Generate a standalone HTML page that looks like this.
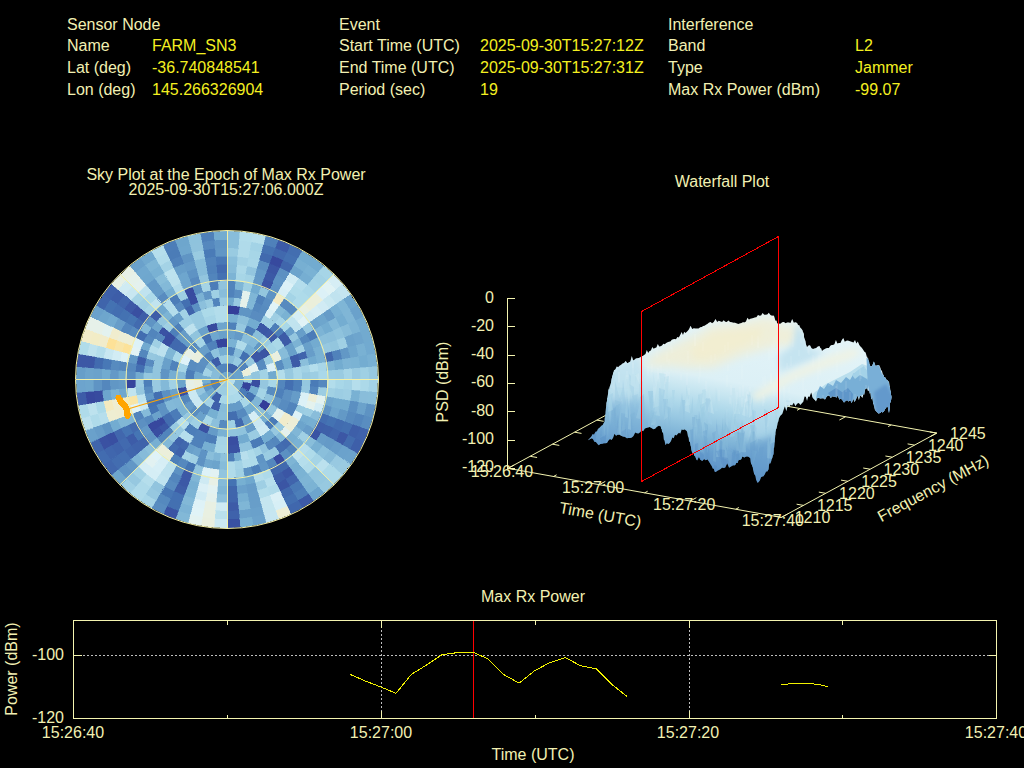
<!DOCTYPE html>
<html lang="en">
<head>
<meta charset="utf-8">
<title>Interference Event Report</title>
<style>
html,body{margin:0;padding:0;background:#000;width:1024px;height:768px;overflow:hidden}
svg{position:absolute;left:0;top:0;display:block}
text{font-family:"Liberation Sans",sans-serif;font-size:16px;fill:#f2f0b2}
.v{fill:#f4f020}
.m{text-anchor:middle}
.e{text-anchor:end}
.ax{stroke:#f4f4b0;stroke-width:1;fill:none;shape-rendering:crispEdges}
.axs{stroke:#f4f4b0;stroke-width:1;fill:none}
.dot{stroke:#bebebe;stroke-width:1;fill:none;stroke-dasharray:2 2;shape-rendering:crispEdges}
</style>
</head>
<body>
<svg width="1024" height="768" viewBox="0 0 1024 768">
<rect width="1024" height="768" fill="#000"/>

<!-- HEADER -->
<g id="header">
<text x="67" y="29.5">Sensor Node</text>
<text x="67" y="51">Name</text><text class="v" x="152" y="51">FARM_SN3</text>
<text x="67" y="73">Lat (deg)</text><text class="v" x="152" y="73">-36.740848541</text>
<text x="67" y="95">Lon (deg)</text><text class="v" x="152" y="95">145.266326904</text>

<text x="339" y="29.5">Event</text>
<text x="339" y="51">Start Time (UTC)</text><text class="v" x="480" y="51">2025-09-30T15:27:12Z</text>
<text x="339" y="73">End Time (UTC)</text><text class="v" x="480" y="73">2025-09-30T15:27:31Z</text>
<text x="339" y="95">Period (sec)</text><text class="v" x="480" y="95">19</text>

<text x="668" y="29.5">Interference</text>
<text x="668" y="51">Band</text><text class="v" x="855" y="51">L2</text>
<text x="668" y="73">Type</text><text class="v" x="855" y="73">Jammer</text>
<text x="668" y="95">Max Rx Power (dBm)</text><text class="v" x="855" y="95">-99.07</text>
</g>

<!-- SKYPLOT -->
<g id="sky">
<text class="m" x="226" y="180">Sky Plot at the Epoch of Max Rx Power</text>
<text class="m" x="226" y="195">2025-09-30T15:27:06.000Z</text>
<g shape-rendering="crispEdges">
<path fill="#679dc9" stroke="#679dc9" stroke-width=".6" d="M227.0 371.3A8.4 8.2 0 0 1 235.4 379.5L227.0 379.5Z"/>
<path fill="#b6deec" stroke="#b6deec" stroke-width=".6" d="M235.4 379.5A8.4 8.2 0 0 1 227.0 387.7L227.0 379.5Z"/>
<path fill="#99cae1" stroke="#99cae1" stroke-width=".6" d="M227.0 387.7A8.4 8.2 0 0 1 218.6 379.5L227.0 379.5Z"/>
<path fill="#70a8ce" stroke="#70a8ce" stroke-width=".6" d="M218.6 379.5A8.4 8.2 0 0 1 227.0 371.3L227.0 379.5Z"/>
<path fill="#3f62aa" stroke="#3f62aa" stroke-width=".6" d="M227.0 363.0A16.7 16.5 0 0 1 238.8 367.9L232.9 373.7A8.4 8.2 0 0 0 227.0 371.3Z"/>
<path fill="#6aa2cb" stroke="#6aa2cb" stroke-width=".6" d="M238.8 367.9A16.7 16.5 0 0 1 243.7 379.5L235.4 379.5A8.4 8.2 0 0 0 232.9 373.7Z"/>
<path fill="#78b0d3" stroke="#78b0d3" stroke-width=".6" d="M243.7 379.5A16.7 16.5 0 0 1 238.8 391.1L232.9 385.3A8.4 8.2 0 0 0 235.4 379.5Z"/>
<path fill="#b3ddeb" stroke="#b3ddeb" stroke-width=".6" d="M238.8 391.1A16.7 16.5 0 0 1 227.0 396.0L227.0 387.7A8.4 8.2 0 0 0 232.9 385.3Z"/>
<path fill="#9ccde2" stroke="#9ccde2" stroke-width=".6" d="M227.0 396.0A16.7 16.5 0 0 1 215.2 391.1L221.1 385.3A8.4 8.2 0 0 0 227.0 387.7Z"/>
<path fill="#4f81ba" stroke="#4f81ba" stroke-width=".6" d="M215.2 391.1A16.7 16.5 0 0 1 210.3 379.5L218.6 379.5A8.4 8.2 0 0 0 221.1 385.3Z"/>
<path fill="#87bcd9" stroke="#87bcd9" stroke-width=".6" d="M210.3 379.5A16.7 16.5 0 0 1 215.2 367.9L221.1 373.7A8.4 8.2 0 0 0 218.6 379.5Z"/>
<path fill="#5386bd" stroke="#5386bd" stroke-width=".6" d="M215.2 367.9A16.7 16.5 0 0 1 227.0 363.0L227.0 371.3A8.4 8.2 0 0 0 221.1 373.7Z"/>
<path fill="#87bcd9" stroke="#87bcd9" stroke-width=".6" d="M227.0 354.8A25.1 24.7 0 0 1 235.6 356.3L232.7 364.0A16.7 16.5 0 0 0 227.0 363.0Z"/>
<path fill="#98cae1" stroke="#98cae1" stroke-width=".6" d="M235.6 356.3A25.1 24.7 0 0 1 243.1 360.6L237.8 366.9A16.7 16.5 0 0 0 232.7 364.0Z"/>
<path fill="#5184bc" stroke="#5184bc" stroke-width=".6" d="M243.1 360.6A25.1 24.7 0 0 1 248.7 367.1L241.5 371.3A16.7 16.5 0 0 0 237.8 366.9Z"/>
<path fill="#ebefda" stroke="#ebefda" stroke-width=".6" d="M248.7 367.1A25.1 24.7 0 0 1 251.7 375.2L243.5 376.6A16.7 16.5 0 0 0 241.5 371.3Z"/>
<path fill="#9acce2" stroke="#9acce2" stroke-width=".6" d="M251.7 375.2A25.1 24.7 0 0 1 251.7 383.8L243.5 382.4A16.7 16.5 0 0 0 243.5 376.6Z"/>
<path fill="#35429b" stroke="#35429b" stroke-width=".6" d="M251.7 383.8A25.1 24.7 0 0 1 248.7 391.8L241.5 387.7A16.7 16.5 0 0 0 243.5 382.4Z"/>
<path fill="#4b7cb8" stroke="#4b7cb8" stroke-width=".6" d="M248.7 391.8A25.1 24.7 0 0 1 243.1 398.4L237.8 392.1A16.7 16.5 0 0 0 241.5 387.7Z"/>
<path fill="#addaea" stroke="#addaea" stroke-width=".6" d="M243.1 398.4A25.1 24.7 0 0 1 235.6 402.7L232.7 395.0A16.7 16.5 0 0 0 237.8 392.1Z"/>
<path fill="#abd9e9" stroke="#abd9e9" stroke-width=".6" d="M235.6 402.7A25.1 24.7 0 0 1 227.0 404.2L227.0 396.0A16.7 16.5 0 0 0 232.7 395.0Z"/>
<path fill="#a8d7e8" stroke="#a8d7e8" stroke-width=".6" d="M227.0 404.2A25.1 24.7 0 0 1 218.4 402.7L221.3 395.0A16.7 16.5 0 0 0 227.0 396.0Z"/>
<path fill="#3e5ea9" stroke="#3e5ea9" stroke-width=".6" d="M218.4 402.7A25.1 24.7 0 0 1 210.9 398.4L216.2 392.1A16.7 16.5 0 0 0 221.3 395.0Z"/>
<path fill="#70a8cf" stroke="#70a8cf" stroke-width=".6" d="M210.9 398.4A25.1 24.7 0 0 1 205.3 391.9L212.5 387.7A16.7 16.5 0 0 0 216.2 392.1Z"/>
<path fill="#6196c5" stroke="#6196c5" stroke-width=".6" d="M205.3 391.9A25.1 24.7 0 0 1 202.3 383.8L210.5 382.4A16.7 16.5 0 0 0 212.5 387.7Z"/>
<path fill="#75aed1" stroke="#75aed1" stroke-width=".6" d="M202.3 383.8A25.1 24.7 0 0 1 202.3 375.2L210.5 376.6A16.7 16.5 0 0 0 210.5 382.4Z"/>
<path fill="#a2d2e5" stroke="#a2d2e5" stroke-width=".6" d="M202.3 375.2A25.1 24.7 0 0 1 205.3 367.1L212.5 371.3A16.7 16.5 0 0 0 210.5 376.6Z"/>
<path fill="#80b7d6" stroke="#80b7d6" stroke-width=".6" d="M205.3 367.1A25.1 24.7 0 0 1 210.9 360.6L216.2 366.9A16.7 16.5 0 0 0 212.5 371.3Z"/>
<path fill="#3d5da8" stroke="#3d5da8" stroke-width=".6" d="M210.9 360.6A25.1 24.7 0 0 1 218.4 356.3L221.3 364.0A16.7 16.5 0 0 0 216.2 366.9Z"/>
<path fill="#9bcde2" stroke="#9bcde2" stroke-width=".6" d="M218.4 356.3A25.1 24.7 0 0 1 227.0 354.8L227.0 363.0A16.7 16.5 0 0 0 221.3 364.0Z"/>
<path fill="#5082bb" stroke="#5082bb" stroke-width=".6" d="M227.0 346.6A33.5 32.9 0 0 1 235.7 347.7L233.5 355.6A25.1 24.7 0 0 0 227.0 354.8Z"/>
<path fill="#88bdda" stroke="#88bdda" stroke-width=".6" d="M235.7 347.7A33.5 32.9 0 0 1 243.7 351.0L239.6 358.1A25.1 24.7 0 0 0 233.5 355.6Z"/>
<path fill="#436fb1" stroke="#436fb1" stroke-width=".6" d="M243.7 351.0A33.5 32.9 0 0 1 250.7 356.2L244.7 362.0A25.1 24.7 0 0 0 239.6 358.1Z"/>
<path fill="#93c6df" stroke="#93c6df" stroke-width=".6" d="M250.7 356.2A33.5 32.9 0 0 1 256.0 363.0L248.7 367.1A25.1 24.7 0 0 0 244.7 362.0Z"/>
<path fill="#e3f2f1" stroke="#e3f2f1" stroke-width=".6" d="M256.0 363.0A33.5 32.9 0 0 1 259.3 371.0L251.2 373.1A25.1 24.7 0 0 0 248.7 367.1Z"/>
<path fill="#92c5de" stroke="#92c5de" stroke-width=".6" d="M259.3 371.0A33.5 32.9 0 0 1 260.5 379.5L252.1 379.5A25.1 24.7 0 0 0 251.2 373.1Z"/>
<path fill="#394ea1" stroke="#394ea1" stroke-width=".6" d="M260.5 379.5A33.5 32.9 0 0 1 259.3 388.0L251.2 385.9A25.1 24.7 0 0 0 252.1 379.5Z"/>
<path fill="#74add1" stroke="#74add1" stroke-width=".6" d="M259.3 388.0A33.5 32.9 0 0 1 256.0 396.0L248.7 391.8A25.1 24.7 0 0 0 251.2 385.9Z"/>
<path fill="#4370b1" stroke="#4370b1" stroke-width=".6" d="M256.0 396.0A33.5 32.9 0 0 1 250.7 402.8L244.7 397.0A25.1 24.7 0 0 0 248.7 391.8Z"/>
<path fill="#a8d7e8" stroke="#a8d7e8" stroke-width=".6" d="M250.7 402.8A33.5 32.9 0 0 1 243.7 408.0L239.6 400.9A25.1 24.7 0 0 0 244.7 397.0Z"/>
<path fill="#659bc8" stroke="#659bc8" stroke-width=".6" d="M243.7 408.0A33.5 32.9 0 0 1 235.7 411.3L233.5 403.4A25.1 24.7 0 0 0 239.6 400.9Z"/>
<path fill="#659bc7" stroke="#659bc7" stroke-width=".6" d="M235.7 411.3A33.5 32.9 0 0 1 227.0 412.4L227.0 404.2A25.1 24.7 0 0 0 233.5 403.4Z"/>
<path fill="#87bcd9" stroke="#87bcd9" stroke-width=".6" d="M227.0 412.4A33.5 32.9 0 0 1 218.3 411.3L220.5 403.4A25.1 24.7 0 0 0 227.0 404.2Z"/>
<path fill="#3e60aa" stroke="#3e60aa" stroke-width=".6" d="M218.3 411.3A33.5 32.9 0 0 1 210.3 408.0L214.4 400.9A25.1 24.7 0 0 0 220.5 403.4Z"/>
<path fill="#a3d2e5" stroke="#a3d2e5" stroke-width=".6" d="M210.3 408.0A33.5 32.9 0 0 1 203.3 402.8L209.3 397.0A25.1 24.7 0 0 0 214.4 400.9Z"/>
<path fill="#7cb4d5" stroke="#7cb4d5" stroke-width=".6" d="M203.3 402.8A33.5 32.9 0 0 1 198.0 396.0L205.3 391.9A25.1 24.7 0 0 0 209.3 397.0Z"/>
<path fill="#94c6df" stroke="#94c6df" stroke-width=".6" d="M198.0 396.0A33.5 32.9 0 0 1 194.7 388.0L202.8 385.9A25.1 24.7 0 0 0 205.3 391.9Z"/>
<path fill="#e9efdf" stroke="#e9efdf" stroke-width=".6" d="M194.7 388.0A33.5 32.9 0 0 1 193.5 379.5L201.9 379.5A25.1 24.7 0 0 0 202.8 385.9Z"/>
<path fill="#71a9cf" stroke="#71a9cf" stroke-width=".6" d="M193.5 379.5A33.5 32.9 0 0 1 194.7 371.0L202.8 373.1A25.1 24.7 0 0 0 201.9 379.5Z"/>
<path fill="#5a8ec1" stroke="#5a8ec1" stroke-width=".6" d="M194.7 371.0A33.5 32.9 0 0 1 198.0 363.0L205.3 367.1A25.1 24.7 0 0 0 202.8 373.1Z"/>
<path fill="#5c90c2" stroke="#5c90c2" stroke-width=".6" d="M198.0 363.0A33.5 32.9 0 0 1 203.3 356.2L209.3 362.0A25.1 24.7 0 0 0 205.3 367.1Z"/>
<path fill="#4d7fb9" stroke="#4d7fb9" stroke-width=".6" d="M203.3 356.2A33.5 32.9 0 0 1 210.3 351.0L214.4 358.1A25.1 24.7 0 0 0 209.3 362.0Z"/>
<path fill="#8fc3dd" stroke="#8fc3dd" stroke-width=".6" d="M210.3 351.0A33.5 32.9 0 0 1 218.3 347.7L220.5 355.6A25.1 24.7 0 0 0 214.4 358.1Z"/>
<path fill="#76aed2" stroke="#76aed2" stroke-width=".6" d="M218.3 347.7A33.5 32.9 0 0 1 227.0 346.6L227.0 354.8A25.1 24.7 0 0 0 220.5 355.6Z"/>
<path fill="#7ab2d4" stroke="#7ab2d4" stroke-width=".6" d="M227.0 338.3A41.8 41.2 0 0 1 237.8 339.7L235.7 347.7A33.5 32.9 0 0 0 227.0 346.6Z"/>
<path fill="#b0dbea" stroke="#b0dbea" stroke-width=".6" d="M237.8 339.7A41.8 41.2 0 0 1 247.9 343.8L243.7 351.0A33.5 32.9 0 0 0 235.7 347.7Z"/>
<path fill="#78b0d3" stroke="#78b0d3" stroke-width=".6" d="M247.9 343.8A41.8 41.2 0 0 1 256.6 350.4L250.7 356.2A33.5 32.9 0 0 0 243.7 351.0Z"/>
<path fill="#3c57a5" stroke="#3c57a5" stroke-width=".6" d="M256.6 350.4A41.8 41.2 0 0 1 263.2 358.9L256.0 363.0A33.5 32.9 0 0 0 250.7 356.2Z"/>
<path fill="#578abf" stroke="#578abf" stroke-width=".6" d="M263.2 358.9A41.8 41.2 0 0 1 267.4 368.8L259.3 371.0A33.5 32.9 0 0 0 256.0 363.0Z"/>
<path fill="#a2d2e5" stroke="#a2d2e5" stroke-width=".6" d="M267.4 368.8A41.8 41.2 0 0 1 268.8 379.5L260.5 379.5A33.5 32.9 0 0 0 259.3 371.0Z"/>
<path fill="#95c7df" stroke="#95c7df" stroke-width=".6" d="M268.8 379.5A41.8 41.2 0 0 1 267.4 390.2L259.3 388.0A33.5 32.9 0 0 0 260.5 379.5Z"/>
<path fill="#a4d4e6" stroke="#a4d4e6" stroke-width=".6" d="M267.4 390.2A41.8 41.2 0 0 1 263.2 400.1L256.0 396.0A33.5 32.9 0 0 0 259.3 388.0Z"/>
<path fill="#80b6d6" stroke="#80b6d6" stroke-width=".6" d="M263.2 400.1A41.8 41.2 0 0 1 256.6 408.6L250.7 402.8A33.5 32.9 0 0 0 256.0 396.0Z"/>
<path fill="#76afd2" stroke="#76afd2" stroke-width=".6" d="M256.6 408.6A41.8 41.2 0 0 1 247.9 415.2L243.7 408.0A33.5 32.9 0 0 0 250.7 402.8Z"/>
<path fill="#568abf" stroke="#568abf" stroke-width=".6" d="M247.9 415.2A41.8 41.2 0 0 1 237.8 419.3L235.7 411.3A33.5 32.9 0 0 0 243.7 408.0Z"/>
<path fill="#436eb0" stroke="#436eb0" stroke-width=".6" d="M237.8 419.3A41.8 41.2 0 0 1 227.0 420.7L227.0 412.4A33.5 32.9 0 0 0 235.7 411.3Z"/>
<path fill="#89beda" stroke="#89beda" stroke-width=".6" d="M227.0 420.7A41.8 41.2 0 0 1 216.2 419.3L218.3 411.3A33.5 32.9 0 0 0 227.0 412.4Z"/>
<path fill="#77b0d2" stroke="#77b0d2" stroke-width=".6" d="M216.2 419.3A41.8 41.2 0 0 1 206.1 415.2L210.3 408.0A33.5 32.9 0 0 0 218.3 411.3Z"/>
<path fill="#5b8fc2" stroke="#5b8fc2" stroke-width=".6" d="M206.1 415.2A41.8 41.2 0 0 1 197.4 408.6L203.3 402.8A33.5 32.9 0 0 0 210.3 408.0Z"/>
<path fill="#cae8f2" stroke="#cae8f2" stroke-width=".6" d="M197.4 408.6A41.8 41.2 0 0 1 190.8 400.1L198.0 396.0A33.5 32.9 0 0 0 203.3 402.8Z"/>
<path fill="#cbe9f2" stroke="#cbe9f2" stroke-width=".6" d="M190.8 400.1A41.8 41.2 0 0 1 186.6 390.2L194.7 388.0A33.5 32.9 0 0 0 198.0 396.0Z"/>
<path fill="#e6f0e7" stroke="#e6f0e7" stroke-width=".6" d="M186.6 390.2A41.8 41.2 0 0 1 185.2 379.5L193.5 379.5A33.5 32.9 0 0 0 194.7 388.0Z"/>
<path fill="#4c7db8" stroke="#4c7db8" stroke-width=".6" d="M185.2 379.5A41.8 41.2 0 0 1 186.6 368.8L194.7 371.0A33.5 32.9 0 0 0 193.5 379.5Z"/>
<path fill="#588cc0" stroke="#588cc0" stroke-width=".6" d="M186.6 368.8A41.8 41.2 0 0 1 190.8 358.9L198.0 363.0A33.5 32.9 0 0 0 194.7 371.0Z"/>
<path fill="#e9efdf" stroke="#e9efdf" stroke-width=".6" d="M190.8 358.9A41.8 41.2 0 0 1 197.4 350.4L203.3 356.2A33.5 32.9 0 0 0 198.0 363.0Z"/>
<path fill="#689ec9" stroke="#689ec9" stroke-width=".6" d="M197.4 350.4A41.8 41.2 0 0 1 206.1 343.8L210.3 351.0A33.5 32.9 0 0 0 203.3 356.2Z"/>
<path fill="#5082bb" stroke="#5082bb" stroke-width=".6" d="M206.1 343.8A41.8 41.2 0 0 1 216.2 339.7L218.3 347.7A33.5 32.9 0 0 0 210.3 351.0Z"/>
<path fill="#35449c" stroke="#35449c" stroke-width=".6" d="M216.2 339.7A41.8 41.2 0 0 1 227.0 338.3L227.0 346.6A33.5 32.9 0 0 0 218.3 347.7Z"/>
<path fill="#6aa2cb" stroke="#6aa2cb" stroke-width=".6" d="M227.0 330.1A50.2 49.4 0 0 1 235.7 330.9L234.3 339.0A41.8 41.2 0 0 0 227.0 338.3Z"/>
<path fill="#649ac7" stroke="#649ac7" stroke-width=".6" d="M235.7 330.9A50.2 49.4 0 0 1 244.2 333.1L241.3 340.8A41.8 41.2 0 0 0 234.3 339.0Z"/>
<path fill="#88bdda" stroke="#88bdda" stroke-width=".6" d="M244.2 333.1A50.2 49.4 0 0 1 252.1 336.7L247.9 343.8A41.8 41.2 0 0 0 241.3 340.8Z"/>
<path fill="#83b9d8" stroke="#83b9d8" stroke-width=".6" d="M252.1 336.7A50.2 49.4 0 0 1 259.3 341.7L253.9 348.0A41.8 41.2 0 0 0 247.9 343.8Z"/>
<path fill="#6197c5" stroke="#6197c5" stroke-width=".6" d="M259.3 341.7A50.2 49.4 0 0 1 265.5 347.7L259.0 353.0A41.8 41.2 0 0 0 253.9 348.0Z"/>
<path fill="#3a53a3" stroke="#3a53a3" stroke-width=".6" d="M265.5 347.7A50.2 49.4 0 0 1 270.5 354.8L263.2 358.9A41.8 41.2 0 0 0 259.0 353.0Z"/>
<path fill="#99cae1" stroke="#99cae1" stroke-width=".6" d="M270.5 354.8A50.2 49.4 0 0 1 274.2 362.6L266.3 365.4A41.8 41.2 0 0 0 263.2 358.9Z"/>
<path fill="#dbf0f7" stroke="#dbf0f7" stroke-width=".6" d="M274.2 362.6A50.2 49.4 0 0 1 276.4 370.9L268.2 372.4A41.8 41.2 0 0 0 266.3 365.4Z"/>
<path fill="#71aacf" stroke="#71aacf" stroke-width=".6" d="M276.4 370.9A50.2 49.4 0 0 1 277.2 379.5L268.8 379.5A41.8 41.2 0 0 0 268.2 372.4Z"/>
<path fill="#a8d7e8" stroke="#a8d7e8" stroke-width=".6" d="M277.2 379.5A50.2 49.4 0 0 1 276.4 388.1L268.2 386.6A41.8 41.2 0 0 0 268.8 379.5Z"/>
<path fill="#588cc0" stroke="#588cc0" stroke-width=".6" d="M276.4 388.1A50.2 49.4 0 0 1 274.2 396.4L266.3 393.6A41.8 41.2 0 0 0 268.2 386.6Z"/>
<path fill="#90c3dd" stroke="#90c3dd" stroke-width=".6" d="M274.2 396.4A50.2 49.4 0 0 1 270.5 404.2L263.2 400.1A41.8 41.2 0 0 0 266.3 393.6Z"/>
<path fill="#333d99" stroke="#333d99" stroke-width=".6" d="M270.5 404.2A50.2 49.4 0 0 1 265.5 411.3L259.0 406.0A41.8 41.2 0 0 0 263.2 400.1Z"/>
<path fill="#8abeda" stroke="#8abeda" stroke-width=".6" d="M265.5 411.3A50.2 49.4 0 0 1 259.3 417.3L253.9 411.0A41.8 41.2 0 0 0 259.0 406.0Z"/>
<path fill="#d6eef5" stroke="#d6eef5" stroke-width=".6" d="M259.3 417.3A50.2 49.4 0 0 1 252.1 422.3L247.9 415.2A41.8 41.2 0 0 0 253.9 411.0Z"/>
<path fill="#689fca" stroke="#689fca" stroke-width=".6" d="M252.1 422.3A50.2 49.4 0 0 1 244.2 425.9L241.3 418.2A41.8 41.2 0 0 0 247.9 415.2Z"/>
<path fill="#4169ae" stroke="#4169ae" stroke-width=".6" d="M244.2 425.9A50.2 49.4 0 0 1 235.7 428.1L234.3 420.0A41.8 41.2 0 0 0 241.3 418.2Z"/>
<path fill="#9fd0e4" stroke="#9fd0e4" stroke-width=".6" d="M235.7 428.1A50.2 49.4 0 0 1 227.0 428.9L227.0 420.7A41.8 41.2 0 0 0 234.3 420.0Z"/>
<path fill="#578bbf" stroke="#578bbf" stroke-width=".6" d="M227.0 428.9A50.2 49.4 0 0 1 218.3 428.1L219.7 420.0A41.8 41.2 0 0 0 227.0 420.7Z"/>
<path fill="#8cc0dc" stroke="#8cc0dc" stroke-width=".6" d="M218.3 428.1A50.2 49.4 0 0 1 209.8 425.9L212.7 418.2A41.8 41.2 0 0 0 219.7 420.0Z"/>
<path fill="#a8d7e8" stroke="#a8d7e8" stroke-width=".6" d="M209.8 425.9A50.2 49.4 0 0 1 201.9 422.3L206.1 415.2A41.8 41.2 0 0 0 212.7 418.2Z"/>
<path fill="#6aa1cb" stroke="#6aa1cb" stroke-width=".6" d="M201.9 422.3A50.2 49.4 0 0 1 194.7 417.3L200.1 411.0A41.8 41.2 0 0 0 206.1 415.2Z"/>
<path fill="#5a8ec1" stroke="#5a8ec1" stroke-width=".6" d="M194.7 417.3A50.2 49.4 0 0 1 188.5 411.3L195.0 406.0A41.8 41.2 0 0 0 200.1 411.0Z"/>
<path fill="#649ac7" stroke="#649ac7" stroke-width=".6" d="M188.5 411.3A50.2 49.4 0 0 1 183.5 404.2L190.8 400.1A41.8 41.2 0 0 0 195.0 406.0Z"/>
<path fill="#5386bd" stroke="#5386bd" stroke-width=".6" d="M183.5 404.2A50.2 49.4 0 0 1 179.8 396.4L187.7 393.6A41.8 41.2 0 0 0 190.8 400.1Z"/>
<path fill="#384da0" stroke="#384da0" stroke-width=".6" d="M179.8 396.4A50.2 49.4 0 0 1 177.6 388.1L185.8 386.6A41.8 41.2 0 0 0 187.7 393.6Z"/>
<path fill="#6ca4cc" stroke="#6ca4cc" stroke-width=".6" d="M177.6 388.1A50.2 49.4 0 0 1 176.8 379.5L185.2 379.5A41.8 41.2 0 0 0 185.8 386.6Z"/>
<path fill="#83b9d8" stroke="#83b9d8" stroke-width=".6" d="M176.8 379.5A50.2 49.4 0 0 1 177.6 370.9L185.8 372.4A41.8 41.2 0 0 0 185.2 379.5Z"/>
<path fill="#a4d3e6" stroke="#a4d3e6" stroke-width=".6" d="M177.6 370.9A50.2 49.4 0 0 1 179.8 362.6L187.7 365.4A41.8 41.2 0 0 0 185.8 372.4Z"/>
<path fill="#dff2f8" stroke="#dff2f8" stroke-width=".6" d="M179.8 362.6A50.2 49.4 0 0 1 183.5 354.8L190.8 358.9A41.8 41.2 0 0 0 187.7 365.4Z"/>
<path fill="#e7f0e6" stroke="#e7f0e6" stroke-width=".6" d="M183.5 354.8A50.2 49.4 0 0 1 188.5 347.7L195.0 353.0A41.8 41.2 0 0 0 190.8 358.9Z"/>
<path fill="#598dc1" stroke="#598dc1" stroke-width=".6" d="M188.5 347.7A50.2 49.4 0 0 1 194.7 341.7L200.1 348.0A41.8 41.2 0 0 0 195.0 353.0Z"/>
<path fill="#a5d4e6" stroke="#a5d4e6" stroke-width=".6" d="M194.7 341.7A50.2 49.4 0 0 1 201.9 336.7L206.1 343.8A41.8 41.2 0 0 0 200.1 348.0Z"/>
<path fill="#436fb1" stroke="#436fb1" stroke-width=".6" d="M201.9 336.7A50.2 49.4 0 0 1 209.8 333.1L212.7 340.8A41.8 41.2 0 0 0 206.1 343.8Z"/>
<path fill="#6fa7ce" stroke="#6fa7ce" stroke-width=".6" d="M209.8 333.1A50.2 49.4 0 0 1 218.3 330.9L219.7 339.0A41.8 41.2 0 0 0 212.7 340.8Z"/>
<path fill="#69a0ca" stroke="#69a0ca" stroke-width=".6" d="M218.3 330.9A50.2 49.4 0 0 1 227.0 330.1L227.0 338.3A41.8 41.2 0 0 0 219.7 339.0Z"/>
<path fill="#4f81ba" stroke="#4f81ba" stroke-width=".6" d="M227.0 321.9A58.6 57.6 0 0 1 237.2 322.7L235.7 330.9A50.2 49.4 0 0 0 227.0 330.1Z"/>
<path fill="#96c8e0" stroke="#96c8e0" stroke-width=".6" d="M237.2 322.7A58.6 57.6 0 0 1 247.0 325.3L244.2 333.1A50.2 49.4 0 0 0 235.7 330.9Z"/>
<path fill="#4c7db8" stroke="#4c7db8" stroke-width=".6" d="M247.0 325.3A58.6 57.6 0 0 1 256.3 329.6L252.1 336.7A50.2 49.4 0 0 0 244.2 333.1Z"/>
<path fill="#89beda" stroke="#89beda" stroke-width=".6" d="M256.3 329.6A58.6 57.6 0 0 1 264.6 335.4L259.3 341.7A50.2 49.4 0 0 0 252.1 336.7Z"/>
<path fill="#99cbe1" stroke="#99cbe1" stroke-width=".6" d="M264.6 335.4A58.6 57.6 0 0 1 271.9 342.5L265.5 347.7A50.2 49.4 0 0 0 259.3 341.7Z"/>
<path fill="#a4d4e6" stroke="#a4d4e6" stroke-width=".6" d="M271.9 342.5A58.6 57.6 0 0 1 277.7 350.7L270.5 354.8A50.2 49.4 0 0 0 265.5 347.7Z"/>
<path fill="#e9efdf" stroke="#e9efdf" stroke-width=".6" d="M277.7 350.7A58.6 57.6 0 0 1 282.0 359.8L274.2 362.6A50.2 49.4 0 0 0 270.5 354.8Z"/>
<path fill="#598dc0" stroke="#598dc0" stroke-width=".6" d="M282.0 359.8A58.6 57.6 0 0 1 284.7 369.5L276.4 370.9A50.2 49.4 0 0 0 274.2 362.6Z"/>
<path fill="#b3ddeb" stroke="#b3ddeb" stroke-width=".6" d="M284.7 369.5A58.6 57.6 0 0 1 285.6 379.5L277.2 379.5A50.2 49.4 0 0 0 276.4 370.9Z"/>
<path fill="#5386bd" stroke="#5386bd" stroke-width=".6" d="M285.6 379.5A58.6 57.6 0 0 1 284.7 389.5L276.4 388.1A50.2 49.4 0 0 0 277.2 379.5Z"/>
<path fill="#4e80ba" stroke="#4e80ba" stroke-width=".6" d="M284.7 389.5A58.6 57.6 0 0 1 282.0 399.2L274.2 396.4A50.2 49.4 0 0 0 276.4 388.1Z"/>
<path fill="#6196c5" stroke="#6196c5" stroke-width=".6" d="M282.0 399.2A58.6 57.6 0 0 1 277.7 408.3L270.5 404.2A50.2 49.4 0 0 0 274.2 396.4Z"/>
<path fill="#91c4de" stroke="#91c4de" stroke-width=".6" d="M277.7 408.3A58.6 57.6 0 0 1 271.9 416.5L265.5 411.3A50.2 49.4 0 0 0 270.5 404.2Z"/>
<path fill="#76aed2" stroke="#76aed2" stroke-width=".6" d="M271.9 416.5A58.6 57.6 0 0 1 264.6 423.6L259.3 417.3A50.2 49.4 0 0 0 265.5 411.3Z"/>
<path fill="#c8e7f1" stroke="#c8e7f1" stroke-width=".6" d="M264.6 423.6A58.6 57.6 0 0 1 256.3 429.4L252.1 422.3A50.2 49.4 0 0 0 259.3 417.3Z"/>
<path fill="#669cc8" stroke="#669cc8" stroke-width=".6" d="M256.3 429.4A58.6 57.6 0 0 1 247.0 433.7L244.2 425.9A50.2 49.4 0 0 0 252.1 422.3Z"/>
<path fill="#8fc3dd" stroke="#8fc3dd" stroke-width=".6" d="M247.0 433.7A58.6 57.6 0 0 1 237.2 436.3L235.7 428.1A50.2 49.4 0 0 0 244.2 425.9Z"/>
<path fill="#91c4de" stroke="#91c4de" stroke-width=".6" d="M237.2 436.3A58.6 57.6 0 0 1 227.0 437.1L227.0 428.9A50.2 49.4 0 0 0 235.7 428.1Z"/>
<path fill="#79b1d3" stroke="#79b1d3" stroke-width=".6" d="M227.0 437.1A58.6 57.6 0 0 1 216.8 436.3L218.3 428.1A50.2 49.4 0 0 0 227.0 428.9Z"/>
<path fill="#659bc8" stroke="#659bc8" stroke-width=".6" d="M216.8 436.3A58.6 57.6 0 0 1 207.0 433.7L209.8 425.9A50.2 49.4 0 0 0 218.3 428.1Z"/>
<path fill="#3a51a2" stroke="#3a51a2" stroke-width=".6" d="M207.0 433.7A58.6 57.6 0 0 1 197.7 429.4L201.9 422.3A50.2 49.4 0 0 0 209.8 425.9Z"/>
<path fill="#a0d0e4" stroke="#a0d0e4" stroke-width=".6" d="M197.7 429.4A58.6 57.6 0 0 1 189.4 423.6L194.7 417.3A50.2 49.4 0 0 0 201.9 422.3Z"/>
<path fill="#96c8e0" stroke="#96c8e0" stroke-width=".6" d="M189.4 423.6A58.6 57.6 0 0 1 182.1 416.5L188.5 411.3A50.2 49.4 0 0 0 194.7 417.3Z"/>
<path fill="#7eb5d5" stroke="#7eb5d5" stroke-width=".6" d="M182.1 416.5A58.6 57.6 0 0 1 176.3 408.3L183.5 404.2A50.2 49.4 0 0 0 188.5 411.3Z"/>
<path fill="#81b7d7" stroke="#81b7d7" stroke-width=".6" d="M176.3 408.3A58.6 57.6 0 0 1 172.0 399.2L179.8 396.4A50.2 49.4 0 0 0 183.5 404.2Z"/>
<path fill="#6aa1cb" stroke="#6aa1cb" stroke-width=".6" d="M172.0 399.2A58.6 57.6 0 0 1 169.3 389.5L177.6 388.1A50.2 49.4 0 0 0 179.8 396.4Z"/>
<path fill="#a1d1e5" stroke="#a1d1e5" stroke-width=".6" d="M169.3 389.5A58.6 57.6 0 0 1 168.4 379.5L176.8 379.5A50.2 49.4 0 0 0 177.6 388.1Z"/>
<path fill="#76aed2" stroke="#76aed2" stroke-width=".6" d="M168.4 379.5A58.6 57.6 0 0 1 169.3 369.5L177.6 370.9A50.2 49.4 0 0 0 176.8 379.5Z"/>
<path fill="#5082bb" stroke="#5082bb" stroke-width=".6" d="M169.3 369.5A58.6 57.6 0 0 1 172.0 359.8L179.8 362.6A50.2 49.4 0 0 0 177.6 370.9Z"/>
<path fill="#aad8e9" stroke="#aad8e9" stroke-width=".6" d="M172.0 359.8A58.6 57.6 0 0 1 176.3 350.7L183.5 354.8A50.2 49.4 0 0 0 179.8 362.6Z"/>
<path fill="#426aaf" stroke="#426aaf" stroke-width=".6" d="M176.3 350.7A58.6 57.6 0 0 1 182.1 342.5L188.5 347.7A50.2 49.4 0 0 0 183.5 354.8Z"/>
<path fill="#659cc8" stroke="#659cc8" stroke-width=".6" d="M182.1 342.5A58.6 57.6 0 0 1 189.4 335.4L194.7 341.7A50.2 49.4 0 0 0 188.5 347.7Z"/>
<path fill="#90c4dd" stroke="#90c4dd" stroke-width=".6" d="M189.4 335.4A58.6 57.6 0 0 1 197.7 329.6L201.9 336.7A50.2 49.4 0 0 0 194.7 341.7Z"/>
<path fill="#6aa1cb" stroke="#6aa1cb" stroke-width=".6" d="M197.7 329.6A58.6 57.6 0 0 1 207.0 325.3L209.8 333.1A50.2 49.4 0 0 0 201.9 336.7Z"/>
<path fill="#37499e" stroke="#37499e" stroke-width=".6" d="M207.0 325.3A58.6 57.6 0 0 1 216.8 322.7L218.3 330.9A50.2 49.4 0 0 0 209.8 333.1Z"/>
<path fill="#6ea5cd" stroke="#6ea5cd" stroke-width=".6" d="M216.8 322.7A58.6 57.6 0 0 1 227.0 321.9L227.0 330.1A50.2 49.4 0 0 0 218.3 330.9Z"/>
<path fill="#78b0d3" stroke="#78b0d3" stroke-width=".6" d="M227.0 313.6A66.9 65.9 0 0 1 238.6 314.6L237.2 322.7A58.6 57.6 0 0 0 227.0 321.9Z"/>
<path fill="#8cc0db" stroke="#8cc0db" stroke-width=".6" d="M238.6 314.6A66.9 65.9 0 0 1 249.9 317.6L247.0 325.3A58.6 57.6 0 0 0 237.2 322.7Z"/>
<path fill="#73acd0" stroke="#73acd0" stroke-width=".6" d="M249.9 317.6A66.9 65.9 0 0 1 260.5 322.5L256.3 329.6A58.6 57.6 0 0 0 247.0 325.3Z"/>
<path fill="#3b57a5" stroke="#3b57a5" stroke-width=".6" d="M260.5 322.5A66.9 65.9 0 0 1 270.0 329.0L264.6 335.4A58.6 57.6 0 0 0 256.3 329.6Z"/>
<path fill="#3d5aa7" stroke="#3d5aa7" stroke-width=".6" d="M270.0 329.0A66.9 65.9 0 0 1 278.3 337.2L271.9 342.5A58.6 57.6 0 0 0 264.6 335.4Z"/>
<path fill="#aad8e8" stroke="#aad8e8" stroke-width=".6" d="M278.3 337.2A66.9 65.9 0 0 1 285.0 346.6L277.7 350.7A58.6 57.6 0 0 0 271.9 342.5Z"/>
<path fill="#87bcd9" stroke="#87bcd9" stroke-width=".6" d="M285.0 346.6A66.9 65.9 0 0 1 289.9 357.0L282.0 359.8A58.6 57.6 0 0 0 277.7 350.7Z"/>
<path fill="#74add1" stroke="#74add1" stroke-width=".6" d="M289.9 357.0A66.9 65.9 0 0 1 292.9 368.1L284.7 369.5A58.6 57.6 0 0 0 282.0 359.8Z"/>
<path fill="#97c9e0" stroke="#97c9e0" stroke-width=".6" d="M292.9 368.1A66.9 65.9 0 0 1 293.9 379.5L285.6 379.5A58.6 57.6 0 0 0 284.7 369.5Z"/>
<path fill="#436fb1" stroke="#436fb1" stroke-width=".6" d="M293.9 379.5A66.9 65.9 0 0 1 292.9 390.9L284.7 389.5A58.6 57.6 0 0 0 285.6 379.5Z"/>
<path fill="#5c90c2" stroke="#5c90c2" stroke-width=".6" d="M292.9 390.9A66.9 65.9 0 0 1 289.9 402.0L282.0 399.2A58.6 57.6 0 0 0 284.7 389.5Z"/>
<path fill="#588cc0" stroke="#588cc0" stroke-width=".6" d="M289.9 402.0A66.9 65.9 0 0 1 285.0 412.4L277.7 408.3A58.6 57.6 0 0 0 282.0 399.2Z"/>
<path fill="#e4f1ed" stroke="#e4f1ed" stroke-width=".6" d="M285.0 412.4A66.9 65.9 0 0 1 278.3 421.8L271.9 416.5A58.6 57.6 0 0 0 277.7 408.3Z"/>
<path fill="#4a7bb7" stroke="#4a7bb7" stroke-width=".6" d="M278.3 421.8A66.9 65.9 0 0 1 270.0 430.0L264.6 423.6A58.6 57.6 0 0 0 271.9 416.5Z"/>
<path fill="#cdeaf3" stroke="#cdeaf3" stroke-width=".6" d="M270.0 430.0A66.9 65.9 0 0 1 260.5 436.5L256.3 429.4A58.6 57.6 0 0 0 264.6 423.6Z"/>
<path fill="#9acce2" stroke="#9acce2" stroke-width=".6" d="M260.5 436.5A66.9 65.9 0 0 1 249.9 441.4L247.0 433.7A58.6 57.6 0 0 0 256.3 429.4Z"/>
<path fill="#72abd0" stroke="#72abd0" stroke-width=".6" d="M249.9 441.4A66.9 65.9 0 0 1 238.6 444.4L237.2 436.3A58.6 57.6 0 0 0 247.0 433.7Z"/>
<path fill="#394ea1" stroke="#394ea1" stroke-width=".6" d="M238.6 444.4A66.9 65.9 0 0 1 227.0 445.4L227.0 437.1A58.6 57.6 0 0 0 237.2 436.3Z"/>
<path fill="#a5d4e7" stroke="#a5d4e7" stroke-width=".6" d="M227.0 445.4A66.9 65.9 0 0 1 215.4 444.4L216.8 436.3A58.6 57.6 0 0 0 227.0 437.1Z"/>
<path fill="#4c7db8" stroke="#4c7db8" stroke-width=".6" d="M215.4 444.4A66.9 65.9 0 0 1 204.1 441.4L207.0 433.7A58.6 57.6 0 0 0 216.8 436.3Z"/>
<path fill="#4e80ba" stroke="#4e80ba" stroke-width=".6" d="M204.1 441.4A66.9 65.9 0 0 1 193.5 436.5L197.7 429.4A58.6 57.6 0 0 0 207.0 433.7Z"/>
<path fill="#4c7eb9" stroke="#4c7eb9" stroke-width=".6" d="M193.5 436.5A66.9 65.9 0 0 1 184.0 430.0L189.4 423.6A58.6 57.6 0 0 0 197.7 429.4Z"/>
<path fill="#b7dfec" stroke="#b7dfec" stroke-width=".6" d="M184.0 430.0A66.9 65.9 0 0 1 175.7 421.8L182.1 416.5A58.6 57.6 0 0 0 189.4 423.6Z"/>
<path fill="#4b7cb8" stroke="#4b7cb8" stroke-width=".6" d="M175.7 421.8A66.9 65.9 0 0 1 169.0 412.4L176.3 408.3A58.6 57.6 0 0 0 182.1 416.5Z"/>
<path fill="#83b9d8" stroke="#83b9d8" stroke-width=".6" d="M169.0 412.4A66.9 65.9 0 0 1 164.1 402.0L172.0 399.2A58.6 57.6 0 0 0 176.3 408.3Z"/>
<path fill="#5b90c2" stroke="#5b90c2" stroke-width=".6" d="M164.1 402.0A66.9 65.9 0 0 1 161.1 390.9L169.3 389.5A58.6 57.6 0 0 0 172.0 399.2Z"/>
<path fill="#83b9d8" stroke="#83b9d8" stroke-width=".6" d="M161.1 390.9A66.9 65.9 0 0 1 160.1 379.5L168.4 379.5A58.6 57.6 0 0 0 169.3 389.5Z"/>
<path fill="#5f94c4" stroke="#5f94c4" stroke-width=".6" d="M160.1 379.5A66.9 65.9 0 0 1 161.1 368.1L169.3 369.5A58.6 57.6 0 0 0 168.4 379.5Z"/>
<path fill="#69a0ca" stroke="#69a0ca" stroke-width=".6" d="M161.1 368.1A66.9 65.9 0 0 1 164.1 357.0L172.0 359.8A58.6 57.6 0 0 0 169.3 369.5Z"/>
<path fill="#7fb6d6" stroke="#7fb6d6" stroke-width=".6" d="M164.1 357.0A66.9 65.9 0 0 1 169.0 346.6L176.3 350.7A58.6 57.6 0 0 0 172.0 359.8Z"/>
<path fill="#4169ae" stroke="#4169ae" stroke-width=".6" d="M169.0 346.6A66.9 65.9 0 0 1 175.7 337.2L182.1 342.5A58.6 57.6 0 0 0 176.3 350.7Z"/>
<path fill="#659bc7" stroke="#659bc7" stroke-width=".6" d="M175.7 337.2A66.9 65.9 0 0 1 184.0 329.0L189.4 335.4A58.6 57.6 0 0 0 182.1 342.5Z"/>
<path fill="#bee2ee" stroke="#bee2ee" stroke-width=".6" d="M184.0 329.0A66.9 65.9 0 0 1 193.5 322.5L197.7 329.6A58.6 57.6 0 0 0 189.4 335.4Z"/>
<path fill="#98cae1" stroke="#98cae1" stroke-width=".6" d="M193.5 322.5A66.9 65.9 0 0 1 204.1 317.6L207.0 325.3A58.6 57.6 0 0 0 197.7 329.6Z"/>
<path fill="#a6d5e7" stroke="#a6d5e7" stroke-width=".6" d="M204.1 317.6A66.9 65.9 0 0 1 215.4 314.6L216.8 322.7A58.6 57.6 0 0 0 207.0 325.3Z"/>
<path fill="#b2ddeb" stroke="#b2ddeb" stroke-width=".6" d="M215.4 314.6A66.9 65.9 0 0 1 227.0 313.6L227.0 321.9A58.6 57.6 0 0 0 216.8 322.7Z"/>
<path fill="#343f9a" stroke="#343f9a" stroke-width=".6" d="M227.0 305.4A75.3 74.1 0 0 1 240.1 306.5L238.6 314.6A66.9 65.9 0 0 0 227.0 313.6Z"/>
<path fill="#5f95c4" stroke="#5f95c4" stroke-width=".6" d="M240.1 306.5A75.3 74.1 0 0 1 252.8 309.9L249.9 317.6A66.9 65.9 0 0 0 238.6 314.6Z"/>
<path fill="#598cc0" stroke="#598cc0" stroke-width=".6" d="M252.8 309.9A75.3 74.1 0 0 1 264.6 315.3L260.5 322.5A66.9 65.9 0 0 0 249.9 317.6Z"/>
<path fill="#a1d1e4" stroke="#a1d1e4" stroke-width=".6" d="M264.6 315.3A75.3 74.1 0 0 1 275.4 322.7L270.0 329.0A66.9 65.9 0 0 0 260.5 322.5Z"/>
<path fill="#4c7db8" stroke="#4c7db8" stroke-width=".6" d="M275.4 322.7A75.3 74.1 0 0 1 284.7 331.9L278.3 337.2A66.9 65.9 0 0 0 270.0 329.0Z"/>
<path fill="#3d5ba7" stroke="#3d5ba7" stroke-width=".6" d="M284.7 331.9A75.3 74.1 0 0 1 292.2 342.4L285.0 346.6A66.9 65.9 0 0 0 278.3 337.2Z"/>
<path fill="#69a0ca" stroke="#69a0ca" stroke-width=".6" d="M292.2 342.4A75.3 74.1 0 0 1 297.8 354.2L289.9 357.0A66.9 65.9 0 0 0 285.0 346.6Z"/>
<path fill="#3d5ba7" stroke="#3d5ba7" stroke-width=".6" d="M297.8 354.2A75.3 74.1 0 0 1 301.2 366.6L292.9 368.1A66.9 65.9 0 0 0 289.9 357.0Z"/>
<path fill="#a9d7e8" stroke="#a9d7e8" stroke-width=".6" d="M301.2 366.6A75.3 74.1 0 0 1 302.3 379.5L293.9 379.5A66.9 65.9 0 0 0 292.9 368.1Z"/>
<path fill="#4d7fb9" stroke="#4d7fb9" stroke-width=".6" d="M302.3 379.5A75.3 74.1 0 0 1 301.2 392.4L292.9 390.9A66.9 65.9 0 0 0 293.9 379.5Z"/>
<path fill="#669cc8" stroke="#669cc8" stroke-width=".6" d="M301.2 392.4A75.3 74.1 0 0 1 297.8 404.8L289.9 402.0A66.9 65.9 0 0 0 292.9 390.9Z"/>
<path fill="#5184bc" stroke="#5184bc" stroke-width=".6" d="M297.8 404.8A75.3 74.1 0 0 1 292.2 416.5L285.0 412.4A66.9 65.9 0 0 0 289.9 402.0Z"/>
<path fill="#f1eccb" stroke="#f1eccb" stroke-width=".6" d="M292.2 416.5A75.3 74.1 0 0 1 284.7 427.1L278.3 421.8A66.9 65.9 0 0 0 285.0 412.4Z"/>
<path fill="#96c8e0" stroke="#96c8e0" stroke-width=".6" d="M284.7 427.1A75.3 74.1 0 0 1 275.4 436.3L270.0 430.0A66.9 65.9 0 0 0 278.3 421.8Z"/>
<path fill="#73acd1" stroke="#73acd1" stroke-width=".6" d="M275.4 436.3A75.3 74.1 0 0 1 264.6 443.7L260.5 436.5A66.9 65.9 0 0 0 270.0 430.0Z"/>
<path fill="#4a7bb7" stroke="#4a7bb7" stroke-width=".6" d="M264.6 443.7A75.3 74.1 0 0 1 252.8 449.1L249.9 441.4A66.9 65.9 0 0 0 260.5 436.5Z"/>
<path fill="#91c4de" stroke="#91c4de" stroke-width=".6" d="M252.8 449.1A75.3 74.1 0 0 1 240.1 452.5L238.6 444.4A66.9 65.9 0 0 0 249.9 441.4Z"/>
<path fill="#3a52a3" stroke="#3a52a3" stroke-width=".6" d="M240.1 452.5A75.3 74.1 0 0 1 227.0 453.6L227.0 445.4A66.9 65.9 0 0 0 238.6 444.4Z"/>
<path fill="#a7d6e7" stroke="#a7d6e7" stroke-width=".6" d="M227.0 453.6A75.3 74.1 0 0 1 213.9 452.5L215.4 444.4A66.9 65.9 0 0 0 227.0 445.4Z"/>
<path fill="#77afd2" stroke="#77afd2" stroke-width=".6" d="M213.9 452.5A75.3 74.1 0 0 1 201.2 449.1L204.1 441.4A66.9 65.9 0 0 0 215.4 444.4Z"/>
<path fill="#4f81ba" stroke="#4f81ba" stroke-width=".6" d="M201.2 449.1A75.3 74.1 0 0 1 189.3 443.7L193.5 436.5A66.9 65.9 0 0 0 204.1 441.4Z"/>
<path fill="#b5deec" stroke="#b5deec" stroke-width=".6" d="M189.3 443.7A75.3 74.1 0 0 1 178.6 436.3L184.0 430.0A66.9 65.9 0 0 0 193.5 436.5Z"/>
<path fill="#98cae1" stroke="#98cae1" stroke-width=".6" d="M178.6 436.3A75.3 74.1 0 0 1 169.3 427.1L175.7 421.8A66.9 65.9 0 0 0 184.0 430.0Z"/>
<path fill="#436eb0" stroke="#436eb0" stroke-width=".6" d="M169.3 427.1A75.3 74.1 0 0 1 161.8 416.6L169.0 412.4A66.9 65.9 0 0 0 175.7 421.8Z"/>
<path fill="#5d92c3" stroke="#5d92c3" stroke-width=".6" d="M161.8 416.6A75.3 74.1 0 0 1 156.2 404.8L164.1 402.0A66.9 65.9 0 0 0 169.0 412.4Z"/>
<path fill="#436fb1" stroke="#436fb1" stroke-width=".6" d="M156.2 404.8A75.3 74.1 0 0 1 152.8 392.4L161.1 390.9A66.9 65.9 0 0 0 164.1 402.0Z"/>
<path fill="#99cae1" stroke="#99cae1" stroke-width=".6" d="M152.8 392.4A75.3 74.1 0 0 1 151.7 379.5L160.1 379.5A66.9 65.9 0 0 0 161.1 390.9Z"/>
<path fill="#92c5de" stroke="#92c5de" stroke-width=".6" d="M151.7 379.5A75.3 74.1 0 0 1 156.2 354.2L164.1 357.0A66.9 65.9 0 0 0 160.1 379.5Z"/>
<path fill="#bce1ee" stroke="#bce1ee" stroke-width=".6" d="M156.2 354.2A75.3 74.1 0 0 1 161.8 342.4L169.0 346.6A66.9 65.9 0 0 0 164.1 357.0Z"/>
<path fill="#394ea1" stroke="#394ea1" stroke-width=".6" d="M161.8 342.4A75.3 74.1 0 0 1 169.3 331.9L175.7 337.2A66.9 65.9 0 0 0 169.0 346.6Z"/>
<path fill="#4e80ba" stroke="#4e80ba" stroke-width=".6" d="M169.3 331.9A75.3 74.1 0 0 1 178.6 322.7L184.0 329.0A66.9 65.9 0 0 0 175.7 337.2Z"/>
<path fill="#9ecfe4" stroke="#9ecfe4" stroke-width=".6" d="M178.6 322.7A75.3 74.1 0 0 1 189.3 315.3L193.5 322.5A66.9 65.9 0 0 0 184.0 329.0Z"/>
<path fill="#98cae1" stroke="#98cae1" stroke-width=".6" d="M189.3 315.3A75.3 74.1 0 0 1 201.2 309.9L204.1 317.6A66.9 65.9 0 0 0 193.5 322.5Z"/>
<path fill="#acdae9" stroke="#acdae9" stroke-width=".6" d="M201.2 309.9A75.3 74.1 0 0 1 213.9 306.5L215.4 314.6A66.9 65.9 0 0 0 204.1 317.6Z"/>
<path fill="#b3ddeb" stroke="#b3ddeb" stroke-width=".6" d="M213.9 306.5A75.3 74.1 0 0 1 227.0 305.4L227.0 313.6A66.9 65.9 0 0 0 215.4 314.6Z"/>
<path fill="#70a9cf" stroke="#70a9cf" stroke-width=".6" d="M227.0 297.2A83.7 82.3 0 0 1 234.3 297.5L233.6 305.7A75.3 74.1 0 0 0 227.0 305.4Z"/>
<path fill="#98cae1" stroke="#98cae1" stroke-width=".6" d="M234.3 297.5A83.7 82.3 0 0 1 241.5 298.4L240.1 306.5A75.3 74.1 0 0 0 233.6 305.7Z"/>
<path fill="#e5f1ea" stroke="#e5f1ea" stroke-width=".6" d="M241.5 298.4A83.7 82.3 0 0 1 248.7 300.0L246.5 307.9A75.3 74.1 0 0 0 240.1 306.5Z"/>
<path fill="#81b7d7" stroke="#81b7d7" stroke-width=".6" d="M248.7 300.0A83.7 82.3 0 0 1 255.6 302.1L252.8 309.9A75.3 74.1 0 0 0 246.5 307.9Z"/>
<path fill="#5487bd" stroke="#5487bd" stroke-width=".6" d="M255.6 302.1A83.7 82.3 0 0 1 262.4 304.9L258.8 312.3A75.3 74.1 0 0 0 252.8 309.9Z"/>
<path fill="#578bbf" stroke="#578bbf" stroke-width=".6" d="M262.4 304.9A83.7 82.3 0 0 1 268.8 308.2L264.6 315.3A75.3 74.1 0 0 0 258.8 312.3Z"/>
<path fill="#d9f0f6" stroke="#d9f0f6" stroke-width=".6" d="M268.8 308.2A83.7 82.3 0 0 1 275.0 312.1L270.2 318.8A75.3 74.1 0 0 0 264.6 315.3Z"/>
<path fill="#9ecee3" stroke="#9ecee3" stroke-width=".6" d="M275.0 312.1A83.7 82.3 0 0 1 280.8 316.4L275.4 322.7A75.3 74.1 0 0 0 270.2 318.8Z"/>
<path fill="#a6d5e7" stroke="#a6d5e7" stroke-width=".6" d="M280.8 316.4A83.7 82.3 0 0 1 286.2 321.3L280.2 327.1A75.3 74.1 0 0 0 275.4 322.7Z"/>
<path fill="#a9d8e8" stroke="#a9d8e8" stroke-width=".6" d="M286.2 321.3A83.7 82.3 0 0 1 291.1 326.6L284.7 331.9A75.3 74.1 0 0 0 280.2 327.1Z"/>
<path fill="#6aa1cb" stroke="#6aa1cb" stroke-width=".6" d="M291.1 326.6A83.7 82.3 0 0 1 295.5 332.3L288.7 337.0A75.3 74.1 0 0 0 284.7 331.9Z"/>
<path fill="#95c7df" stroke="#95c7df" stroke-width=".6" d="M295.5 332.3A83.7 82.3 0 0 1 299.5 338.3L292.2 342.4A75.3 74.1 0 0 0 288.7 337.0Z"/>
<path fill="#7cb3d4" stroke="#7cb3d4" stroke-width=".6" d="M299.5 338.3A83.7 82.3 0 0 1 302.8 344.7L295.2 348.2A75.3 74.1 0 0 0 292.2 342.4Z"/>
<path fill="#a2d1e5" stroke="#a2d1e5" stroke-width=".6" d="M302.8 344.7A83.7 82.3 0 0 1 305.6 351.3L297.8 354.2A75.3 74.1 0 0 0 295.2 348.2Z"/>
<path fill="#4064ac" stroke="#4064ac" stroke-width=".6" d="M305.6 351.3A83.7 82.3 0 0 1 307.8 358.2L299.7 360.3A75.3 74.1 0 0 0 297.8 354.2Z"/>
<path fill="#8bbfdb" stroke="#8bbfdb" stroke-width=".6" d="M307.8 358.2A83.7 82.3 0 0 1 309.4 365.2L301.2 366.6A75.3 74.1 0 0 0 299.7 360.3Z"/>
<path fill="#a2d2e5" stroke="#a2d2e5" stroke-width=".6" d="M309.4 365.2A83.7 82.3 0 0 1 310.3 372.3L302.0 373.0A75.3 74.1 0 0 0 301.2 366.6Z"/>
<path fill="#99cbe1" stroke="#99cbe1" stroke-width=".6" d="M310.3 372.3A83.7 82.3 0 0 1 310.7 379.5L302.3 379.5A75.3 74.1 0 0 0 302.0 373.0Z"/>
<path fill="#94c7df" stroke="#94c7df" stroke-width=".6" d="M310.7 379.5A83.7 82.3 0 0 1 310.3 386.7L302.0 386.0A75.3 74.1 0 0 0 302.3 379.5Z"/>
<path fill="#96c8e0" stroke="#96c8e0" stroke-width=".6" d="M310.3 386.7A83.7 82.3 0 0 1 309.4 393.8L301.2 392.4A75.3 74.1 0 0 0 302.0 386.0Z"/>
<path fill="#daf0f6" stroke="#daf0f6" stroke-width=".6" d="M309.4 393.8A83.7 82.3 0 0 1 307.8 400.8L299.7 398.7A75.3 74.1 0 0 0 301.2 392.4Z"/>
<path fill="#dcf1f7" stroke="#dcf1f7" stroke-width=".6" d="M307.8 400.8A83.7 82.3 0 0 1 305.6 407.7L297.8 404.8A75.3 74.1 0 0 0 299.7 398.7Z"/>
<path fill="#9acce2" stroke="#9acce2" stroke-width=".6" d="M305.6 407.7A83.7 82.3 0 0 1 302.8 414.3L295.2 410.8A75.3 74.1 0 0 0 297.8 404.8Z"/>
<path fill="#ddf2f7" stroke="#ddf2f7" stroke-width=".6" d="M302.8 414.3A83.7 82.3 0 0 1 299.5 420.7L292.2 416.5A75.3 74.1 0 0 0 295.2 410.8Z"/>
<path fill="#edeed6" stroke="#edeed6" stroke-width=".6" d="M299.5 420.7A83.7 82.3 0 0 1 295.5 426.7L288.7 422.0A75.3 74.1 0 0 0 292.2 416.5Z"/>
<path fill="#eceed8" stroke="#eceed8" stroke-width=".6" d="M295.5 426.7A83.7 82.3 0 0 1 291.1 432.4L284.7 427.1A75.3 74.1 0 0 0 288.7 422.0Z"/>
<path fill="#e4f1ed" stroke="#e4f1ed" stroke-width=".6" d="M291.1 432.4A83.7 82.3 0 0 1 286.2 437.7L280.2 431.9A75.3 74.1 0 0 0 284.7 427.1Z"/>
<path fill="#83b9d8" stroke="#83b9d8" stroke-width=".6" d="M286.2 437.7A83.7 82.3 0 0 1 280.8 442.6L275.4 436.3A75.3 74.1 0 0 0 280.2 431.9Z"/>
<path fill="#5487bd" stroke="#5487bd" stroke-width=".6" d="M280.8 442.6A83.7 82.3 0 0 1 275.0 446.9L270.2 440.2A75.3 74.1 0 0 0 275.4 436.3Z"/>
<path fill="#5689be" stroke="#5689be" stroke-width=".6" d="M275.0 446.9A83.7 82.3 0 0 1 268.8 450.8L264.6 443.7A75.3 74.1 0 0 0 270.2 440.2Z"/>
<path fill="#91c4de" stroke="#91c4de" stroke-width=".6" d="M268.8 450.8A83.7 82.3 0 0 1 262.4 454.1L258.8 446.7A75.3 74.1 0 0 0 264.6 443.7Z"/>
<path fill="#a4d4e6" stroke="#a4d4e6" stroke-width=".6" d="M262.4 454.1A83.7 82.3 0 0 1 255.6 456.9L252.8 449.1A75.3 74.1 0 0 0 258.8 446.7Z"/>
<path fill="#aedbea" stroke="#aedbea" stroke-width=".6" d="M255.6 456.9A83.7 82.3 0 0 1 248.7 459.0L246.5 451.1A75.3 74.1 0 0 0 252.8 449.1Z"/>
<path fill="#b8dfed" stroke="#b8dfed" stroke-width=".6" d="M248.7 459.0A83.7 82.3 0 0 1 241.5 460.6L240.1 452.5A75.3 74.1 0 0 0 246.5 451.1Z"/>
<path fill="#79b1d3" stroke="#79b1d3" stroke-width=".6" d="M241.5 460.6A83.7 82.3 0 0 1 234.3 461.5L233.6 453.3A75.3 74.1 0 0 0 240.1 452.5Z"/>
<path fill="#4c7db8" stroke="#4c7db8" stroke-width=".6" d="M234.3 461.5A83.7 82.3 0 0 1 227.0 461.8L227.0 453.6A75.3 74.1 0 0 0 233.6 453.3Z"/>
<path fill="#8ec2dc" stroke="#8ec2dc" stroke-width=".6" d="M227.0 461.8A83.7 82.3 0 0 1 219.7 461.5L220.4 453.3A75.3 74.1 0 0 0 227.0 453.6Z"/>
<path fill="#7fb6d6" stroke="#7fb6d6" stroke-width=".6" d="M219.7 461.5A83.7 82.3 0 0 1 212.5 460.6L213.9 452.5A75.3 74.1 0 0 0 220.4 453.3Z"/>
<path fill="#89beda" stroke="#89beda" stroke-width=".6" d="M212.5 460.6A83.7 82.3 0 0 1 205.3 459.0L207.5 451.1A75.3 74.1 0 0 0 213.9 452.5Z"/>
<path fill="#5e93c4" stroke="#5e93c4" stroke-width=".6" d="M205.3 459.0A83.7 82.3 0 0 1 198.4 456.9L201.2 449.1A75.3 74.1 0 0 0 207.5 451.1Z"/>
<path fill="#6da4cd" stroke="#6da4cd" stroke-width=".6" d="M198.4 456.9A83.7 82.3 0 0 1 191.6 454.1L195.2 446.7A75.3 74.1 0 0 0 201.2 449.1Z"/>
<path fill="#69a0ca" stroke="#69a0ca" stroke-width=".6" d="M191.6 454.1A83.7 82.3 0 0 1 185.2 450.8L189.3 443.7A75.3 74.1 0 0 0 195.2 446.7Z"/>
<path fill="#4168ad" stroke="#4168ad" stroke-width=".6" d="M185.2 450.8A83.7 82.3 0 0 1 179.0 446.9L183.8 440.2A75.3 74.1 0 0 0 189.3 443.7Z"/>
<path fill="#4064ac" stroke="#4064ac" stroke-width=".6" d="M179.0 446.9A83.7 82.3 0 0 1 173.2 442.6L178.6 436.3A75.3 74.1 0 0 0 183.8 440.2Z"/>
<path fill="#93c6df" stroke="#93c6df" stroke-width=".6" d="M173.2 442.6A83.7 82.3 0 0 1 167.8 437.7L173.8 431.9A75.3 74.1 0 0 0 178.6 436.3Z"/>
<path fill="#5184bc" stroke="#5184bc" stroke-width=".6" d="M167.8 437.7A83.7 82.3 0 0 1 162.9 432.4L169.3 427.1A75.3 74.1 0 0 0 173.8 431.9Z"/>
<path fill="#3b57a5" stroke="#3b57a5" stroke-width=".6" d="M162.9 432.4A83.7 82.3 0 0 1 158.5 426.7L165.3 422.0A75.3 74.1 0 0 0 169.3 427.1Z"/>
<path fill="#37489e" stroke="#37489e" stroke-width=".6" d="M158.5 426.7A83.7 82.3 0 0 1 154.5 420.7L161.8 416.6A75.3 74.1 0 0 0 165.3 422.0Z"/>
<path fill="#6ba2cb" stroke="#6ba2cb" stroke-width=".6" d="M154.5 420.7A83.7 82.3 0 0 1 151.2 414.3L158.8 410.8A75.3 74.1 0 0 0 161.8 416.6Z"/>
<path fill="#4575b4" stroke="#4575b4" stroke-width=".6" d="M151.2 414.3A83.7 82.3 0 0 1 148.4 407.7L156.2 404.8A75.3 74.1 0 0 0 158.8 410.8Z"/>
<path fill="#4472b2" stroke="#4472b2" stroke-width=".6" d="M148.4 407.7A83.7 82.3 0 0 1 146.2 400.8L154.3 398.7A75.3 74.1 0 0 0 156.2 404.8Z"/>
<path fill="#6399c7" stroke="#6399c7" stroke-width=".6" d="M146.2 400.8A83.7 82.3 0 0 1 144.6 393.8L152.8 392.4A75.3 74.1 0 0 0 154.3 398.7Z"/>
<path fill="#588cc0" stroke="#588cc0" stroke-width=".6" d="M144.6 393.8A83.7 82.3 0 0 1 143.7 386.7L152.0 386.0A75.3 74.1 0 0 0 152.8 392.4Z"/>
<path fill="#4d7fb9" stroke="#4d7fb9" stroke-width=".6" d="M143.7 386.7A83.7 82.3 0 0 1 143.3 379.5L151.7 379.5A75.3 74.1 0 0 0 152.0 386.0Z"/>
<path fill="#94c7df" stroke="#94c7df" stroke-width=".6" d="M143.3 379.5A83.7 82.3 0 0 1 143.7 372.3L152.0 373.0A75.3 74.1 0 0 0 151.7 379.5Z"/>
<path fill="#6ba3cc" stroke="#6ba3cc" stroke-width=".6" d="M143.7 372.3A83.7 82.3 0 0 1 144.6 365.2L152.8 366.6A75.3 74.1 0 0 0 152.0 373.0Z"/>
<path fill="#588bc0" stroke="#588bc0" stroke-width=".6" d="M144.6 365.2A83.7 82.3 0 0 1 146.2 358.2L154.3 360.3A75.3 74.1 0 0 0 152.8 366.6Z"/>
<path fill="#95c7df" stroke="#95c7df" stroke-width=".6" d="M146.2 358.2A83.7 82.3 0 0 1 148.4 351.3L156.2 354.2A75.3 74.1 0 0 0 154.3 360.3Z"/>
<path fill="#b5deec" stroke="#b5deec" stroke-width=".6" d="M148.4 351.3A83.7 82.3 0 0 1 151.2 344.7L158.8 348.2A75.3 74.1 0 0 0 156.2 354.2Z"/>
<path fill="#a0d0e4" stroke="#a0d0e4" stroke-width=".6" d="M151.2 344.7A83.7 82.3 0 0 1 154.5 338.3L161.8 342.4A75.3 74.1 0 0 0 158.8 348.2Z"/>
<path fill="#578abf" stroke="#578abf" stroke-width=".6" d="M154.5 338.3A83.7 82.3 0 0 1 158.5 332.3L165.3 337.0A75.3 74.1 0 0 0 161.8 342.4Z"/>
<path fill="#3a52a3" stroke="#3a52a3" stroke-width=".6" d="M158.5 332.3A83.7 82.3 0 0 1 162.9 326.6L169.3 331.9A75.3 74.1 0 0 0 165.3 337.0Z"/>
<path fill="#9fd0e4" stroke="#9fd0e4" stroke-width=".6" d="M162.9 326.6A83.7 82.3 0 0 1 167.8 321.3L173.8 327.1A75.3 74.1 0 0 0 169.3 331.9Z"/>
<path fill="#6197c6" stroke="#6197c6" stroke-width=".6" d="M167.8 321.3A83.7 82.3 0 0 1 173.2 316.4L178.6 322.7A75.3 74.1 0 0 0 173.8 327.1Z"/>
<path fill="#679ec9" stroke="#679ec9" stroke-width=".6" d="M173.2 316.4A83.7 82.3 0 0 1 179.0 312.1L183.8 318.8A75.3 74.1 0 0 0 178.6 322.7Z"/>
<path fill="#a2d2e5" stroke="#a2d2e5" stroke-width=".6" d="M179.0 312.1A83.7 82.3 0 0 1 185.2 308.2L189.3 315.3A75.3 74.1 0 0 0 183.8 318.8Z"/>
<path fill="#3f63ab" stroke="#3f63ab" stroke-width=".6" d="M185.2 308.2A83.7 82.3 0 0 1 191.6 304.9L195.2 312.3A75.3 74.1 0 0 0 189.3 315.3Z"/>
<path fill="#5c90c2" stroke="#5c90c2" stroke-width=".6" d="M191.6 304.9A83.7 82.3 0 0 1 198.4 302.1L201.2 309.9A75.3 74.1 0 0 0 195.2 312.3Z"/>
<path fill="#8cc0dc" stroke="#8cc0dc" stroke-width=".6" d="M198.4 302.1A83.7 82.3 0 0 1 205.3 300.0L207.5 307.9A75.3 74.1 0 0 0 201.2 309.9Z"/>
<path fill="#99cbe1" stroke="#99cbe1" stroke-width=".6" d="M205.3 300.0A83.7 82.3 0 0 1 212.5 298.4L213.9 306.5A75.3 74.1 0 0 0 207.5 307.9Z"/>
<path fill="#5184bc" stroke="#5184bc" stroke-width=".6" d="M212.5 298.4A83.7 82.3 0 0 1 219.7 297.5L220.4 305.7A75.3 74.1 0 0 0 213.9 306.5Z"/>
<path fill="#9bcce2" stroke="#9bcce2" stroke-width=".6" d="M219.7 297.5A83.7 82.3 0 0 1 227.0 297.2L227.0 305.4A75.3 74.1 0 0 0 220.4 305.7Z"/>
<path fill="#5082bb" stroke="#5082bb" stroke-width=".6" d="M227.0 288.9A92.0 90.6 0 0 1 235.0 289.3L234.3 297.5A83.7 82.3 0 0 0 227.0 297.2Z"/>
<path fill="#5a8ec1" stroke="#5a8ec1" stroke-width=".6" d="M235.0 289.3A92.0 90.6 0 0 1 243.0 290.3L241.5 298.4A83.7 82.3 0 0 0 234.3 297.5Z"/>
<path fill="#e4f1ed" stroke="#e4f1ed" stroke-width=".6" d="M243.0 290.3A92.0 90.6 0 0 1 250.8 292.0L248.7 300.0A83.7 82.3 0 0 0 241.5 298.4Z"/>
<path fill="#7fb6d6" stroke="#7fb6d6" stroke-width=".6" d="M250.8 292.0A92.0 90.6 0 0 1 258.5 294.4L255.6 302.1A83.7 82.3 0 0 0 248.7 300.0Z"/>
<path fill="#4f81ba" stroke="#4f81ba" stroke-width=".6" d="M258.5 294.4A92.0 90.6 0 0 1 265.9 297.4L262.4 304.9A83.7 82.3 0 0 0 255.6 302.1Z"/>
<path fill="#598dc1" stroke="#598dc1" stroke-width=".6" d="M265.9 297.4A92.0 90.6 0 0 1 273.0 301.1L268.8 308.2A83.7 82.3 0 0 0 262.4 304.9Z"/>
<path fill="#e0f3f7" stroke="#e0f3f7" stroke-width=".6" d="M273.0 301.1A92.0 90.6 0 0 1 279.8 305.3L275.0 312.1A83.7 82.3 0 0 0 268.8 308.2Z"/>
<path fill="#83b9d7" stroke="#83b9d7" stroke-width=".6" d="M279.8 305.3A92.0 90.6 0 0 1 286.2 310.1L280.8 316.4A83.7 82.3 0 0 0 275.0 312.1Z"/>
<path fill="#7ab2d3" stroke="#7ab2d3" stroke-width=".6" d="M286.2 310.1A92.0 90.6 0 0 1 292.1 315.5L286.2 321.3A83.7 82.3 0 0 0 280.8 316.4Z"/>
<path fill="#c1e4ef" stroke="#c1e4ef" stroke-width=".6" d="M292.1 315.5A92.0 90.6 0 0 1 297.5 321.3L291.1 326.6A83.7 82.3 0 0 0 286.2 321.3Z"/>
<path fill="#c0e3ef" stroke="#c0e3ef" stroke-width=".6" d="M297.5 321.3A92.0 90.6 0 0 1 302.4 327.6L295.5 332.3A83.7 82.3 0 0 0 291.1 326.6Z"/>
<path fill="#679ec9" stroke="#679ec9" stroke-width=".6" d="M302.4 327.6A92.0 90.6 0 0 1 306.7 334.2L299.5 338.3A83.7 82.3 0 0 0 295.5 332.3Z"/>
<path fill="#5589be" stroke="#5589be" stroke-width=".6" d="M306.7 334.2A92.0 90.6 0 0 1 310.4 341.2L302.8 344.7A83.7 82.3 0 0 0 299.5 338.3Z"/>
<path fill="#69a0ca" stroke="#69a0ca" stroke-width=".6" d="M310.4 341.2A92.0 90.6 0 0 1 313.5 348.5L305.6 351.3A83.7 82.3 0 0 0 302.8 344.7Z"/>
<path fill="#679dc9" stroke="#679dc9" stroke-width=".6" d="M313.5 348.5A92.0 90.6 0 0 1 315.9 356.1L307.8 358.2A83.7 82.3 0 0 0 305.6 351.3Z"/>
<path fill="#72abd0" stroke="#72abd0" stroke-width=".6" d="M315.9 356.1A92.0 90.6 0 0 1 317.6 363.8L309.4 365.2A83.7 82.3 0 0 0 307.8 358.2Z"/>
<path fill="#b4deec" stroke="#b4deec" stroke-width=".6" d="M317.6 363.8A92.0 90.6 0 0 1 318.7 371.6L310.3 372.3A83.7 82.3 0 0 0 309.4 365.2Z"/>
<path fill="#9dcee3" stroke="#9dcee3" stroke-width=".6" d="M318.7 371.6A92.0 90.6 0 0 1 319.0 379.5L310.7 379.5A83.7 82.3 0 0 0 310.3 372.3Z"/>
<path fill="#4a7bb7" stroke="#4a7bb7" stroke-width=".6" d="M319.0 379.5A92.0 90.6 0 0 1 318.7 387.4L310.3 386.7A83.7 82.3 0 0 0 310.7 379.5Z"/>
<path fill="#5184bc" stroke="#5184bc" stroke-width=".6" d="M318.7 387.4A92.0 90.6 0 0 1 317.6 395.2L309.4 393.8A83.7 82.3 0 0 0 310.3 386.7Z"/>
<path fill="#eceed8" stroke="#eceed8" stroke-width=".6" d="M317.6 395.2A92.0 90.6 0 0 1 315.9 402.9L307.8 400.8A83.7 82.3 0 0 0 309.4 393.8Z"/>
<path fill="#e4f2ee" stroke="#e4f2ee" stroke-width=".6" d="M315.9 402.9A92.0 90.6 0 0 1 313.5 410.5L305.6 407.7A83.7 82.3 0 0 0 307.8 400.8Z"/>
<path fill="#9dcee3" stroke="#9dcee3" stroke-width=".6" d="M313.5 410.5A92.0 90.6 0 0 1 310.4 417.8L302.8 414.3A83.7 82.3 0 0 0 305.6 407.7Z"/>
<path fill="#74add1" stroke="#74add1" stroke-width=".6" d="M310.4 417.8A92.0 90.6 0 0 1 306.7 424.8L299.5 420.7A83.7 82.3 0 0 0 302.8 414.3Z"/>
<path fill="#6ca4cc" stroke="#6ca4cc" stroke-width=".6" d="M306.7 424.8A92.0 90.6 0 0 1 302.4 431.4L295.5 426.7A83.7 82.3 0 0 0 299.5 420.7Z"/>
<path fill="#80b6d6" stroke="#80b6d6" stroke-width=".6" d="M302.4 431.4A92.0 90.6 0 0 1 297.5 437.7L291.1 432.4A83.7 82.3 0 0 0 295.5 426.7Z"/>
<path fill="#77afd2" stroke="#77afd2" stroke-width=".6" d="M297.5 437.7A92.0 90.6 0 0 1 292.1 443.5L286.2 437.7A83.7 82.3 0 0 0 291.1 432.4Z"/>
<path fill="#426aaf" stroke="#426aaf" stroke-width=".6" d="M292.1 443.5A92.0 90.6 0 0 1 286.2 448.9L280.8 442.6A83.7 82.3 0 0 0 286.2 437.7Z"/>
<path fill="#436db0" stroke="#436db0" stroke-width=".6" d="M286.2 448.9A92.0 90.6 0 0 1 279.8 453.7L275.0 446.9A83.7 82.3 0 0 0 280.8 442.6Z"/>
<path fill="#98cae1" stroke="#98cae1" stroke-width=".6" d="M279.8 453.7A92.0 90.6 0 0 1 273.0 457.9L268.8 450.8A83.7 82.3 0 0 0 275.0 446.9Z"/>
<path fill="#9acce2" stroke="#9acce2" stroke-width=".6" d="M273.0 457.9A92.0 90.6 0 0 1 265.9 461.6L262.4 454.1A83.7 82.3 0 0 0 268.8 450.8Z"/>
<path fill="#6095c5" stroke="#6095c5" stroke-width=".6" d="M265.9 461.6A92.0 90.6 0 0 1 258.5 464.6L255.6 456.9A83.7 82.3 0 0 0 262.4 454.1Z"/>
<path fill="#afdbea" stroke="#afdbea" stroke-width=".6" d="M258.5 464.6A92.0 90.6 0 0 1 250.8 467.0L248.7 459.0A83.7 82.3 0 0 0 255.6 456.9Z"/>
<path fill="#b1dceb" stroke="#b1dceb" stroke-width=".6" d="M250.8 467.0A92.0 90.6 0 0 1 243.0 468.7L241.5 460.6A83.7 82.3 0 0 0 248.7 459.0Z"/>
<path fill="#a3d3e6" stroke="#a3d3e6" stroke-width=".6" d="M243.0 468.7A92.0 90.6 0 0 1 235.0 469.7L234.3 461.5A83.7 82.3 0 0 0 241.5 460.6Z"/>
<path fill="#afdbea" stroke="#afdbea" stroke-width=".6" d="M235.0 469.7A92.0 90.6 0 0 1 227.0 470.1L227.0 461.8A83.7 82.3 0 0 0 234.3 461.5Z"/>
<path fill="#86bcd9" stroke="#86bcd9" stroke-width=".6" d="M227.0 470.1A92.0 90.6 0 0 1 219.0 469.7L219.7 461.5A83.7 82.3 0 0 0 227.0 461.8Z"/>
<path fill="#6ca4cc" stroke="#6ca4cc" stroke-width=".6" d="M219.0 469.7A92.0 90.6 0 0 1 211.0 468.7L212.5 460.6A83.7 82.3 0 0 0 219.7 461.5Z"/>
<path fill="#6fa7ce" stroke="#6fa7ce" stroke-width=".6" d="M211.0 468.7A92.0 90.6 0 0 1 203.2 467.0L205.3 459.0A83.7 82.3 0 0 0 212.5 460.6Z"/>
<path fill="#5d92c3" stroke="#5d92c3" stroke-width=".6" d="M203.2 467.0A92.0 90.6 0 0 1 195.5 464.6L198.4 456.9A83.7 82.3 0 0 0 205.3 459.0Z"/>
<path fill="#a0d0e4" stroke="#a0d0e4" stroke-width=".6" d="M195.5 464.6A92.0 90.6 0 0 1 188.1 461.6L191.6 454.1A83.7 82.3 0 0 0 198.4 456.9Z"/>
<path fill="#a6d5e7" stroke="#a6d5e7" stroke-width=".6" d="M188.1 461.6A92.0 90.6 0 0 1 181.0 457.9L185.2 450.8A83.7 82.3 0 0 0 191.6 454.1Z"/>
<path fill="#3f62ab" stroke="#3f62ab" stroke-width=".6" d="M181.0 457.9A92.0 90.6 0 0 1 174.2 453.7L179.0 446.9A83.7 82.3 0 0 0 185.2 450.8Z"/>
<path fill="#426baf" stroke="#426baf" stroke-width=".6" d="M174.2 453.7A92.0 90.6 0 0 1 167.8 448.9L173.2 442.6A83.7 82.3 0 0 0 179.0 446.9Z"/>
<path fill="#82b8d7" stroke="#82b8d7" stroke-width=".6" d="M167.8 448.9A92.0 90.6 0 0 1 161.9 443.5L167.8 437.7A83.7 82.3 0 0 0 173.2 442.6Z"/>
<path fill="#5285bc" stroke="#5285bc" stroke-width=".6" d="M161.9 443.5A92.0 90.6 0 0 1 156.5 437.7L162.9 432.4A83.7 82.3 0 0 0 167.8 437.7Z"/>
<path fill="#394ea1" stroke="#394ea1" stroke-width=".6" d="M156.5 437.7A92.0 90.6 0 0 1 151.6 431.4L158.5 426.7A83.7 82.3 0 0 0 162.9 432.4Z"/>
<path fill="#37489e" stroke="#37489e" stroke-width=".6" d="M151.6 431.4A92.0 90.6 0 0 1 147.3 424.8L154.5 420.7A83.7 82.3 0 0 0 158.5 426.7Z"/>
<path fill="#568abf" stroke="#568abf" stroke-width=".6" d="M147.3 424.8A92.0 90.6 0 0 1 143.6 417.8L151.2 414.3A83.7 82.3 0 0 0 154.5 420.7Z"/>
<path fill="#85bbd9" stroke="#85bbd9" stroke-width=".6" d="M143.6 417.8A92.0 90.6 0 0 1 140.5 410.5L148.4 407.7A83.7 82.3 0 0 0 151.2 414.3Z"/>
<path fill="#cdeaf3" stroke="#cdeaf3" stroke-width=".6" d="M140.5 410.5A92.0 90.6 0 0 1 138.1 402.9L146.2 400.8A83.7 82.3 0 0 0 148.4 407.7Z"/>
<path fill="#bee3ef" stroke="#bee3ef" stroke-width=".6" d="M138.1 402.9A92.0 90.6 0 0 1 136.4 395.2L144.6 393.8A83.7 82.3 0 0 0 146.2 400.8Z"/>
<path fill="#95c7df" stroke="#95c7df" stroke-width=".6" d="M136.4 395.2A92.0 90.6 0 0 1 135.3 387.4L143.7 386.7A83.7 82.3 0 0 0 144.6 393.8Z"/>
<path fill="#9acbe2" stroke="#9acbe2" stroke-width=".6" d="M135.3 387.4A92.0 90.6 0 0 1 135.0 379.5L143.3 379.5A83.7 82.3 0 0 0 143.7 386.7Z"/>
<path fill="#73abd0" stroke="#73abd0" stroke-width=".6" d="M135.0 379.5A92.0 90.6 0 0 1 135.3 371.6L143.7 372.3A83.7 82.3 0 0 0 143.3 379.5Z"/>
<path fill="#436eb1" stroke="#436eb1" stroke-width=".6" d="M135.3 371.6A92.0 90.6 0 0 1 136.4 363.8L144.6 365.2A83.7 82.3 0 0 0 143.7 372.3Z"/>
<path fill="#3d5ca8" stroke="#3d5ca8" stroke-width=".6" d="M136.4 363.8A92.0 90.6 0 0 1 138.1 356.1L146.2 358.2A83.7 82.3 0 0 0 144.6 365.2Z"/>
<path fill="#5487bd" stroke="#5487bd" stroke-width=".6" d="M138.1 356.1A92.0 90.6 0 0 1 140.5 348.5L148.4 351.3A83.7 82.3 0 0 0 146.2 358.2Z"/>
<path fill="#71aacf" stroke="#71aacf" stroke-width=".6" d="M140.5 348.5A92.0 90.6 0 0 1 143.6 341.2L151.2 344.7A83.7 82.3 0 0 0 148.4 351.3Z"/>
<path fill="#5589be" stroke="#5589be" stroke-width=".6" d="M143.6 341.2A92.0 90.6 0 0 1 147.3 334.2L154.5 338.3A83.7 82.3 0 0 0 151.2 344.7Z"/>
<path fill="#5285bc" stroke="#5285bc" stroke-width=".6" d="M147.3 334.2A92.0 90.6 0 0 1 151.6 327.6L158.5 332.3A83.7 82.3 0 0 0 154.5 338.3Z"/>
<path fill="#6ea6cd" stroke="#6ea6cd" stroke-width=".6" d="M151.6 327.6A92.0 90.6 0 0 1 156.5 321.3L162.9 326.6A83.7 82.3 0 0 0 158.5 332.3Z"/>
<path fill="#94c7df" stroke="#94c7df" stroke-width=".6" d="M156.5 321.3A92.0 90.6 0 0 1 161.9 315.5L167.8 321.3A83.7 82.3 0 0 0 162.9 326.6Z"/>
<path fill="#7cb4d5" stroke="#7cb4d5" stroke-width=".6" d="M161.9 315.5A92.0 90.6 0 0 1 167.8 310.1L173.2 316.4A83.7 82.3 0 0 0 167.8 321.3Z"/>
<path fill="#b3ddeb" stroke="#b3ddeb" stroke-width=".6" d="M167.8 310.1A92.0 90.6 0 0 1 174.2 305.3L179.0 312.1A83.7 82.3 0 0 0 173.2 316.4Z"/>
<path fill="#578abf" stroke="#578abf" stroke-width=".6" d="M174.2 305.3A92.0 90.6 0 0 1 181.0 301.1L185.2 308.2A83.7 82.3 0 0 0 179.0 312.1Z"/>
<path fill="#436fb1" stroke="#436fb1" stroke-width=".6" d="M181.0 301.1A92.0 90.6 0 0 1 188.1 297.4L191.6 304.9A83.7 82.3 0 0 0 185.2 308.2Z"/>
<path fill="#384ca0" stroke="#384ca0" stroke-width=".6" d="M188.1 297.4A92.0 90.6 0 0 1 195.5 294.4L198.4 302.1A83.7 82.3 0 0 0 191.6 304.9Z"/>
<path fill="#7bb2d4" stroke="#7bb2d4" stroke-width=".6" d="M195.5 294.4A92.0 90.6 0 0 1 203.2 292.0L205.3 300.0A83.7 82.3 0 0 0 198.4 302.1Z"/>
<path fill="#6196c5" stroke="#6196c5" stroke-width=".6" d="M203.2 292.0A92.0 90.6 0 0 1 211.0 290.3L212.5 298.4A83.7 82.3 0 0 0 205.3 300.0Z"/>
<path fill="#9fd0e4" stroke="#9fd0e4" stroke-width=".6" d="M211.0 290.3A92.0 90.6 0 0 1 219.0 289.3L219.7 297.5A83.7 82.3 0 0 0 212.5 298.4Z"/>
<path fill="#88bdda" stroke="#88bdda" stroke-width=".6" d="M219.0 289.3A92.0 90.6 0 0 1 227.0 288.9L227.0 297.2A83.7 82.3 0 0 0 219.7 297.5Z"/>
<path fill="#5284bc" stroke="#5284bc" stroke-width=".6" d="M227.0 280.7A100.4 98.8 0 0 1 235.8 281.1L235.0 289.3A92.0 90.6 0 0 0 227.0 288.9Z"/>
<path fill="#7fb6d6" stroke="#7fb6d6" stroke-width=".6" d="M235.8 281.1A100.4 98.8 0 0 1 244.4 282.2L243.0 290.3A92.0 90.6 0 0 0 235.0 289.3Z"/>
<path fill="#9ecfe3" stroke="#9ecfe3" stroke-width=".6" d="M244.4 282.2A100.4 98.8 0 0 1 253.0 284.1L250.8 292.0A92.0 90.6 0 0 0 243.0 290.3Z"/>
<path fill="#72abd0" stroke="#72abd0" stroke-width=".6" d="M253.0 284.1A100.4 98.8 0 0 1 261.3 286.7L258.5 294.4A92.0 90.6 0 0 0 250.8 292.0Z"/>
<path fill="#93c6de" stroke="#93c6de" stroke-width=".6" d="M261.3 286.7A100.4 98.8 0 0 1 269.4 290.0L265.9 297.4A92.0 90.6 0 0 0 258.5 294.4Z"/>
<path fill="#5e93c4" stroke="#5e93c4" stroke-width=".6" d="M269.4 290.0A100.4 98.8 0 0 1 277.2 293.9L273.0 301.1A92.0 90.6 0 0 0 265.9 297.4Z"/>
<path fill="#f3ebc5" stroke="#f3ebc5" stroke-width=".6" d="M277.2 293.9A100.4 98.8 0 0 1 284.6 298.6L279.8 305.3A92.0 90.6 0 0 0 273.0 301.1Z"/>
<path fill="#578abf" stroke="#578abf" stroke-width=".6" d="M284.6 298.6A100.4 98.8 0 0 1 298.0 309.6L292.1 315.5A92.0 90.6 0 0 0 279.8 305.3Z"/>
<path fill="#d5eef5" stroke="#d5eef5" stroke-width=".6" d="M298.0 309.6A100.4 98.8 0 0 1 303.9 316.0L297.5 321.3A92.0 90.6 0 0 0 292.1 315.5Z"/>
<path fill="#e1f3f6" stroke="#e1f3f6" stroke-width=".6" d="M303.9 316.0A100.4 98.8 0 0 1 309.2 322.8L302.4 327.6A92.0 90.6 0 0 0 297.5 321.3Z"/>
<path fill="#96c8e0" stroke="#96c8e0" stroke-width=".6" d="M309.2 322.8A100.4 98.8 0 0 1 313.9 330.1L306.7 334.2A92.0 90.6 0 0 0 302.4 327.6Z"/>
<path fill="#4b7cb8" stroke="#4b7cb8" stroke-width=".6" d="M313.9 330.1A100.4 98.8 0 0 1 318.0 337.7L310.4 341.2A92.0 90.6 0 0 0 306.7 334.2Z"/>
<path fill="#73abd0" stroke="#73abd0" stroke-width=".6" d="M318.0 337.7A100.4 98.8 0 0 1 321.3 345.7L313.5 348.5A92.0 90.6 0 0 0 310.4 341.2Z"/>
<path fill="#79b1d3" stroke="#79b1d3" stroke-width=".6" d="M321.3 345.7A100.4 98.8 0 0 1 324.0 353.9L315.9 356.1A92.0 90.6 0 0 0 313.5 348.5Z"/>
<path fill="#7ab2d4" stroke="#7ab2d4" stroke-width=".6" d="M324.0 353.9A100.4 98.8 0 0 1 325.9 362.3L317.6 363.8A92.0 90.6 0 0 0 315.9 356.1Z"/>
<path fill="#a8d6e8" stroke="#a8d6e8" stroke-width=".6" d="M325.9 362.3A100.4 98.8 0 0 1 327.0 370.9L318.7 371.6A92.0 90.6 0 0 0 317.6 363.8Z"/>
<path fill="#aad8e9" stroke="#aad8e9" stroke-width=".6" d="M327.0 370.9A100.4 98.8 0 0 1 327.4 379.5L319.0 379.5A92.0 90.6 0 0 0 318.7 371.6Z"/>
<path fill="#5588be" stroke="#5588be" stroke-width=".6" d="M327.4 379.5A100.4 98.8 0 0 1 327.0 388.1L318.7 387.4A92.0 90.6 0 0 0 319.0 379.5Z"/>
<path fill="#9ccde2" stroke="#9ccde2" stroke-width=".6" d="M327.0 388.1A100.4 98.8 0 0 1 325.9 396.7L317.6 395.2A92.0 90.6 0 0 0 318.7 387.4Z"/>
<path fill="#e3f2f0" stroke="#e3f2f0" stroke-width=".6" d="M325.9 396.7A100.4 98.8 0 0 1 324.0 405.1L315.9 402.9A92.0 90.6 0 0 0 317.6 395.2Z"/>
<path fill="#d4edf5" stroke="#d4edf5" stroke-width=".6" d="M324.0 405.1A100.4 98.8 0 0 1 321.3 413.3L313.5 410.5A92.0 90.6 0 0 0 315.9 402.9Z"/>
<path fill="#89bdda" stroke="#89bdda" stroke-width=".6" d="M321.3 413.3A100.4 98.8 0 0 1 318.0 421.3L310.4 417.8A92.0 90.6 0 0 0 313.5 410.5Z"/>
<path fill="#77afd2" stroke="#77afd2" stroke-width=".6" d="M318.0 421.3A100.4 98.8 0 0 1 313.9 428.9L306.7 424.8A92.0 90.6 0 0 0 310.4 417.8Z"/>
<path fill="#679dc9" stroke="#679dc9" stroke-width=".6" d="M313.9 428.9A100.4 98.8 0 0 1 309.2 436.2L302.4 431.4A92.0 90.6 0 0 0 306.7 424.8Z"/>
<path fill="#a0d0e4" stroke="#a0d0e4" stroke-width=".6" d="M309.2 436.2A100.4 98.8 0 0 1 303.9 443.0L297.5 437.7A92.0 90.6 0 0 0 302.4 431.4Z"/>
<path fill="#7ab2d4" stroke="#7ab2d4" stroke-width=".6" d="M303.9 443.0A100.4 98.8 0 0 1 298.0 449.4L292.1 443.5A92.0 90.6 0 0 0 297.5 437.7Z"/>
<path fill="#5183bb" stroke="#5183bb" stroke-width=".6" d="M298.0 449.4A100.4 98.8 0 0 1 291.5 455.2L286.2 448.9A92.0 90.6 0 0 0 292.1 443.5Z"/>
<path fill="#5b90c2" stroke="#5b90c2" stroke-width=".6" d="M291.5 455.2A100.4 98.8 0 0 1 284.6 460.4L279.8 453.7A92.0 90.6 0 0 0 286.2 448.9Z"/>
<path fill="#384ba0" stroke="#384ba0" stroke-width=".6" d="M284.6 460.4A100.4 98.8 0 0 1 277.2 465.1L273.0 457.9A92.0 90.6 0 0 0 279.8 453.7Z"/>
<path fill="#5487be" stroke="#5487be" stroke-width=".6" d="M277.2 465.1A100.4 98.8 0 0 1 269.4 469.0L265.9 461.6A92.0 90.6 0 0 0 273.0 457.9Z"/>
<path fill="#6197c6" stroke="#6197c6" stroke-width=".6" d="M269.4 469.0A100.4 98.8 0 0 1 261.3 472.3L258.5 464.6A92.0 90.6 0 0 0 265.9 461.6Z"/>
<path fill="#4e80ba" stroke="#4e80ba" stroke-width=".6" d="M261.3 472.3A100.4 98.8 0 0 1 253.0 474.9L250.8 467.0A92.0 90.6 0 0 0 258.5 464.6Z"/>
<path fill="#5d92c3" stroke="#5d92c3" stroke-width=".6" d="M253.0 474.9A100.4 98.8 0 0 1 244.4 476.8L243.0 468.7A92.0 90.6 0 0 0 250.8 467.0Z"/>
<path fill="#a0d0e4" stroke="#a0d0e4" stroke-width=".6" d="M244.4 476.8A100.4 98.8 0 0 1 235.8 477.9L235.0 469.7A92.0 90.6 0 0 0 243.0 468.7Z"/>
<path fill="#b0dbea" stroke="#b0dbea" stroke-width=".6" d="M235.8 477.9A100.4 98.8 0 0 1 227.0 478.3L227.0 470.1A92.0 90.6 0 0 0 235.0 469.7Z"/>
<path fill="#92c5de" stroke="#92c5de" stroke-width=".6" d="M227.0 478.3A100.4 98.8 0 0 1 218.2 477.9L219.0 469.7A92.0 90.6 0 0 0 227.0 470.1Z"/>
<path fill="#e2f2f3" stroke="#e2f2f3" stroke-width=".6" d="M218.2 477.9A100.4 98.8 0 0 1 209.6 476.8L211.0 468.7A92.0 90.6 0 0 0 219.0 469.7Z"/>
<path fill="#ddf2f7" stroke="#ddf2f7" stroke-width=".6" d="M209.6 476.8A100.4 98.8 0 0 1 201.0 474.9L203.2 467.0A92.0 90.6 0 0 0 211.0 468.7Z"/>
<path fill="#92c5de" stroke="#92c5de" stroke-width=".6" d="M201.0 474.9A100.4 98.8 0 0 1 192.7 472.3L195.5 464.6A92.0 90.6 0 0 0 203.2 467.0Z"/>
<path fill="#4575b4" stroke="#4575b4" stroke-width=".6" d="M192.7 472.3A100.4 98.8 0 0 1 184.6 469.0L188.1 461.6A92.0 90.6 0 0 0 195.5 464.6Z"/>
<path fill="#5588be" stroke="#5588be" stroke-width=".6" d="M184.6 469.0A100.4 98.8 0 0 1 176.8 465.1L181.0 457.9A92.0 90.6 0 0 0 188.1 461.6Z"/>
<path fill="#4d7fb9" stroke="#4d7fb9" stroke-width=".6" d="M176.8 465.1A100.4 98.8 0 0 1 169.4 460.4L174.2 453.7A92.0 90.6 0 0 0 181.0 457.9Z"/>
<path fill="#ebefda" stroke="#ebefda" stroke-width=".6" d="M169.4 460.4A100.4 98.8 0 0 1 162.5 455.2L167.8 448.9A92.0 90.6 0 0 0 174.2 453.7Z"/>
<path fill="#ebefdb" stroke="#ebefdb" stroke-width=".6" d="M162.5 455.2A100.4 98.8 0 0 1 156.0 449.4L161.9 443.5A92.0 90.6 0 0 0 167.8 448.9Z"/>
<path fill="#77afd2" stroke="#77afd2" stroke-width=".6" d="M156.0 449.4A100.4 98.8 0 0 1 150.1 443.0L156.5 437.7A92.0 90.6 0 0 0 161.9 443.5Z"/>
<path fill="#6095c4" stroke="#6095c4" stroke-width=".6" d="M150.1 443.0A100.4 98.8 0 0 1 144.8 436.2L151.6 431.4A92.0 90.6 0 0 0 156.5 437.7Z"/>
<path fill="#649ac7" stroke="#649ac7" stroke-width=".6" d="M144.8 436.2A100.4 98.8 0 0 1 140.1 428.9L147.3 424.8A92.0 90.6 0 0 0 151.6 431.4Z"/>
<path fill="#5c90c2" stroke="#5c90c2" stroke-width=".6" d="M140.1 428.9A100.4 98.8 0 0 1 136.0 421.3L143.6 417.8A92.0 90.6 0 0 0 147.3 424.8Z"/>
<path fill="#5284bc" stroke="#5284bc" stroke-width=".6" d="M136.0 421.3A100.4 98.8 0 0 1 132.7 413.3L140.5 410.5A92.0 90.6 0 0 0 143.6 417.8Z"/>
<path fill="#e1f3f6" stroke="#e1f3f6" stroke-width=".6" d="M132.7 413.3A100.4 98.8 0 0 1 130.0 405.1L138.1 402.9A92.0 90.6 0 0 0 140.5 410.5Z"/>
<path fill="#f9e5a5" stroke="#f9e5a5" stroke-width=".6" d="M130.0 405.1A100.4 98.8 0 0 1 128.1 396.7L136.4 395.2A92.0 90.6 0 0 0 138.1 402.9Z"/>
<path fill="#c1e4ef" stroke="#c1e4ef" stroke-width=".6" d="M128.1 396.7A100.4 98.8 0 0 1 127.0 388.1L135.3 387.4A92.0 90.6 0 0 0 136.4 395.2Z"/>
<path fill="#36459d" stroke="#36459d" stroke-width=".6" d="M127.0 388.1A100.4 98.8 0 0 1 126.6 379.5L135.0 379.5A92.0 90.6 0 0 0 135.3 387.4Z"/>
<path fill="#5a8ec1" stroke="#5a8ec1" stroke-width=".6" d="M126.6 379.5A100.4 98.8 0 0 1 127.0 370.9L135.3 371.6A92.0 90.6 0 0 0 135.0 379.5Z"/>
<path fill="#5689be" stroke="#5689be" stroke-width=".6" d="M127.0 370.9A100.4 98.8 0 0 1 128.1 362.3L136.4 363.8A92.0 90.6 0 0 0 135.3 371.6Z"/>
<path fill="#6298c6" stroke="#6298c6" stroke-width=".6" d="M128.1 362.3A100.4 98.8 0 0 1 130.0 353.9L138.1 356.1A92.0 90.6 0 0 0 136.4 363.8Z"/>
<path fill="#e2f2f4" stroke="#e2f2f4" stroke-width=".6" d="M130.0 353.9A100.4 98.8 0 0 1 132.7 345.7L140.5 348.5A92.0 90.6 0 0 0 138.1 356.1Z"/>
<path fill="#ddf2f7" stroke="#ddf2f7" stroke-width=".6" d="M132.7 345.7A100.4 98.8 0 0 1 136.0 337.7L143.6 341.2A92.0 90.6 0 0 0 140.5 348.5Z"/>
<path fill="#426db0" stroke="#426db0" stroke-width=".6" d="M136.0 337.7A100.4 98.8 0 0 1 140.1 330.1L147.3 334.2A92.0 90.6 0 0 0 143.6 341.2Z"/>
<path fill="#85bbd9" stroke="#85bbd9" stroke-width=".6" d="M140.1 330.1A100.4 98.8 0 0 1 144.8 322.8L151.6 327.6A92.0 90.6 0 0 0 147.3 334.2Z"/>
<path fill="#5f94c4" stroke="#5f94c4" stroke-width=".6" d="M144.8 322.8A100.4 98.8 0 0 1 150.1 316.0L156.5 321.3A92.0 90.6 0 0 0 151.6 327.6Z"/>
<path fill="#3d5da8" stroke="#3d5da8" stroke-width=".6" d="M150.1 316.0A100.4 98.8 0 0 1 156.0 309.6L161.9 315.5A92.0 90.6 0 0 0 156.5 321.3Z"/>
<path fill="#71a9cf" stroke="#71a9cf" stroke-width=".6" d="M156.0 309.6A100.4 98.8 0 0 1 162.5 303.8L167.8 310.1A92.0 90.6 0 0 0 161.9 315.5Z"/>
<path fill="#b2dceb" stroke="#b2dceb" stroke-width=".6" d="M162.5 303.8A100.4 98.8 0 0 1 169.4 298.6L174.2 305.3A92.0 90.6 0 0 0 167.8 310.1Z"/>
<path fill="#4c7db8" stroke="#4c7db8" stroke-width=".6" d="M169.4 298.6A100.4 98.8 0 0 1 176.8 293.9L181.0 301.1A92.0 90.6 0 0 0 174.2 305.3Z"/>
<path fill="#9dcee3" stroke="#9dcee3" stroke-width=".6" d="M176.8 293.9A100.4 98.8 0 0 1 184.6 290.0L188.1 297.4A92.0 90.6 0 0 0 181.0 301.1Z"/>
<path fill="#384ba0" stroke="#384ba0" stroke-width=".6" d="M184.6 290.0A100.4 98.8 0 0 1 192.7 286.7L195.5 294.4A92.0 90.6 0 0 0 188.1 297.4Z"/>
<path fill="#5d92c3" stroke="#5d92c3" stroke-width=".6" d="M192.7 286.7A100.4 98.8 0 0 1 201.0 284.1L203.2 292.0A92.0 90.6 0 0 0 195.5 294.4Z"/>
<path fill="#a5d4e6" stroke="#a5d4e6" stroke-width=".6" d="M201.0 284.1A100.4 98.8 0 0 1 209.6 282.2L211.0 290.3A92.0 90.6 0 0 0 203.2 292.0Z"/>
<path fill="#4c7db8" stroke="#4c7db8" stroke-width=".6" d="M209.6 282.2A100.4 98.8 0 0 1 218.2 281.1L219.0 289.3A92.0 90.6 0 0 0 211.0 290.3Z"/>
<path fill="#90c3dd" stroke="#90c3dd" stroke-width=".6" d="M218.2 281.1A100.4 98.8 0 0 1 227.0 280.7L227.0 288.9A92.0 90.6 0 0 0 219.0 289.3Z"/>
<path fill="#7db4d5" stroke="#7db4d5" stroke-width=".6" d="M227.0 272.5A108.8 107.0 0 0 1 236.5 272.9L235.8 281.1A100.4 98.8 0 0 0 227.0 280.7Z"/>
<path fill="#a7d6e7" stroke="#a7d6e7" stroke-width=".6" d="M236.5 272.9A108.8 107.0 0 0 1 245.9 274.1L244.4 282.2A100.4 98.8 0 0 0 235.8 281.1Z"/>
<path fill="#a3d3e5" stroke="#a3d3e5" stroke-width=".6" d="M245.9 274.1A108.8 107.0 0 0 1 255.2 276.1L253.0 284.1A100.4 98.8 0 0 0 244.4 282.2Z"/>
<path fill="#6398c6" stroke="#6398c6" stroke-width=".6" d="M255.2 276.1A108.8 107.0 0 0 1 264.2 278.9L261.3 286.7A100.4 98.8 0 0 0 253.0 284.1Z"/>
<path fill="#3a53a4" stroke="#3a53a4" stroke-width=".6" d="M264.2 278.9A108.8 107.0 0 0 1 273.0 282.5L269.4 290.0A100.4 98.8 0 0 0 261.3 286.7Z"/>
<path fill="#5d91c3" stroke="#5d91c3" stroke-width=".6" d="M273.0 282.5A108.8 107.0 0 0 1 281.4 286.8L277.2 293.9A100.4 98.8 0 0 0 269.4 290.0Z"/>
<path fill="#d8eff6" stroke="#d8eff6" stroke-width=".6" d="M281.4 286.8A108.8 107.0 0 0 1 289.4 291.8L284.6 298.6A100.4 98.8 0 0 0 277.2 293.9Z"/>
<path fill="#a4d4e6" stroke="#a4d4e6" stroke-width=".6" d="M289.4 291.8A108.8 107.0 0 0 1 296.9 297.5L291.5 303.8A100.4 98.8 0 0 0 284.6 298.6Z"/>
<path fill="#afdbea" stroke="#afdbea" stroke-width=".6" d="M296.9 297.5A108.8 107.0 0 0 1 303.9 303.8L298.0 309.6A100.4 98.8 0 0 0 291.5 303.8Z"/>
<path fill="#e8f0e2" stroke="#e8f0e2" stroke-width=".6" d="M303.9 303.8A108.8 107.0 0 0 1 310.3 310.7L303.9 316.0A100.4 98.8 0 0 0 298.0 309.6Z"/>
<path fill="#d2ecf4" stroke="#d2ecf4" stroke-width=".6" d="M310.3 310.7A108.8 107.0 0 0 1 316.1 318.1L309.2 322.8A100.4 98.8 0 0 0 303.9 316.0Z"/>
<path fill="#6ca3cc" stroke="#6ca3cc" stroke-width=".6" d="M316.1 318.1A108.8 107.0 0 0 1 321.2 326.0L313.9 330.1A100.4 98.8 0 0 0 309.2 322.8Z"/>
<path fill="#7db4d5" stroke="#7db4d5" stroke-width=".6" d="M321.2 326.0A108.8 107.0 0 0 1 325.6 334.3L318.0 337.7A100.4 98.8 0 0 0 313.9 330.1Z"/>
<path fill="#8cc0db" stroke="#8cc0db" stroke-width=".6" d="M325.6 334.3A108.8 107.0 0 0 1 329.2 342.9L321.3 345.7A100.4 98.8 0 0 0 318.0 337.7Z"/>
<path fill="#96c8e0" stroke="#96c8e0" stroke-width=".6" d="M329.2 342.9A108.8 107.0 0 0 1 332.1 351.8L324.0 353.9A100.4 98.8 0 0 0 321.3 345.7Z"/>
<path fill="#4167ad" stroke="#4167ad" stroke-width=".6" d="M332.1 351.8A108.8 107.0 0 0 1 334.1 360.9L325.9 362.3A100.4 98.8 0 0 0 324.0 353.9Z"/>
<path fill="#7db4d5" stroke="#7db4d5" stroke-width=".6" d="M334.1 360.9A108.8 107.0 0 0 1 335.4 370.2L327.0 370.9A100.4 98.8 0 0 0 325.9 362.3Z"/>
<path fill="#9acce2" stroke="#9acce2" stroke-width=".6" d="M335.4 370.2A108.8 107.0 0 0 1 335.8 379.5L327.4 379.5A100.4 98.8 0 0 0 327.0 370.9Z"/>
<path fill="#b2ddeb" stroke="#b2ddeb" stroke-width=".6" d="M335.8 379.5A108.8 107.0 0 0 1 335.4 388.8L327.0 388.1A100.4 98.8 0 0 0 327.4 379.5Z"/>
<path fill="#a1d1e4" stroke="#a1d1e4" stroke-width=".6" d="M335.4 388.8A108.8 107.0 0 0 1 334.1 398.1L325.9 396.7A100.4 98.8 0 0 0 327.0 388.1Z"/>
<path fill="#6ea5cd" stroke="#6ea5cd" stroke-width=".6" d="M334.1 398.1A108.8 107.0 0 0 1 332.1 407.2L324.0 405.1A100.4 98.8 0 0 0 325.9 396.7Z"/>
<path fill="#5e93c3" stroke="#5e93c3" stroke-width=".6" d="M332.1 407.2A108.8 107.0 0 0 1 329.2 416.1L321.3 413.3A100.4 98.8 0 0 0 324.0 405.1Z"/>
<path fill="#436eb1" stroke="#436eb1" stroke-width=".6" d="M329.2 416.1A108.8 107.0 0 0 1 325.6 424.7L318.0 421.3A100.4 98.8 0 0 0 321.3 413.3Z"/>
<path fill="#3e5ea9" stroke="#3e5ea9" stroke-width=".6" d="M325.6 424.7A108.8 107.0 0 0 1 321.2 433.0L313.9 428.9A100.4 98.8 0 0 0 318.0 421.3Z"/>
<path fill="#3a52a3" stroke="#3a52a3" stroke-width=".6" d="M321.2 433.0A108.8 107.0 0 0 1 316.1 440.9L309.2 436.2A100.4 98.8 0 0 0 313.9 428.9Z"/>
<path fill="#89beda" stroke="#89beda" stroke-width=".6" d="M316.1 440.9A108.8 107.0 0 0 1 310.3 448.3L303.9 443.0A100.4 98.8 0 0 0 309.2 436.2Z"/>
<path fill="#b6deec" stroke="#b6deec" stroke-width=".6" d="M310.3 448.3A108.8 107.0 0 0 1 303.9 455.2L298.0 449.4A100.4 98.8 0 0 0 303.9 443.0Z"/>
<path fill="#bfe3ef" stroke="#bfe3ef" stroke-width=".6" d="M303.9 455.2A108.8 107.0 0 0 1 296.9 461.5L291.5 455.2A100.4 98.8 0 0 0 298.0 449.4Z"/>
<path fill="#7eb5d5" stroke="#7eb5d5" stroke-width=".6" d="M296.9 461.5A108.8 107.0 0 0 1 289.4 467.2L284.6 460.4A100.4 98.8 0 0 0 291.5 455.2Z"/>
<path fill="#4169ae" stroke="#4169ae" stroke-width=".6" d="M289.4 467.2A108.8 107.0 0 0 1 281.4 472.2L277.2 465.1A100.4 98.8 0 0 0 284.6 460.4Z"/>
<path fill="#4067ad" stroke="#4067ad" stroke-width=".6" d="M281.4 472.2A108.8 107.0 0 0 1 273.0 476.5L269.4 469.0A100.4 98.8 0 0 0 277.2 465.1Z"/>
<path fill="#aedaea" stroke="#aedaea" stroke-width=".6" d="M273.0 476.5A108.8 107.0 0 0 1 264.2 480.1L261.3 472.3A100.4 98.8 0 0 0 269.4 469.0Z"/>
<path fill="#b4ddeb" stroke="#b4ddeb" stroke-width=".6" d="M264.2 480.1A108.8 107.0 0 0 1 255.2 482.9L253.0 474.9A100.4 98.8 0 0 0 261.3 472.3Z"/>
<path fill="#6fa8ce" stroke="#6fa8ce" stroke-width=".6" d="M255.2 482.9A108.8 107.0 0 0 1 245.9 484.9L244.4 476.8A100.4 98.8 0 0 0 253.0 474.9Z"/>
<path fill="#77b0d2" stroke="#77b0d2" stroke-width=".6" d="M245.9 484.9A108.8 107.0 0 0 1 236.5 486.1L235.8 477.9A100.4 98.8 0 0 0 244.4 476.8Z"/>
<path fill="#4473b3" stroke="#4473b3" stroke-width=".6" d="M236.5 486.1A108.8 107.0 0 0 1 227.0 486.5L227.0 478.3A100.4 98.8 0 0 0 235.8 477.9Z"/>
<path fill="#85bad8" stroke="#85bad8" stroke-width=".6" d="M227.0 486.5A108.8 107.0 0 0 1 217.5 486.1L218.2 477.9A100.4 98.8 0 0 0 227.0 478.3Z"/>
<path fill="#e7f0e6" stroke="#e7f0e6" stroke-width=".6" d="M217.5 486.1A108.8 107.0 0 0 1 208.1 484.9L209.6 476.8A100.4 98.8 0 0 0 218.2 477.9Z"/>
<path fill="#ceeaf3" stroke="#ceeaf3" stroke-width=".6" d="M208.1 484.9A108.8 107.0 0 0 1 198.8 482.9L201.0 474.9A100.4 98.8 0 0 0 209.6 476.8Z"/>
<path fill="#80b6d6" stroke="#80b6d6" stroke-width=".6" d="M198.8 482.9A108.8 107.0 0 0 1 189.8 480.1L192.7 472.3A100.4 98.8 0 0 0 201.0 474.9Z"/>
<path fill="#3c58a6" stroke="#3c58a6" stroke-width=".6" d="M189.8 480.1A108.8 107.0 0 0 1 181.0 476.5L184.6 469.0A100.4 98.8 0 0 0 192.7 472.3Z"/>
<path fill="#5d92c3" stroke="#5d92c3" stroke-width=".6" d="M181.0 476.5A108.8 107.0 0 0 1 172.6 472.2L176.8 465.1A100.4 98.8 0 0 0 184.6 469.0Z"/>
<path fill="#bbe1ed" stroke="#bbe1ed" stroke-width=".6" d="M172.6 472.2A108.8 107.0 0 0 1 164.6 467.2L169.4 460.4A100.4 98.8 0 0 0 176.8 465.1Z"/>
<path fill="#d6eef5" stroke="#d6eef5" stroke-width=".6" d="M164.6 467.2A108.8 107.0 0 0 1 157.1 461.5L162.5 455.2A100.4 98.8 0 0 0 169.4 460.4Z"/>
<path fill="#dff3f8" stroke="#dff3f8" stroke-width=".6" d="M157.1 461.5A108.8 107.0 0 0 1 150.1 455.2L156.0 449.4A100.4 98.8 0 0 0 162.5 455.2Z"/>
<path fill="#8cc0db" stroke="#8cc0db" stroke-width=".6" d="M150.1 455.2A108.8 107.0 0 0 1 143.7 448.3L150.1 443.0A100.4 98.8 0 0 0 156.0 449.4Z"/>
<path fill="#3f62aa" stroke="#3f62aa" stroke-width=".6" d="M143.7 448.3A108.8 107.0 0 0 1 137.9 440.9L144.8 436.2A100.4 98.8 0 0 0 150.1 443.0Z"/>
<path fill="#4575b4" stroke="#4575b4" stroke-width=".6" d="M137.9 440.9A108.8 107.0 0 0 1 132.8 433.0L140.1 428.9A100.4 98.8 0 0 0 144.8 436.2Z"/>
<path fill="#426baf" stroke="#426baf" stroke-width=".6" d="M132.8 433.0A108.8 107.0 0 0 1 128.4 424.7L136.0 421.3A100.4 98.8 0 0 0 140.1 428.9Z"/>
<path fill="#7fb6d6" stroke="#7fb6d6" stroke-width=".6" d="M128.4 424.7A108.8 107.0 0 0 1 124.8 416.1L132.7 413.3A100.4 98.8 0 0 0 136.0 421.3Z"/>
<path fill="#f0edce" stroke="#f0edce" stroke-width=".6" d="M124.8 416.1A108.8 107.0 0 0 1 121.9 407.2L130.0 405.1A100.4 98.8 0 0 0 132.7 413.3Z"/>
<path fill="#f5e9bc" stroke="#f5e9bc" stroke-width=".6" d="M121.9 407.2A108.8 107.0 0 0 1 119.9 398.1L128.1 396.7A100.4 98.8 0 0 0 130.0 405.1Z"/>
<path fill="#6fa7ce" stroke="#6fa7ce" stroke-width=".6" d="M119.9 398.1A108.8 107.0 0 0 1 118.6 388.8L127.0 388.1A100.4 98.8 0 0 0 128.1 396.7Z"/>
<path fill="#649ac7" stroke="#649ac7" stroke-width=".6" d="M118.6 388.8A108.8 107.0 0 0 1 118.2 379.5L126.6 379.5A100.4 98.8 0 0 0 127.0 388.1Z"/>
<path fill="#71aacf" stroke="#71aacf" stroke-width=".6" d="M118.2 379.5A108.8 107.0 0 0 1 118.6 370.2L127.0 370.9A100.4 98.8 0 0 0 126.6 379.5Z"/>
<path fill="#5487bd" stroke="#5487bd" stroke-width=".6" d="M118.6 370.2A108.8 107.0 0 0 1 119.9 360.9L128.1 362.3A100.4 98.8 0 0 0 127.0 370.9Z"/>
<path fill="#dbf1f7" stroke="#dbf1f7" stroke-width=".6" d="M119.9 360.9A108.8 107.0 0 0 1 121.9 351.8L130.0 353.9A100.4 98.8 0 0 0 128.1 362.3Z"/>
<path fill="#fce29a" stroke="#fce29a" stroke-width=".6" d="M121.9 351.8A108.8 107.0 0 0 1 124.8 342.9L132.7 345.7A100.4 98.8 0 0 0 130.0 353.9Z"/>
<path fill="#edeed6" stroke="#edeed6" stroke-width=".6" d="M124.8 342.9A108.8 107.0 0 0 1 128.4 334.3L136.0 337.7A100.4 98.8 0 0 0 132.7 345.7Z"/>
<path fill="#588cc0" stroke="#588cc0" stroke-width=".6" d="M128.4 334.3A108.8 107.0 0 0 1 132.8 326.0L140.1 330.1A100.4 98.8 0 0 0 136.0 337.7Z"/>
<path fill="#426baf" stroke="#426baf" stroke-width=".6" d="M132.8 326.0A108.8 107.0 0 0 1 137.9 318.1L144.8 322.8A100.4 98.8 0 0 0 140.1 330.1Z"/>
<path fill="#3d5da8" stroke="#3d5da8" stroke-width=".6" d="M137.9 318.1A108.8 107.0 0 0 1 143.7 310.7L150.1 316.0A100.4 98.8 0 0 0 144.8 322.8Z"/>
<path fill="#a6d5e7" stroke="#a6d5e7" stroke-width=".6" d="M143.7 310.7A108.8 107.0 0 0 1 150.1 303.8L156.0 309.6A100.4 98.8 0 0 0 150.1 316.0Z"/>
<path fill="#c1e4ef" stroke="#c1e4ef" stroke-width=".6" d="M150.1 303.8A108.8 107.0 0 0 1 157.1 297.5L162.5 303.8A100.4 98.8 0 0 0 156.0 309.6Z"/>
<path fill="#588bc0" stroke="#588bc0" stroke-width=".6" d="M157.1 297.5A108.8 107.0 0 0 1 164.6 291.8L169.4 298.6A100.4 98.8 0 0 0 162.5 303.8Z"/>
<path fill="#77b0d3" stroke="#77b0d3" stroke-width=".6" d="M164.6 291.8A108.8 107.0 0 0 1 172.6 286.8L176.8 293.9A100.4 98.8 0 0 0 169.4 298.6Z"/>
<path fill="#b2dceb" stroke="#b2dceb" stroke-width=".6" d="M172.6 286.8A108.8 107.0 0 0 1 181.0 282.5L184.6 290.0A100.4 98.8 0 0 0 176.8 293.9Z"/>
<path fill="#6ea5cd" stroke="#6ea5cd" stroke-width=".6" d="M181.0 282.5A108.8 107.0 0 0 1 189.8 278.9L192.7 286.7A100.4 98.8 0 0 0 184.6 290.0Z"/>
<path fill="#578abf" stroke="#578abf" stroke-width=".6" d="M189.8 278.9A108.8 107.0 0 0 1 198.8 276.1L201.0 284.1A100.4 98.8 0 0 0 192.7 286.7Z"/>
<path fill="#92c5de" stroke="#92c5de" stroke-width=".6" d="M198.8 276.1A108.8 107.0 0 0 1 208.1 274.1L209.6 282.2A100.4 98.8 0 0 0 201.0 284.1Z"/>
<path fill="#5285bc" stroke="#5285bc" stroke-width=".6" d="M208.1 274.1A108.8 107.0 0 0 1 217.5 272.9L218.2 281.1A100.4 98.8 0 0 0 209.6 282.2Z"/>
<path fill="#4471b2" stroke="#4471b2" stroke-width=".6" d="M217.5 272.9A108.8 107.0 0 0 1 227.0 272.5L227.0 280.7A100.4 98.8 0 0 0 218.2 281.1Z"/>
<path fill="#87bcd9" stroke="#87bcd9" stroke-width=".6" d="M227.0 264.2A117.1 115.3 0 0 1 237.2 264.7L236.5 272.9A108.8 107.0 0 0 0 227.0 272.5Z"/>
<path fill="#acd9e9" stroke="#acd9e9" stroke-width=".6" d="M237.2 264.7A117.1 115.3 0 0 1 247.3 266.0L245.9 274.1A108.8 107.0 0 0 0 236.5 272.9Z"/>
<path fill="#93c6df" stroke="#93c6df" stroke-width=".6" d="M247.3 266.0A117.1 115.3 0 0 1 257.3 268.2L255.2 276.1A108.8 107.0 0 0 0 245.9 274.1Z"/>
<path fill="#6197c6" stroke="#6197c6" stroke-width=".6" d="M257.3 268.2A117.1 115.3 0 0 1 267.1 271.2L264.2 278.9A108.8 107.0 0 0 0 255.2 276.1Z"/>
<path fill="#3c59a6" stroke="#3c59a6" stroke-width=".6" d="M267.1 271.2A117.1 115.3 0 0 1 276.5 275.0L273.0 282.5A108.8 107.0 0 0 0 264.2 278.9Z"/>
<path fill="#5f94c4" stroke="#5f94c4" stroke-width=".6" d="M276.5 275.0A117.1 115.3 0 0 1 285.6 279.7L281.4 286.8A108.8 107.0 0 0 0 273.0 282.5Z"/>
<path fill="#dcf1f7" stroke="#dcf1f7" stroke-width=".6" d="M285.6 279.7A117.1 115.3 0 0 1 294.2 285.1L289.4 291.8A108.8 107.0 0 0 0 281.4 286.8Z"/>
<path fill="#b0dcea" stroke="#b0dcea" stroke-width=".6" d="M294.2 285.1A117.1 115.3 0 0 1 302.3 291.2L296.9 297.5A108.8 107.0 0 0 0 289.4 291.8Z"/>
<path fill="#aedbea" stroke="#aedbea" stroke-width=".6" d="M302.3 291.2A117.1 115.3 0 0 1 309.8 298.0L303.9 303.8A108.8 107.0 0 0 0 296.9 297.5Z"/>
<path fill="#ebefda" stroke="#ebefda" stroke-width=".6" d="M309.8 298.0A117.1 115.3 0 0 1 316.7 305.4L310.3 310.7A108.8 107.0 0 0 0 303.9 303.8Z"/>
<path fill="#d6eef5" stroke="#d6eef5" stroke-width=".6" d="M316.7 305.4A117.1 115.3 0 0 1 323.0 313.4L316.1 318.1A108.8 107.0 0 0 0 310.3 310.7Z"/>
<path fill="#6ea6cd" stroke="#6ea6cd" stroke-width=".6" d="M323.0 313.4A117.1 115.3 0 0 1 328.4 321.9L321.2 326.0A108.8 107.0 0 0 0 316.1 318.1Z"/>
<path fill="#74add1" stroke="#74add1" stroke-width=".6" d="M328.4 321.9A117.1 115.3 0 0 1 333.2 330.8L325.6 334.3A108.8 107.0 0 0 0 321.2 326.0Z"/>
<path fill="#8bbfdb" stroke="#8bbfdb" stroke-width=".6" d="M333.2 330.8A117.1 115.3 0 0 1 337.1 340.1L329.2 342.9A108.8 107.0 0 0 0 325.6 334.3Z"/>
<path fill="#93c6de" stroke="#93c6de" stroke-width=".6" d="M337.1 340.1A117.1 115.3 0 0 1 340.1 349.7L332.1 351.8A108.8 107.0 0 0 0 329.2 342.9Z"/>
<path fill="#5082bb" stroke="#5082bb" stroke-width=".6" d="M340.1 349.7A117.1 115.3 0 0 1 342.4 359.5L334.1 360.9A108.8 107.0 0 0 0 332.1 351.8Z"/>
<path fill="#73acd0" stroke="#73acd0" stroke-width=".6" d="M342.4 359.5A117.1 115.3 0 0 1 343.7 369.5L335.4 370.2A108.8 107.0 0 0 0 334.1 360.9Z"/>
<path fill="#99cbe1" stroke="#99cbe1" stroke-width=".6" d="M343.7 369.5A117.1 115.3 0 0 1 344.1 379.5L335.8 379.5A108.8 107.0 0 0 0 335.4 370.2Z"/>
<path fill="#a8d7e8" stroke="#a8d7e8" stroke-width=".6" d="M344.1 379.5A117.1 115.3 0 0 1 343.7 389.5L335.4 388.8A108.8 107.0 0 0 0 335.8 379.5Z"/>
<path fill="#9ccde3" stroke="#9ccde3" stroke-width=".6" d="M343.7 389.5A117.1 115.3 0 0 1 342.4 399.5L334.1 398.1A108.8 107.0 0 0 0 335.4 388.8Z"/>
<path fill="#71aacf" stroke="#71aacf" stroke-width=".6" d="M342.4 399.5A117.1 115.3 0 0 1 340.1 409.3L332.1 407.2A108.8 107.0 0 0 0 334.1 398.1Z"/>
<path fill="#6da5cd" stroke="#6da5cd" stroke-width=".6" d="M340.1 409.3A117.1 115.3 0 0 1 337.1 418.9L329.2 416.1A108.8 107.0 0 0 0 332.1 407.2Z"/>
<path fill="#4473b3" stroke="#4473b3" stroke-width=".6" d="M337.1 418.9A117.1 115.3 0 0 1 333.2 428.2L325.6 424.7A108.8 107.0 0 0 0 329.2 416.1Z"/>
<path fill="#3e60a9" stroke="#3e60a9" stroke-width=".6" d="M333.2 428.2A117.1 115.3 0 0 1 328.4 437.1L321.2 433.0A108.8 107.0 0 0 0 325.6 424.7Z"/>
<path fill="#669cc8" stroke="#669cc8" stroke-width=".6" d="M328.4 437.1A117.1 115.3 0 0 1 323.0 445.6L316.1 440.9A108.8 107.0 0 0 0 321.2 433.0Z"/>
<path fill="#79b1d3" stroke="#79b1d3" stroke-width=".6" d="M323.0 445.6A117.1 115.3 0 0 1 316.7 453.6L310.3 448.3A108.8 107.0 0 0 0 316.1 440.9Z"/>
<path fill="#afdbea" stroke="#afdbea" stroke-width=".6" d="M316.7 453.6A117.1 115.3 0 0 1 309.8 461.0L303.9 455.2A108.8 107.0 0 0 0 310.3 448.3Z"/>
<path fill="#b5deec" stroke="#b5deec" stroke-width=".6" d="M309.8 461.0A117.1 115.3 0 0 1 302.3 467.8L296.9 461.5A108.8 107.0 0 0 0 303.9 455.2Z"/>
<path fill="#77afd2" stroke="#77afd2" stroke-width=".6" d="M302.3 467.8A117.1 115.3 0 0 1 294.2 473.9L289.4 467.2A108.8 107.0 0 0 0 296.9 461.5Z"/>
<path fill="#3b56a5" stroke="#3b56a5" stroke-width=".6" d="M294.2 473.9A117.1 115.3 0 0 1 285.6 479.3L281.4 472.2A108.8 107.0 0 0 0 289.4 467.2Z"/>
<path fill="#3d5da8" stroke="#3d5da8" stroke-width=".6" d="M285.6 479.3A117.1 115.3 0 0 1 276.5 484.0L273.0 476.5A108.8 107.0 0 0 0 281.4 472.2Z"/>
<path fill="#b7dfed" stroke="#b7dfed" stroke-width=".6" d="M276.5 484.0A117.1 115.3 0 0 1 267.1 487.8L264.2 480.1A108.8 107.0 0 0 0 273.0 476.5Z"/>
<path fill="#9fcfe4" stroke="#9fcfe4" stroke-width=".6" d="M267.1 487.8A117.1 115.3 0 0 1 257.3 490.8L255.2 482.9A108.8 107.0 0 0 0 264.2 480.1Z"/>
<path fill="#669cc8" stroke="#669cc8" stroke-width=".6" d="M257.3 490.8A117.1 115.3 0 0 1 247.3 493.0L245.9 484.9A108.8 107.0 0 0 0 255.2 482.9Z"/>
<path fill="#6aa1cb" stroke="#6aa1cb" stroke-width=".6" d="M247.3 493.0A117.1 115.3 0 0 1 237.2 494.3L236.5 486.1A108.8 107.0 0 0 0 245.9 484.9Z"/>
<path fill="#4066ac" stroke="#4066ac" stroke-width=".6" d="M237.2 494.3A117.1 115.3 0 0 1 227.0 494.8L227.0 486.5A108.8 107.0 0 0 0 236.5 486.1Z"/>
<path fill="#7eb5d5" stroke="#7eb5d5" stroke-width=".6" d="M227.0 494.8A117.1 115.3 0 0 1 216.8 494.3L217.5 486.1A108.8 107.0 0 0 0 227.0 486.5Z"/>
<path fill="#e2f2f2" stroke="#e2f2f2" stroke-width=".6" d="M216.8 494.3A117.1 115.3 0 0 1 206.7 493.0L208.1 484.9A108.8 107.0 0 0 0 217.5 486.1Z"/>
<path fill="#dbf0f6" stroke="#dbf0f6" stroke-width=".6" d="M206.7 493.0A117.1 115.3 0 0 1 196.7 490.8L198.8 482.9A108.8 107.0 0 0 0 208.1 484.9Z"/>
<path fill="#78b0d3" stroke="#78b0d3" stroke-width=".6" d="M196.7 490.8A117.1 115.3 0 0 1 186.9 487.8L189.8 480.1A108.8 107.0 0 0 0 198.8 482.9Z"/>
<path fill="#3c59a6" stroke="#3c59a6" stroke-width=".6" d="M186.9 487.8A117.1 115.3 0 0 1 177.5 484.0L181.0 476.5A108.8 107.0 0 0 0 189.8 480.1Z"/>
<path fill="#5386bd" stroke="#5386bd" stroke-width=".6" d="M177.5 484.0A117.1 115.3 0 0 1 168.4 479.3L172.6 472.2A108.8 107.0 0 0 0 181.0 476.5Z"/>
<path fill="#bce1ee" stroke="#bce1ee" stroke-width=".6" d="M168.4 479.3A117.1 115.3 0 0 1 159.8 473.9L164.6 467.2A108.8 107.0 0 0 0 172.6 472.2Z"/>
<path fill="#d7eff6" stroke="#d7eff6" stroke-width=".6" d="M159.8 473.9A117.1 115.3 0 0 1 151.7 467.8L157.1 461.5A108.8 107.0 0 0 0 164.6 467.2Z"/>
<path fill="#e2f2f2" stroke="#e2f2f2" stroke-width=".6" d="M151.7 467.8A117.1 115.3 0 0 1 144.2 461.0L150.1 455.2A108.8 107.0 0 0 0 157.1 461.5Z"/>
<path fill="#86bbd9" stroke="#86bbd9" stroke-width=".6" d="M144.2 461.0A117.1 115.3 0 0 1 137.3 453.6L143.7 448.3A108.8 107.0 0 0 0 150.1 455.2Z"/>
<path fill="#3f63ab" stroke="#3f63ab" stroke-width=".6" d="M137.3 453.6A117.1 115.3 0 0 1 131.0 445.6L137.9 440.9A108.8 107.0 0 0 0 143.7 448.3Z"/>
<path fill="#3d5ca8" stroke="#3d5ca8" stroke-width=".6" d="M131.0 445.6A117.1 115.3 0 0 1 125.6 437.1L132.8 433.0A108.8 107.0 0 0 0 137.9 440.9Z"/>
<path fill="#4574b4" stroke="#4574b4" stroke-width=".6" d="M125.6 437.1A117.1 115.3 0 0 1 120.8 428.2L128.4 424.7A108.8 107.0 0 0 0 132.8 433.0Z"/>
<path fill="#80b7d6" stroke="#80b7d6" stroke-width=".6" d="M120.8 428.2A117.1 115.3 0 0 1 116.9 418.9L124.8 416.1A108.8 107.0 0 0 0 128.4 424.7Z"/>
<path fill="#efedd0" stroke="#efedd0" stroke-width=".6" d="M116.9 418.9A117.1 115.3 0 0 1 113.9 409.3L121.9 407.2A108.8 107.0 0 0 0 124.8 416.1Z"/>
<path fill="#efedd1" stroke="#efedd1" stroke-width=".6" d="M113.9 409.3A117.1 115.3 0 0 1 111.6 399.5L119.9 398.1A108.8 107.0 0 0 0 121.9 407.2Z"/>
<path fill="#7ab2d4" stroke="#7ab2d4" stroke-width=".6" d="M111.6 399.5A117.1 115.3 0 0 1 110.3 389.5L118.6 388.8A108.8 107.0 0 0 0 119.9 398.1Z"/>
<path fill="#6197c5" stroke="#6197c5" stroke-width=".6" d="M110.3 389.5A117.1 115.3 0 0 1 109.9 379.5L118.2 379.5A108.8 107.0 0 0 0 118.6 388.8Z"/>
<path fill="#6399c7" stroke="#6399c7" stroke-width=".6" d="M109.9 379.5A117.1 115.3 0 0 1 110.3 369.5L118.6 370.2A108.8 107.0 0 0 0 118.2 379.5Z"/>
<path fill="#578bbf" stroke="#578bbf" stroke-width=".6" d="M110.3 369.5A117.1 115.3 0 0 1 111.6 359.5L119.9 360.9A108.8 107.0 0 0 0 118.6 370.2Z"/>
<path fill="#d2ecf4" stroke="#d2ecf4" stroke-width=".6" d="M111.6 359.5A117.1 115.3 0 0 1 113.9 349.7L121.9 351.8A108.8 107.0 0 0 0 119.9 360.9Z"/>
<path fill="#f9e5a7" stroke="#f9e5a7" stroke-width=".6" d="M113.9 349.7A117.1 115.3 0 0 1 116.9 340.1L124.8 342.9A108.8 107.0 0 0 0 121.9 351.8Z"/>
<path fill="#edeed6" stroke="#edeed6" stroke-width=".6" d="M116.9 340.1A117.1 115.3 0 0 1 120.8 330.8L128.4 334.3A108.8 107.0 0 0 0 124.8 342.9Z"/>
<path fill="#5386bd" stroke="#5386bd" stroke-width=".6" d="M120.8 330.8A117.1 115.3 0 0 1 125.6 321.9L132.8 326.0A108.8 107.0 0 0 0 128.4 334.3Z"/>
<path fill="#4676b4" stroke="#4676b4" stroke-width=".6" d="M125.6 321.9A117.1 115.3 0 0 1 131.0 313.4L137.9 318.1A108.8 107.0 0 0 0 132.8 326.0Z"/>
<path fill="#394fa1" stroke="#394fa1" stroke-width=".6" d="M131.0 313.4A117.1 115.3 0 0 1 137.3 305.4L143.7 310.7A108.8 107.0 0 0 0 137.9 318.1Z"/>
<path fill="#9fcfe4" stroke="#9fcfe4" stroke-width=".6" d="M137.3 305.4A117.1 115.3 0 0 1 144.2 298.0L150.1 303.8A108.8 107.0 0 0 0 143.7 310.7Z"/>
<path fill="#addaea" stroke="#addaea" stroke-width=".6" d="M144.2 298.0A117.1 115.3 0 0 1 151.7 291.2L157.1 297.5A108.8 107.0 0 0 0 150.1 303.8Z"/>
<path fill="#649ac7" stroke="#649ac7" stroke-width=".6" d="M151.7 291.2A117.1 115.3 0 0 1 159.8 285.1L164.6 291.8A108.8 107.0 0 0 0 157.1 297.5Z"/>
<path fill="#83b9d8" stroke="#83b9d8" stroke-width=".6" d="M159.8 285.1A117.1 115.3 0 0 1 168.4 279.7L172.6 286.8A108.8 107.0 0 0 0 164.6 291.8Z"/>
<path fill="#bbe1ed" stroke="#bbe1ed" stroke-width=".6" d="M168.4 279.7A117.1 115.3 0 0 1 177.5 275.0L181.0 282.5A108.8 107.0 0 0 0 172.6 286.8Z"/>
<path fill="#6ea6ce" stroke="#6ea6ce" stroke-width=".6" d="M177.5 275.0A117.1 115.3 0 0 1 186.9 271.2L189.8 278.9A108.8 107.0 0 0 0 181.0 282.5Z"/>
<path fill="#5e93c4" stroke="#5e93c4" stroke-width=".6" d="M186.9 271.2A117.1 115.3 0 0 1 196.7 268.2L198.8 276.1A108.8 107.0 0 0 0 189.8 278.9Z"/>
<path fill="#88bdda" stroke="#88bdda" stroke-width=".6" d="M196.7 268.2A117.1 115.3 0 0 1 206.7 266.0L208.1 274.1A108.8 107.0 0 0 0 198.8 276.1Z"/>
<path fill="#4f81ba" stroke="#4f81ba" stroke-width=".6" d="M206.7 266.0A117.1 115.3 0 0 1 216.8 264.7L217.5 272.9A108.8 107.0 0 0 0 208.1 274.1Z"/>
<path fill="#416aaf" stroke="#416aaf" stroke-width=".6" d="M216.8 264.7A117.1 115.3 0 0 1 227.0 264.2L227.0 272.5A108.8 107.0 0 0 0 217.5 272.9Z"/>
<path fill="#8abfdb" stroke="#8abfdb" stroke-width=".6" d="M227.0 256.0A125.5 123.5 0 0 1 237.9 256.5L237.2 264.7A117.1 115.3 0 0 0 227.0 264.2Z"/>
<path fill="#a3d2e5" stroke="#a3d2e5" stroke-width=".6" d="M237.9 256.5A125.5 123.5 0 0 1 248.8 257.9L247.3 266.0A117.1 115.3 0 0 0 237.2 264.7Z"/>
<path fill="#a9d7e8" stroke="#a9d7e8" stroke-width=".6" d="M248.8 257.9A125.5 123.5 0 0 1 259.5 260.2L257.3 268.2A117.1 115.3 0 0 0 247.3 266.0Z"/>
<path fill="#5b8fc2" stroke="#5b8fc2" stroke-width=".6" d="M259.5 260.2A125.5 123.5 0 0 1 269.9 263.4L267.1 271.2A117.1 115.3 0 0 0 257.3 268.2Z"/>
<path fill="#3b55a4" stroke="#3b55a4" stroke-width=".6" d="M269.9 263.4A125.5 123.5 0 0 1 280.0 267.6L276.5 275.0A117.1 115.3 0 0 0 267.1 271.2Z"/>
<path fill="#5c90c2" stroke="#5c90c2" stroke-width=".6" d="M280.0 267.6A125.5 123.5 0 0 1 289.8 272.5L285.6 279.7A117.1 115.3 0 0 0 276.5 275.0Z"/>
<path fill="#d1ecf4" stroke="#d1ecf4" stroke-width=".6" d="M289.8 272.5A125.5 123.5 0 0 1 299.0 278.3L294.2 285.1A117.1 115.3 0 0 0 285.6 279.7Z"/>
<path fill="#b4ddec" stroke="#b4ddec" stroke-width=".6" d="M299.0 278.3A125.5 123.5 0 0 1 307.7 284.9L302.3 291.2A117.1 115.3 0 0 0 294.2 285.1Z"/>
<path fill="#aad8e9" stroke="#aad8e9" stroke-width=".6" d="M307.7 284.9A125.5 123.5 0 0 1 315.7 292.2L309.8 298.0A117.1 115.3 0 0 0 302.3 291.2Z"/>
<path fill="#ebefdb" stroke="#ebefdb" stroke-width=".6" d="M315.7 292.2A125.5 123.5 0 0 1 323.1 300.1L316.7 305.4A117.1 115.3 0 0 0 309.8 298.0Z"/>
<path fill="#d1ebf4" stroke="#d1ebf4" stroke-width=".6" d="M323.1 300.1A125.5 123.5 0 0 1 329.8 308.7L323.0 313.4A117.1 115.3 0 0 0 316.7 305.4Z"/>
<path fill="#669cc8" stroke="#669cc8" stroke-width=".6" d="M329.8 308.7A125.5 123.5 0 0 1 335.7 317.8L328.4 321.9A117.1 115.3 0 0 0 323.0 313.4Z"/>
<path fill="#83b9d8" stroke="#83b9d8" stroke-width=".6" d="M335.7 317.8A125.5 123.5 0 0 1 340.7 327.3L333.2 330.8A117.1 115.3 0 0 0 328.4 321.9Z"/>
<path fill="#8fc3dd" stroke="#8fc3dd" stroke-width=".6" d="M340.7 327.3A125.5 123.5 0 0 1 344.9 337.3L337.1 340.1A117.1 115.3 0 0 0 333.2 330.8Z"/>
<path fill="#a0d0e4" stroke="#a0d0e4" stroke-width=".6" d="M344.9 337.3A125.5 123.5 0 0 1 348.2 347.5L340.1 349.7A117.1 115.3 0 0 0 337.1 340.1Z"/>
<path fill="#6298c6" stroke="#6298c6" stroke-width=".6" d="M348.2 347.5A125.5 123.5 0 0 1 350.6 358.1L342.4 359.5A117.1 115.3 0 0 0 340.1 349.7Z"/>
<path fill="#7db4d5" stroke="#7db4d5" stroke-width=".6" d="M350.6 358.1A125.5 123.5 0 0 1 352.0 368.7L343.7 369.5A117.1 115.3 0 0 0 342.4 359.5Z"/>
<path fill="#a6d5e7" stroke="#a6d5e7" stroke-width=".6" d="M352.0 368.7A125.5 123.5 0 0 1 352.5 379.5L344.1 379.5A117.1 115.3 0 0 0 343.7 369.5Z"/>
<path fill="#a4d3e6" stroke="#a4d3e6" stroke-width=".6" d="M352.5 379.5A125.5 123.5 0 0 1 352.0 390.3L343.7 389.5A117.1 115.3 0 0 0 344.1 379.5Z"/>
<path fill="#9fcfe4" stroke="#9fcfe4" stroke-width=".6" d="M352.0 390.3A125.5 123.5 0 0 1 350.6 400.9L342.4 399.5A117.1 115.3 0 0 0 343.7 389.5Z"/>
<path fill="#71aacf" stroke="#71aacf" stroke-width=".6" d="M350.6 400.9A125.5 123.5 0 0 1 348.2 411.5L340.1 409.3A117.1 115.3 0 0 0 342.4 399.5Z"/>
<path fill="#6399c6" stroke="#6399c6" stroke-width=".6" d="M348.2 411.5A125.5 123.5 0 0 1 344.9 421.7L337.1 418.9A117.1 115.3 0 0 0 340.1 409.3Z"/>
<path fill="#426cb0" stroke="#426cb0" stroke-width=".6" d="M344.9 421.7A125.5 123.5 0 0 1 340.7 431.7L333.2 428.2A117.1 115.3 0 0 0 337.1 418.9Z"/>
<path fill="#4065ac" stroke="#4065ac" stroke-width=".6" d="M340.7 431.7A125.5 123.5 0 0 1 335.7 441.2L328.4 437.1A117.1 115.3 0 0 0 333.2 428.2Z"/>
<path fill="#649ac7" stroke="#649ac7" stroke-width=".6" d="M335.7 441.2A125.5 123.5 0 0 1 329.8 450.3L323.0 445.6A117.1 115.3 0 0 0 328.4 437.1Z"/>
<path fill="#8abfdb" stroke="#8abfdb" stroke-width=".6" d="M329.8 450.3A125.5 123.5 0 0 1 323.1 458.9L316.7 453.6A117.1 115.3 0 0 0 323.0 445.6Z"/>
<path fill="#a5d4e6" stroke="#a5d4e6" stroke-width=".6" d="M323.1 458.9A125.5 123.5 0 0 1 315.7 466.8L309.8 461.0A117.1 115.3 0 0 0 316.7 453.6Z"/>
<path fill="#b0dbea" stroke="#b0dbea" stroke-width=".6" d="M315.7 466.8A125.5 123.5 0 0 1 307.7 474.1L302.3 467.8A117.1 115.3 0 0 0 309.8 461.0Z"/>
<path fill="#7bb3d4" stroke="#7bb3d4" stroke-width=".6" d="M307.7 474.1A125.5 123.5 0 0 1 299.0 480.7L294.2 473.9A117.1 115.3 0 0 0 302.3 467.8Z"/>
<path fill="#4064ac" stroke="#4064ac" stroke-width=".6" d="M299.0 480.7A125.5 123.5 0 0 1 289.8 486.5L285.6 479.3A117.1 115.3 0 0 0 294.2 473.9Z"/>
<path fill="#3b55a4" stroke="#3b55a4" stroke-width=".6" d="M289.8 486.5A125.5 123.5 0 0 1 280.0 491.4L276.5 484.0A117.1 115.3 0 0 0 285.6 479.3Z"/>
<path fill="#b0dbea" stroke="#b0dbea" stroke-width=".6" d="M280.0 491.4A125.5 123.5 0 0 1 269.9 495.6L267.1 487.8A117.1 115.3 0 0 0 276.5 484.0Z"/>
<path fill="#b3ddeb" stroke="#b3ddeb" stroke-width=".6" d="M269.9 495.6A125.5 123.5 0 0 1 259.5 498.8L257.3 490.8A117.1 115.3 0 0 0 267.1 487.8Z"/>
<path fill="#679dc9" stroke="#679dc9" stroke-width=".6" d="M259.5 498.8A125.5 123.5 0 0 1 248.8 501.1L247.3 493.0A117.1 115.3 0 0 0 257.3 490.8Z"/>
<path fill="#77afd2" stroke="#77afd2" stroke-width=".6" d="M248.8 501.1A125.5 123.5 0 0 1 237.9 502.5L237.2 494.3A117.1 115.3 0 0 0 247.3 493.0Z"/>
<path fill="#4065ac" stroke="#4065ac" stroke-width=".6" d="M237.9 502.5A125.5 123.5 0 0 1 227.0 503.0L227.0 494.8A117.1 115.3 0 0 0 237.2 494.3Z"/>
<path fill="#8bbfdb" stroke="#8bbfdb" stroke-width=".6" d="M227.0 503.0A125.5 123.5 0 0 1 216.1 502.5L216.8 494.3A117.1 115.3 0 0 0 227.0 494.8Z"/>
<path fill="#e4f1ed" stroke="#e4f1ed" stroke-width=".6" d="M216.1 502.5A125.5 123.5 0 0 1 205.2 501.1L206.7 493.0A117.1 115.3 0 0 0 216.8 494.3Z"/>
<path fill="#d0ebf4" stroke="#d0ebf4" stroke-width=".6" d="M205.2 501.1A125.5 123.5 0 0 1 194.5 498.8L196.7 490.8A117.1 115.3 0 0 0 206.7 493.0Z"/>
<path fill="#7bb3d4" stroke="#7bb3d4" stroke-width=".6" d="M194.5 498.8A125.5 123.5 0 0 1 184.1 495.6L186.9 487.8A117.1 115.3 0 0 0 196.7 490.8Z"/>
<path fill="#3e5ea8" stroke="#3e5ea8" stroke-width=".6" d="M184.1 495.6A125.5 123.5 0 0 1 174.0 491.4L177.5 484.0A117.1 115.3 0 0 0 186.9 487.8Z"/>
<path fill="#588cc0" stroke="#588cc0" stroke-width=".6" d="M174.0 491.4A125.5 123.5 0 0 1 164.2 486.5L168.4 479.3A117.1 115.3 0 0 0 177.5 484.0Z"/>
<path fill="#bfe3ef" stroke="#bfe3ef" stroke-width=".6" d="M164.2 486.5A125.5 123.5 0 0 1 155.0 480.7L159.8 473.9A117.1 115.3 0 0 0 168.4 479.3Z"/>
<path fill="#d5eef5" stroke="#d5eef5" stroke-width=".6" d="M155.0 480.7A125.5 123.5 0 0 1 146.3 474.1L151.7 467.8A117.1 115.3 0 0 0 159.8 473.9Z"/>
<path fill="#d6eef5" stroke="#d6eef5" stroke-width=".6" d="M146.3 474.1A125.5 123.5 0 0 1 138.3 466.8L144.2 461.0A117.1 115.3 0 0 0 151.7 467.8Z"/>
<path fill="#7fb5d6" stroke="#7fb5d6" stroke-width=".6" d="M138.3 466.8A125.5 123.5 0 0 1 130.9 458.9L137.3 453.6A117.1 115.3 0 0 0 144.2 461.0Z"/>
<path fill="#4066ad" stroke="#4066ad" stroke-width=".6" d="M130.9 458.9A125.5 123.5 0 0 1 124.2 450.3L131.0 445.6A117.1 115.3 0 0 0 137.3 453.6Z"/>
<path fill="#426aaf" stroke="#426aaf" stroke-width=".6" d="M124.2 450.3A125.5 123.5 0 0 1 118.3 441.3L125.6 437.1A117.1 115.3 0 0 0 131.0 445.6Z"/>
<path fill="#4167ad" stroke="#4167ad" stroke-width=".6" d="M118.3 441.3A125.5 123.5 0 0 1 113.3 431.7L120.8 428.2A117.1 115.3 0 0 0 125.6 437.1Z"/>
<path fill="#73acd1" stroke="#73acd1" stroke-width=".6" d="M113.3 431.7A125.5 123.5 0 0 1 109.1 421.7L116.9 418.9A117.1 115.3 0 0 0 120.8 428.2Z"/>
<path fill="#eeeed2" stroke="#eeeed2" stroke-width=".6" d="M109.1 421.7A125.5 123.5 0 0 1 105.8 411.5L113.9 409.3A117.1 115.3 0 0 0 116.9 418.9Z"/>
<path fill="#f4eabf" stroke="#f4eabf" stroke-width=".6" d="M105.8 411.5A125.5 123.5 0 0 1 103.4 400.9L111.6 399.5A117.1 115.3 0 0 0 113.9 409.3Z"/>
<path fill="#6da5cd" stroke="#6da5cd" stroke-width=".6" d="M103.4 400.9A125.5 123.5 0 0 1 102.0 390.3L110.3 389.5A117.1 115.3 0 0 0 111.6 399.5Z"/>
<path fill="#5487bd" stroke="#5487bd" stroke-width=".6" d="M102.0 390.3A125.5 123.5 0 0 1 101.5 379.5L109.9 379.5A117.1 115.3 0 0 0 110.3 389.5Z"/>
<path fill="#72abd0" stroke="#72abd0" stroke-width=".6" d="M101.5 379.5A125.5 123.5 0 0 1 102.0 368.7L110.3 369.5A117.1 115.3 0 0 0 109.9 379.5Z"/>
<path fill="#4878b6" stroke="#4878b6" stroke-width=".6" d="M102.0 368.7A125.5 123.5 0 0 1 103.4 358.1L111.6 359.5A117.1 115.3 0 0 0 110.3 369.5Z"/>
<path fill="#c8e7f1" stroke="#c8e7f1" stroke-width=".6" d="M103.4 358.1A125.5 123.5 0 0 1 105.8 347.5L113.9 349.7A117.1 115.3 0 0 0 111.6 359.5Z"/>
<path fill="#fde197" stroke="#fde197" stroke-width=".6" d="M105.8 347.5A125.5 123.5 0 0 1 109.1 337.3L116.9 340.1A117.1 115.3 0 0 0 113.9 349.7Z"/>
<path fill="#f0edce" stroke="#f0edce" stroke-width=".6" d="M109.1 337.3A125.5 123.5 0 0 1 113.3 327.3L120.8 330.8A117.1 115.3 0 0 0 116.9 340.1Z"/>
<path fill="#679dc9" stroke="#679dc9" stroke-width=".6" d="M113.3 327.3A125.5 123.5 0 0 1 118.3 317.8L125.6 321.9A117.1 115.3 0 0 0 120.8 330.8Z"/>
<path fill="#4472b2" stroke="#4472b2" stroke-width=".6" d="M118.3 317.8A125.5 123.5 0 0 1 124.2 308.7L131.0 313.4A117.1 115.3 0 0 0 125.6 321.9Z"/>
<path fill="#3c58a6" stroke="#3c58a6" stroke-width=".6" d="M124.2 308.7A125.5 123.5 0 0 1 130.9 300.1L137.3 305.4A117.1 115.3 0 0 0 131.0 313.4Z"/>
<path fill="#a5d4e6" stroke="#a5d4e6" stroke-width=".6" d="M130.9 300.1A125.5 123.5 0 0 1 138.3 292.2L144.2 298.0A117.1 115.3 0 0 0 137.3 305.4Z"/>
<path fill="#c0e3ef" stroke="#c0e3ef" stroke-width=".6" d="M138.3 292.2A125.5 123.5 0 0 1 146.3 284.9L151.7 291.2A117.1 115.3 0 0 0 144.2 298.0Z"/>
<path fill="#6399c7" stroke="#6399c7" stroke-width=".6" d="M146.3 284.9A125.5 123.5 0 0 1 155.0 278.3L159.8 285.1A117.1 115.3 0 0 0 151.7 291.2Z"/>
<path fill="#89beda" stroke="#89beda" stroke-width=".6" d="M155.0 278.3A125.5 123.5 0 0 1 164.2 272.5L168.4 279.7A117.1 115.3 0 0 0 159.8 285.1Z"/>
<path fill="#bce2ee" stroke="#bce2ee" stroke-width=".6" d="M164.2 272.5A125.5 123.5 0 0 1 174.0 267.6L177.5 275.0A117.1 115.3 0 0 0 168.4 279.7Z"/>
<path fill="#679ec9" stroke="#679ec9" stroke-width=".6" d="M174.0 267.6A125.5 123.5 0 0 1 184.1 263.4L186.9 271.2A117.1 115.3 0 0 0 177.5 275.0Z"/>
<path fill="#659bc8" stroke="#659bc8" stroke-width=".6" d="M184.1 263.4A125.5 123.5 0 0 1 194.5 260.2L196.7 268.2A117.1 115.3 0 0 0 186.9 271.2Z"/>
<path fill="#88bdda" stroke="#88bdda" stroke-width=".6" d="M194.5 260.2A125.5 123.5 0 0 1 205.2 257.9L206.7 266.0A117.1 115.3 0 0 0 196.7 268.2Z"/>
<path fill="#5183bb" stroke="#5183bb" stroke-width=".6" d="M205.2 257.9A125.5 123.5 0 0 1 216.1 256.5L216.8 264.7A117.1 115.3 0 0 0 206.7 266.0Z"/>
<path fill="#4878b6" stroke="#4878b6" stroke-width=".6" d="M216.1 256.5A125.5 123.5 0 0 1 227.0 256.0L227.0 264.2A117.1 115.3 0 0 0 216.8 264.7Z"/>
<path fill="#99cbe1" stroke="#99cbe1" stroke-width=".6" d="M227.0 247.8A133.9 131.7 0 0 1 238.7 248.3L237.9 256.5A125.5 123.5 0 0 0 227.0 256.0Z"/>
<path fill="#b0dbea" stroke="#b0dbea" stroke-width=".6" d="M238.7 248.3A133.9 131.7 0 0 1 250.2 249.8L248.8 257.9A125.5 123.5 0 0 0 237.9 256.5Z"/>
<path fill="#a7d6e7" stroke="#a7d6e7" stroke-width=".6" d="M250.2 249.8A133.9 131.7 0 0 1 261.6 252.3L259.5 260.2A125.5 123.5 0 0 0 248.8 257.9Z"/>
<path fill="#416aae" stroke="#416aae" stroke-width=".6" d="M261.6 252.3A133.9 131.7 0 0 1 272.8 255.7L269.9 263.4A125.5 123.5 0 0 0 259.5 260.2Z"/>
<path fill="#37499e" stroke="#37499e" stroke-width=".6" d="M272.8 255.7A133.9 131.7 0 0 1 283.6 260.1L280.0 267.6A125.5 123.5 0 0 0 269.9 263.4Z"/>
<path fill="#4066ac" stroke="#4066ac" stroke-width=".6" d="M283.6 260.1A133.9 131.7 0 0 1 293.9 265.4L289.8 272.5A125.5 123.5 0 0 0 280.0 267.6Z"/>
<path fill="#6ca4cc" stroke="#6ca4cc" stroke-width=".6" d="M293.9 265.4A133.9 131.7 0 0 1 303.8 271.6L299.0 278.3A125.5 123.5 0 0 0 289.8 272.5Z"/>
<path fill="#76aed2" stroke="#76aed2" stroke-width=".6" d="M303.8 271.6A133.9 131.7 0 0 1 313.0 278.6L307.7 284.9A125.5 123.5 0 0 0 299.0 278.3Z"/>
<path fill="#a4d3e6" stroke="#a4d3e6" stroke-width=".6" d="M313.0 278.6A133.9 131.7 0 0 1 321.7 286.4L315.7 292.2A125.5 123.5 0 0 0 307.7 284.9Z"/>
<path fill="#dcf1f7" stroke="#dcf1f7" stroke-width=".6" d="M321.7 286.4A133.9 131.7 0 0 1 329.5 294.8L323.1 300.1A125.5 123.5 0 0 0 315.7 292.2Z"/>
<path fill="#c9e8f1" stroke="#c9e8f1" stroke-width=".6" d="M329.5 294.8A133.9 131.7 0 0 1 336.7 303.9L329.8 308.7A125.5 123.5 0 0 0 323.1 300.1Z"/>
<path fill="#78b0d3" stroke="#78b0d3" stroke-width=".6" d="M336.7 303.9A133.9 131.7 0 0 1 342.9 313.6L335.7 317.8A125.5 123.5 0 0 0 329.8 308.7Z"/>
<path fill="#74add1" stroke="#74add1" stroke-width=".6" d="M342.9 313.6A133.9 131.7 0 0 1 348.3 323.8L340.7 327.3A125.5 123.5 0 0 0 335.7 317.8Z"/>
<path fill="#87bcd9" stroke="#87bcd9" stroke-width=".6" d="M348.3 323.8A133.9 131.7 0 0 1 352.8 334.4L344.9 337.3A125.5 123.5 0 0 0 340.7 327.3Z"/>
<path fill="#6ba2cb" stroke="#6ba2cb" stroke-width=".6" d="M352.8 334.4A133.9 131.7 0 0 1 356.3 345.4L348.2 347.5A125.5 123.5 0 0 0 344.9 337.3Z"/>
<path fill="#6ea6cd" stroke="#6ea6cd" stroke-width=".6" d="M356.3 345.4A133.9 131.7 0 0 1 358.8 356.6L350.6 358.1A125.5 123.5 0 0 0 348.2 347.5Z"/>
<path fill="#7bb3d4" stroke="#7bb3d4" stroke-width=".6" d="M358.8 356.6A133.9 131.7 0 0 1 360.4 368.0L352.0 368.7A125.5 123.5 0 0 0 350.6 358.1Z"/>
<path fill="#99cae1" stroke="#99cae1" stroke-width=".6" d="M360.4 368.0A133.9 131.7 0 0 1 360.9 379.5L352.5 379.5A125.5 123.5 0 0 0 352.0 368.7Z"/>
<path fill="#b5deec" stroke="#b5deec" stroke-width=".6" d="M360.9 379.5A133.9 131.7 0 0 1 360.4 391.0L352.0 390.3A125.5 123.5 0 0 0 352.5 379.5Z"/>
<path fill="#79b1d3" stroke="#79b1d3" stroke-width=".6" d="M360.4 391.0A133.9 131.7 0 0 1 358.8 402.4L350.6 400.9A125.5 123.5 0 0 0 352.0 390.3Z"/>
<path fill="#5b90c2" stroke="#5b90c2" stroke-width=".6" d="M358.8 402.4A133.9 131.7 0 0 1 356.3 413.6L348.2 411.5A125.5 123.5 0 0 0 350.6 400.9Z"/>
<path fill="#578bbf" stroke="#578bbf" stroke-width=".6" d="M356.3 413.6A133.9 131.7 0 0 1 352.8 424.6L344.9 421.7A125.5 123.5 0 0 0 348.2 411.5Z"/>
<path fill="#436fb1" stroke="#436fb1" stroke-width=".6" d="M352.8 424.6A133.9 131.7 0 0 1 348.3 435.2L340.7 431.7A125.5 123.5 0 0 0 344.9 421.7Z"/>
<path fill="#3c57a5" stroke="#3c57a5" stroke-width=".6" d="M348.3 435.2A133.9 131.7 0 0 1 342.9 445.4L335.7 441.2A125.5 123.5 0 0 0 340.7 431.7Z"/>
<path fill="#679dc9" stroke="#679dc9" stroke-width=".6" d="M342.9 445.4A133.9 131.7 0 0 1 336.7 455.1L329.8 450.3A125.5 123.5 0 0 0 335.7 441.2Z"/>
<path fill="#85bad8" stroke="#85bad8" stroke-width=".6" d="M336.7 455.1A133.9 131.7 0 0 1 329.5 464.2L323.1 458.9A125.5 123.5 0 0 0 329.8 450.3Z"/>
<path fill="#bbe1ee" stroke="#bbe1ee" stroke-width=".6" d="M329.5 464.2A133.9 131.7 0 0 1 321.7 472.6L315.7 466.8A125.5 123.5 0 0 0 323.1 458.9Z"/>
<path fill="#93c6df" stroke="#93c6df" stroke-width=".6" d="M321.7 472.6A133.9 131.7 0 0 1 313.0 480.4L307.7 474.1A125.5 123.5 0 0 0 315.7 466.8Z"/>
<path fill="#7eb5d5" stroke="#7eb5d5" stroke-width=".6" d="M313.0 480.4A133.9 131.7 0 0 1 303.8 487.4L299.0 480.7A125.5 123.5 0 0 0 307.7 474.1Z"/>
<path fill="#4979b6" stroke="#4979b6" stroke-width=".6" d="M303.8 487.4A133.9 131.7 0 0 1 293.9 493.6L289.8 486.5A125.5 123.5 0 0 0 299.0 480.7Z"/>
<path fill="#4169ae" stroke="#4169ae" stroke-width=".6" d="M293.9 493.6A133.9 131.7 0 0 1 283.6 498.9L280.0 491.4A125.5 123.5 0 0 0 289.8 486.5Z"/>
<path fill="#daf0f6" stroke="#daf0f6" stroke-width=".6" d="M283.6 498.9A133.9 131.7 0 0 1 272.8 503.3L269.9 495.6A125.5 123.5 0 0 0 280.0 491.4Z"/>
<path fill="#c5e6f0" stroke="#c5e6f0" stroke-width=".6" d="M272.8 503.3A133.9 131.7 0 0 1 261.6 506.7L259.5 498.8A125.5 123.5 0 0 0 269.9 495.6Z"/>
<path fill="#689ec9" stroke="#689ec9" stroke-width=".6" d="M261.6 506.7A133.9 131.7 0 0 1 250.2 509.2L248.8 501.1A125.5 123.5 0 0 0 259.5 498.8Z"/>
<path fill="#7fb6d6" stroke="#7fb6d6" stroke-width=".6" d="M250.2 509.2A133.9 131.7 0 0 1 238.7 510.7L237.9 502.5A125.5 123.5 0 0 0 248.8 501.1Z"/>
<path fill="#3d5ba7" stroke="#3d5ba7" stroke-width=".6" d="M238.7 510.7A133.9 131.7 0 0 1 227.0 511.2L227.0 503.0A125.5 123.5 0 0 0 237.9 502.5Z"/>
<path fill="#cfebf3" stroke="#cfebf3" stroke-width=".6" d="M227.0 511.2A133.9 131.7 0 0 1 215.3 510.7L216.1 502.5A125.5 123.5 0 0 0 227.0 503.0Z"/>
<path fill="#e8f0e3" stroke="#e8f0e3" stroke-width=".6" d="M215.3 510.7A133.9 131.7 0 0 1 203.8 509.2L205.2 501.1A125.5 123.5 0 0 0 216.1 502.5Z"/>
<path fill="#def2f7" stroke="#def2f7" stroke-width=".6" d="M203.8 509.2A133.9 131.7 0 0 1 192.4 506.7L194.5 498.8A125.5 123.5 0 0 0 205.2 501.1Z"/>
<path fill="#82b8d7" stroke="#82b8d7" stroke-width=".6" d="M192.4 506.7A133.9 131.7 0 0 1 181.2 503.3L184.1 495.6A125.5 123.5 0 0 0 194.5 498.8Z"/>
<path fill="#4370b2" stroke="#4370b2" stroke-width=".6" d="M181.2 503.3A133.9 131.7 0 0 1 170.4 498.9L174.0 491.4A125.5 123.5 0 0 0 184.1 495.6Z"/>
<path fill="#4777b5" stroke="#4777b5" stroke-width=".6" d="M170.4 498.9A133.9 131.7 0 0 1 160.1 493.6L164.2 486.5A125.5 123.5 0 0 0 174.0 491.4Z"/>
<path fill="#91c4de" stroke="#91c4de" stroke-width=".6" d="M160.1 493.6A133.9 131.7 0 0 1 150.2 487.4L155.0 480.7A125.5 123.5 0 0 0 164.2 486.5Z"/>
<path fill="#b5deec" stroke="#b5deec" stroke-width=".6" d="M150.2 487.4A133.9 131.7 0 0 1 141.0 480.4L146.3 474.1A125.5 123.5 0 0 0 155.0 480.7Z"/>
<path fill="#a2d2e5" stroke="#a2d2e5" stroke-width=".6" d="M141.0 480.4A133.9 131.7 0 0 1 132.3 472.6L138.3 466.8A125.5 123.5 0 0 0 146.3 474.1Z"/>
<path fill="#6297c6" stroke="#6297c6" stroke-width=".6" d="M132.3 472.6A133.9 131.7 0 0 1 124.5 464.2L130.9 458.9A125.5 123.5 0 0 0 138.3 466.8Z"/>
<path fill="#436eb1" stroke="#436eb1" stroke-width=".6" d="M124.5 464.2A133.9 131.7 0 0 1 117.3 455.1L124.2 450.3A125.5 123.5 0 0 0 130.9 458.9Z"/>
<path fill="#3f63ab" stroke="#3f63ab" stroke-width=".6" d="M117.3 455.1A133.9 131.7 0 0 1 111.1 445.4L118.3 441.3A125.5 123.5 0 0 0 124.2 450.3Z"/>
<path fill="#394fa1" stroke="#394fa1" stroke-width=".6" d="M111.1 445.4A133.9 131.7 0 0 1 105.7 435.2L113.3 431.7A125.5 123.5 0 0 0 118.3 441.3Z"/>
<path fill="#5e93c3" stroke="#5e93c3" stroke-width=".6" d="M105.7 435.2A133.9 131.7 0 0 1 101.2 424.6L109.1 421.7A125.5 123.5 0 0 0 113.3 431.7Z"/>
<path fill="#b6deec" stroke="#b6deec" stroke-width=".6" d="M101.2 424.6A133.9 131.7 0 0 1 97.7 413.6L105.8 411.5A125.5 123.5 0 0 0 109.1 421.7Z"/>
<path fill="#acdae9" stroke="#acdae9" stroke-width=".6" d="M97.7 413.6A133.9 131.7 0 0 1 95.2 402.4L103.4 400.9A125.5 123.5 0 0 0 105.8 411.5Z"/>
<path fill="#384b9f" stroke="#384b9f" stroke-width=".6" d="M95.2 402.4A133.9 131.7 0 0 1 93.6 391.0L102.0 390.3A125.5 123.5 0 0 0 103.4 400.9Z"/>
<path fill="#5f94c4" stroke="#5f94c4" stroke-width=".6" d="M93.6 391.0A133.9 131.7 0 0 1 93.1 379.5L101.5 379.5A125.5 123.5 0 0 0 102.0 390.3Z"/>
<path fill="#6ba2cb" stroke="#6ba2cb" stroke-width=".6" d="M93.1 379.5A133.9 131.7 0 0 1 93.6 368.0L102.0 368.7A125.5 123.5 0 0 0 101.5 379.5Z"/>
<path fill="#426baf" stroke="#426baf" stroke-width=".6" d="M93.6 368.0A133.9 131.7 0 0 1 95.2 356.6L103.4 358.1A125.5 123.5 0 0 0 102.0 368.7Z"/>
<path fill="#b4ddeb" stroke="#b4ddeb" stroke-width=".6" d="M95.2 356.6A133.9 131.7 0 0 1 97.7 345.4L105.8 347.5A125.5 123.5 0 0 0 103.4 358.1Z"/>
<path fill="#f1eccb" stroke="#f1eccb" stroke-width=".6" d="M97.7 345.4A133.9 131.7 0 0 1 101.2 334.4L109.1 337.3A125.5 123.5 0 0 0 105.8 347.5Z"/>
<path fill="#e3f2ef" stroke="#e3f2ef" stroke-width=".6" d="M101.2 334.4A133.9 131.7 0 0 1 105.7 323.8L113.3 327.3A125.5 123.5 0 0 0 109.1 337.3Z"/>
<path fill="#72aad0" stroke="#72aad0" stroke-width=".6" d="M105.7 323.8A133.9 131.7 0 0 1 111.1 313.6L118.3 317.8A125.5 123.5 0 0 0 113.3 327.3Z"/>
<path fill="#436eb1" stroke="#436eb1" stroke-width=".6" d="M111.1 313.6A133.9 131.7 0 0 1 117.3 303.9L124.2 308.7A125.5 123.5 0 0 0 118.3 317.8Z"/>
<path fill="#4065ac" stroke="#4065ac" stroke-width=".6" d="M117.3 303.9A133.9 131.7 0 0 1 124.5 294.8L130.9 300.1A125.5 123.5 0 0 0 124.2 308.7Z"/>
<path fill="#c8e7f1" stroke="#c8e7f1" stroke-width=".6" d="M124.5 294.8A133.9 131.7 0 0 1 132.3 286.4L138.3 292.2A125.5 123.5 0 0 0 130.9 300.1Z"/>
<path fill="#e4f1ee" stroke="#e4f1ee" stroke-width=".6" d="M132.3 286.4A133.9 131.7 0 0 1 141.0 278.6L146.3 284.9A125.5 123.5 0 0 0 138.3 292.2Z"/>
<path fill="#6fa7ce" stroke="#6fa7ce" stroke-width=".6" d="M141.0 278.6A133.9 131.7 0 0 1 150.2 271.6L155.0 278.3A125.5 123.5 0 0 0 146.3 284.9Z"/>
<path fill="#79b1d3" stroke="#79b1d3" stroke-width=".6" d="M150.2 271.6A133.9 131.7 0 0 1 160.1 265.4L164.2 272.5A125.5 123.5 0 0 0 155.0 278.3Z"/>
<path fill="#a4d3e6" stroke="#a4d3e6" stroke-width=".6" d="M160.1 265.4A133.9 131.7 0 0 1 170.4 260.1L174.0 267.6A125.5 123.5 0 0 0 164.2 272.5Z"/>
<path fill="#5082bb" stroke="#5082bb" stroke-width=".6" d="M170.4 260.1A133.9 131.7 0 0 1 181.2 255.7L184.1 263.4A125.5 123.5 0 0 0 174.0 267.6Z"/>
<path fill="#6095c4" stroke="#6095c4" stroke-width=".6" d="M181.2 255.7A133.9 131.7 0 0 1 192.4 252.3L194.5 260.2A125.5 123.5 0 0 0 184.1 263.4Z"/>
<path fill="#99cbe1" stroke="#99cbe1" stroke-width=".6" d="M192.4 252.3A133.9 131.7 0 0 1 203.8 249.8L205.2 257.9A125.5 123.5 0 0 0 194.5 260.2Z"/>
<path fill="#4a7bb7" stroke="#4a7bb7" stroke-width=".6" d="M203.8 249.8A133.9 131.7 0 0 1 215.3 248.3L216.1 256.5A125.5 123.5 0 0 0 205.2 257.9Z"/>
<path fill="#6196c5" stroke="#6196c5" stroke-width=".6" d="M215.3 248.3A133.9 131.7 0 0 1 227.0 247.8L227.0 256.0A125.5 123.5 0 0 0 216.1 256.5Z"/>
<path fill="#89beda" stroke="#89beda" stroke-width=".6" d="M227.0 239.5A142.2 140.0 0 0 1 239.4 240.1L238.7 248.3A133.9 131.7 0 0 0 227.0 247.8Z"/>
<path fill="#b0dbea" stroke="#b0dbea" stroke-width=".6" d="M239.4 240.1A142.2 140.0 0 0 1 251.7 241.7L250.2 249.8A133.9 131.7 0 0 0 238.7 248.3Z"/>
<path fill="#a3d3e6" stroke="#a3d3e6" stroke-width=".6" d="M251.7 241.7A142.2 140.0 0 0 1 263.8 244.3L261.6 252.3A133.9 131.7 0 0 0 250.2 249.8Z"/>
<path fill="#4472b2" stroke="#4472b2" stroke-width=".6" d="M263.8 244.3A142.2 140.0 0 0 1 275.6 248.0L272.8 255.7A133.9 131.7 0 0 0 261.6 252.3Z"/>
<path fill="#4169ae" stroke="#4169ae" stroke-width=".6" d="M275.6 248.0A142.2 140.0 0 0 1 287.1 252.6L283.6 260.1A133.9 131.7 0 0 0 272.8 255.7Z"/>
<path fill="#4471b2" stroke="#4471b2" stroke-width=".6" d="M287.1 252.6A142.2 140.0 0 0 1 298.1 258.3L293.9 265.4A133.9 131.7 0 0 0 283.6 260.1Z"/>
<path fill="#77afd2" stroke="#77afd2" stroke-width=".6" d="M298.1 258.3A142.2 140.0 0 0 1 308.6 264.8L303.8 271.6A133.9 131.7 0 0 0 293.9 265.4Z"/>
<path fill="#7ab2d4" stroke="#7ab2d4" stroke-width=".6" d="M308.6 264.8A142.2 140.0 0 0 1 318.4 272.3L313.0 278.6A133.9 131.7 0 0 0 303.8 271.6Z"/>
<path fill="#a2d2e5" stroke="#a2d2e5" stroke-width=".6" d="M318.4 272.3A142.2 140.0 0 0 1 327.6 280.5L321.7 286.4A133.9 131.7 0 0 0 313.0 278.6Z"/>
<path fill="#e1f3f5" stroke="#e1f3f5" stroke-width=".6" d="M327.6 280.5A142.2 140.0 0 0 1 336.0 289.5L329.5 294.8A133.9 131.7 0 0 0 321.7 286.4Z"/>
<path fill="#c0e3ef" stroke="#c0e3ef" stroke-width=".6" d="M336.0 289.5A142.2 140.0 0 0 1 343.5 299.2L336.7 303.9A133.9 131.7 0 0 0 329.5 294.8Z"/>
<path fill="#7fb6d6" stroke="#7fb6d6" stroke-width=".6" d="M343.5 299.2A142.2 140.0 0 0 1 350.2 309.5L342.9 313.6A133.9 131.7 0 0 0 336.7 303.9Z"/>
<path fill="#80b6d6" stroke="#80b6d6" stroke-width=".6" d="M350.2 309.5A142.2 140.0 0 0 1 355.9 320.3L348.3 323.8A133.9 131.7 0 0 0 342.9 313.6Z"/>
<path fill="#7db4d5" stroke="#7db4d5" stroke-width=".6" d="M355.9 320.3A142.2 140.0 0 0 1 360.7 331.6L352.8 334.4A133.9 131.7 0 0 0 348.3 323.8Z"/>
<path fill="#6ea5cd" stroke="#6ea5cd" stroke-width=".6" d="M360.7 331.6A142.2 140.0 0 0 1 364.4 343.3L356.3 345.4A133.9 131.7 0 0 0 352.8 334.4Z"/>
<path fill="#79b1d3" stroke="#79b1d3" stroke-width=".6" d="M364.4 343.3A142.2 140.0 0 0 1 367.1 355.2L358.8 356.6A133.9 131.7 0 0 0 356.3 345.4Z"/>
<path fill="#74add1" stroke="#74add1" stroke-width=".6" d="M367.1 355.2A142.2 140.0 0 0 1 368.7 367.3L360.4 368.0A133.9 131.7 0 0 0 358.8 356.6Z"/>
<path fill="#9fd0e4" stroke="#9fd0e4" stroke-width=".6" d="M368.7 367.3A142.2 140.0 0 0 1 369.2 379.5L360.9 379.5A133.9 131.7 0 0 0 360.4 368.0Z"/>
<path fill="#acd9e9" stroke="#acd9e9" stroke-width=".6" d="M369.2 379.5A142.2 140.0 0 0 1 368.7 391.7L360.4 391.0A133.9 131.7 0 0 0 360.9 379.5Z"/>
<path fill="#89bdda" stroke="#89bdda" stroke-width=".6" d="M368.7 391.7A142.2 140.0 0 0 1 367.1 403.8L358.8 402.4A133.9 131.7 0 0 0 360.4 391.0Z"/>
<path fill="#6ba2cb" stroke="#6ba2cb" stroke-width=".6" d="M367.1 403.8A142.2 140.0 0 0 1 364.4 415.7L356.3 413.6A133.9 131.7 0 0 0 358.8 402.4Z"/>
<path fill="#5386bd" stroke="#5386bd" stroke-width=".6" d="M364.4 415.7A142.2 140.0 0 0 1 360.7 427.4L352.8 424.6A133.9 131.7 0 0 0 356.3 413.6Z"/>
<path fill="#3e5fa9" stroke="#3e5fa9" stroke-width=".6" d="M360.7 427.4A142.2 140.0 0 0 1 355.9 438.7L348.3 435.2A133.9 131.7 0 0 0 352.8 424.6Z"/>
<path fill="#426caf" stroke="#426caf" stroke-width=".6" d="M355.9 438.7A142.2 140.0 0 0 1 350.2 449.5L342.9 445.4A133.9 131.7 0 0 0 348.3 435.2Z"/>
<path fill="#6ba2cc" stroke="#6ba2cc" stroke-width=".6" d="M350.2 449.5A142.2 140.0 0 0 1 343.5 459.8L336.7 455.1A133.9 131.7 0 0 0 342.9 445.4Z"/>
<path fill="#98c9e1" stroke="#98c9e1" stroke-width=".6" d="M343.5 459.8A142.2 140.0 0 0 1 336.0 469.5L329.5 464.2A133.9 131.7 0 0 0 336.7 455.1Z"/>
<path fill="#addae9" stroke="#addae9" stroke-width=".6" d="M336.0 469.5A142.2 140.0 0 0 1 327.6 478.5L321.7 472.6A133.9 131.7 0 0 0 329.5 464.2Z"/>
<path fill="#94c7df" stroke="#94c7df" stroke-width=".6" d="M327.6 478.5A142.2 140.0 0 0 1 318.4 486.7L313.0 480.4A133.9 131.7 0 0 0 321.7 472.6Z"/>
<path fill="#7bb3d4" stroke="#7bb3d4" stroke-width=".6" d="M318.4 486.7A142.2 140.0 0 0 1 308.6 494.2L303.8 487.4A133.9 131.7 0 0 0 313.0 480.4Z"/>
<path fill="#4d7fb9" stroke="#4d7fb9" stroke-width=".6" d="M308.6 494.2A142.2 140.0 0 0 1 298.1 500.7L293.9 493.6A133.9 131.7 0 0 0 303.8 487.4Z"/>
<path fill="#436fb1" stroke="#436fb1" stroke-width=".6" d="M298.1 500.7A142.2 140.0 0 0 1 287.1 506.4L283.6 498.9A133.9 131.7 0 0 0 293.9 493.6Z"/>
<path fill="#d7eff6" stroke="#d7eff6" stroke-width=".6" d="M287.1 506.4A142.2 140.0 0 0 1 275.6 511.0L272.8 503.3A133.9 131.7 0 0 0 283.6 498.9Z"/>
<path fill="#c5e6f0" stroke="#c5e6f0" stroke-width=".6" d="M275.6 511.0A142.2 140.0 0 0 1 263.8 514.7L261.6 506.7A133.9 131.7 0 0 0 272.8 503.3Z"/>
<path fill="#6aa1cb" stroke="#6aa1cb" stroke-width=".6" d="M263.8 514.7A142.2 140.0 0 0 1 251.7 517.3L250.2 509.2A133.9 131.7 0 0 0 261.6 506.7Z"/>
<path fill="#6ba2cb" stroke="#6ba2cb" stroke-width=".6" d="M251.7 517.3A142.2 140.0 0 0 1 239.4 518.9L238.7 510.7A133.9 131.7 0 0 0 250.2 509.2Z"/>
<path fill="#3f62ab" stroke="#3f62ab" stroke-width=".6" d="M239.4 518.9A142.2 140.0 0 0 1 227.0 519.5L227.0 511.2A133.9 131.7 0 0 0 238.7 510.7Z"/>
<path fill="#bae1ed" stroke="#bae1ed" stroke-width=".6" d="M227.0 519.5A142.2 140.0 0 0 1 214.6 518.9L215.3 510.7A133.9 131.7 0 0 0 227.0 511.2Z"/>
<path fill="#e9f0e1" stroke="#e9f0e1" stroke-width=".6" d="M214.6 518.9A142.2 140.0 0 0 1 202.3 517.3L203.8 509.2A133.9 131.7 0 0 0 215.3 510.7Z"/>
<path fill="#e0f3f7" stroke="#e0f3f7" stroke-width=".6" d="M202.3 517.3A142.2 140.0 0 0 1 190.2 514.7L192.4 506.7A133.9 131.7 0 0 0 203.8 509.2Z"/>
<path fill="#7cb3d5" stroke="#7cb3d5" stroke-width=".6" d="M190.2 514.7A142.2 140.0 0 0 1 178.4 511.0L181.2 503.3A133.9 131.7 0 0 0 192.4 506.7Z"/>
<path fill="#4370b1" stroke="#4370b1" stroke-width=".6" d="M178.4 511.0A142.2 140.0 0 0 1 166.9 506.4L170.4 498.9A133.9 131.7 0 0 0 181.2 503.3Z"/>
<path fill="#5589be" stroke="#5589be" stroke-width=".6" d="M166.9 506.4A142.2 140.0 0 0 1 155.9 500.7L160.1 493.6A133.9 131.7 0 0 0 170.4 498.9Z"/>
<path fill="#96c8e0" stroke="#96c8e0" stroke-width=".6" d="M155.9 500.7A142.2 140.0 0 0 1 145.4 494.2L150.2 487.4A133.9 131.7 0 0 0 160.1 493.6Z"/>
<path fill="#aedaea" stroke="#aedaea" stroke-width=".6" d="M145.4 494.2A142.2 140.0 0 0 1 135.6 486.7L141.0 480.4A133.9 131.7 0 0 0 150.2 487.4Z"/>
<path fill="#96c8e0" stroke="#96c8e0" stroke-width=".6" d="M135.6 486.7A142.2 140.0 0 0 1 126.4 478.5L132.3 472.6A133.9 131.7 0 0 0 141.0 480.4Z"/>
<path fill="#5e93c4" stroke="#5e93c4" stroke-width=".6" d="M126.4 478.5A142.2 140.0 0 0 1 118.0 469.5L124.5 464.2A133.9 131.7 0 0 0 132.3 472.6Z"/>
<path fill="#436db0" stroke="#436db0" stroke-width=".6" d="M118.0 469.5A142.2 140.0 0 0 1 110.5 459.8L117.3 455.1A133.9 131.7 0 0 0 124.5 464.2Z"/>
<path fill="#4066ad" stroke="#4066ad" stroke-width=".6" d="M110.5 459.8A142.2 140.0 0 0 1 103.8 449.5L111.1 445.4A133.9 131.7 0 0 0 117.3 455.1Z"/>
<path fill="#3a51a2" stroke="#3a51a2" stroke-width=".6" d="M103.8 449.5A142.2 140.0 0 0 1 98.1 438.7L105.7 435.2A133.9 131.7 0 0 0 111.1 445.4Z"/>
<path fill="#669cc8" stroke="#669cc8" stroke-width=".6" d="M98.1 438.7A142.2 140.0 0 0 1 93.3 427.4L101.2 424.6A133.9 131.7 0 0 0 105.7 435.2Z"/>
<path fill="#afdbea" stroke="#afdbea" stroke-width=".6" d="M93.3 427.4A142.2 140.0 0 0 1 89.6 415.7L97.7 413.6A133.9 131.7 0 0 0 101.2 424.6Z"/>
<path fill="#bde2ee" stroke="#bde2ee" stroke-width=".6" d="M89.6 415.7A142.2 140.0 0 0 1 86.9 403.8L95.2 402.4A133.9 131.7 0 0 0 97.7 413.6Z"/>
<path fill="#37489e" stroke="#37489e" stroke-width=".6" d="M86.9 403.8A142.2 140.0 0 0 1 85.3 391.7L93.6 391.0A133.9 131.7 0 0 0 95.2 402.4Z"/>
<path fill="#6ea6cd" stroke="#6ea6cd" stroke-width=".6" d="M85.3 391.7A142.2 140.0 0 0 1 84.8 379.5L93.1 379.5A133.9 131.7 0 0 0 93.6 391.0Z"/>
<path fill="#6da4cc" stroke="#6da4cc" stroke-width=".6" d="M84.8 379.5A142.2 140.0 0 0 1 85.3 367.3L93.6 368.0A133.9 131.7 0 0 0 93.1 379.5Z"/>
<path fill="#3c57a5" stroke="#3c57a5" stroke-width=".6" d="M85.3 367.3A142.2 140.0 0 0 1 86.9 355.2L95.2 356.6A133.9 131.7 0 0 0 93.6 368.0Z"/>
<path fill="#bee2ee" stroke="#bee2ee" stroke-width=".6" d="M86.9 355.2A142.2 140.0 0 0 1 89.6 343.3L97.7 345.4A133.9 131.7 0 0 0 95.2 356.6Z"/>
<path fill="#f2ecc6" stroke="#f2ecc6" stroke-width=".6" d="M89.6 343.3A142.2 140.0 0 0 1 93.3 331.6L101.2 334.4A133.9 131.7 0 0 0 97.7 345.4Z"/>
<path fill="#e6f1e9" stroke="#e6f1e9" stroke-width=".6" d="M93.3 331.6A142.2 140.0 0 0 1 98.1 320.3L105.7 323.8A133.9 131.7 0 0 0 101.2 334.4Z"/>
<path fill="#6ea6cd" stroke="#6ea6cd" stroke-width=".6" d="M98.1 320.3A142.2 140.0 0 0 1 103.8 309.5L111.1 313.6A133.9 131.7 0 0 0 105.7 323.8Z"/>
<path fill="#4472b2" stroke="#4472b2" stroke-width=".6" d="M103.8 309.5A142.2 140.0 0 0 1 110.5 299.2L117.3 303.9A133.9 131.7 0 0 0 111.1 313.6Z"/>
<path fill="#3d5da8" stroke="#3d5da8" stroke-width=".6" d="M110.5 299.2A142.2 140.0 0 0 1 118.0 289.5L124.5 294.8A133.9 131.7 0 0 0 117.3 303.9Z"/>
<path fill="#cfebf3" stroke="#cfebf3" stroke-width=".6" d="M118.0 289.5A142.2 140.0 0 0 1 126.4 280.5L132.3 286.4A133.9 131.7 0 0 0 124.5 294.8Z"/>
<path fill="#e5f1ea" stroke="#e5f1ea" stroke-width=".6" d="M126.4 280.5A142.2 140.0 0 0 1 135.6 272.3L141.0 278.6A133.9 131.7 0 0 0 132.3 286.4Z"/>
<path fill="#70a8cf" stroke="#70a8cf" stroke-width=".6" d="M135.6 272.3A142.2 140.0 0 0 1 145.4 264.8L150.2 271.6A133.9 131.7 0 0 0 141.0 278.6Z"/>
<path fill="#7eb5d5" stroke="#7eb5d5" stroke-width=".6" d="M145.4 264.8A142.2 140.0 0 0 1 155.9 258.3L160.1 265.4A133.9 131.7 0 0 0 150.2 271.6Z"/>
<path fill="#b1dceb" stroke="#b1dceb" stroke-width=".6" d="M155.9 258.3A142.2 140.0 0 0 1 166.9 252.6L170.4 260.1A133.9 131.7 0 0 0 160.1 265.4Z"/>
<path fill="#4b7cb7" stroke="#4b7cb7" stroke-width=".6" d="M166.9 252.6A142.2 140.0 0 0 1 178.4 248.0L181.2 255.7A133.9 131.7 0 0 0 170.4 260.1Z"/>
<path fill="#6fa7ce" stroke="#6fa7ce" stroke-width=".6" d="M178.4 248.0A142.2 140.0 0 0 1 190.2 244.3L192.4 252.3A133.9 131.7 0 0 0 181.2 255.7Z"/>
<path fill="#90c3dd" stroke="#90c3dd" stroke-width=".6" d="M190.2 244.3A142.2 140.0 0 0 1 202.3 241.7L203.8 249.8A133.9 131.7 0 0 0 192.4 252.3Z"/>
<path fill="#5588be" stroke="#5588be" stroke-width=".6" d="M202.3 241.7A142.2 140.0 0 0 1 214.6 240.1L215.3 248.3A133.9 131.7 0 0 0 203.8 249.8Z"/>
<path fill="#5f94c4" stroke="#5f94c4" stroke-width=".6" d="M214.6 240.1A142.2 140.0 0 0 1 227.0 239.5L227.0 247.8A133.9 131.7 0 0 0 215.3 248.3Z"/>
<path fill="#88bdda" stroke="#88bdda" stroke-width=".6" d="M227.0 231.3A150.6 148.2 0 0 1 240.1 231.9L239.4 240.1A142.2 140.0 0 0 0 227.0 239.5Z"/>
<path fill="#b2ddeb" stroke="#b2ddeb" stroke-width=".6" d="M240.1 231.9A150.6 148.2 0 0 1 253.2 233.6L251.7 241.7A142.2 140.0 0 0 0 239.4 240.1Z"/>
<path fill="#b6dfec" stroke="#b6dfec" stroke-width=".6" d="M253.2 233.6A150.6 148.2 0 0 1 266.0 236.3L263.8 244.3A142.2 140.0 0 0 0 251.7 241.7Z"/>
<path fill="#4f81ba" stroke="#4f81ba" stroke-width=".6" d="M266.0 236.3A150.6 148.2 0 0 1 278.5 240.2L275.6 248.0A142.2 140.0 0 0 0 263.8 244.3Z"/>
<path fill="#3c5aa7" stroke="#3c5aa7" stroke-width=".6" d="M278.5 240.2A150.6 148.2 0 0 1 290.6 245.2L287.1 252.6A142.2 140.0 0 0 0 275.6 248.0Z"/>
<path fill="#436eb0" stroke="#436eb0" stroke-width=".6" d="M290.6 245.2A150.6 148.2 0 0 1 302.3 251.2L298.1 258.3A142.2 140.0 0 0 0 287.1 252.6Z"/>
<path fill="#72abd0" stroke="#72abd0" stroke-width=".6" d="M302.3 251.2A150.6 148.2 0 0 1 323.8 266.0L318.4 272.3A142.2 140.0 0 0 0 298.1 258.3Z"/>
<path fill="#a6d5e7" stroke="#a6d5e7" stroke-width=".6" d="M323.8 266.0A150.6 148.2 0 0 1 333.5 274.7L327.6 280.5A142.2 140.0 0 0 0 318.4 272.3Z"/>
<path fill="#d6eef5" stroke="#d6eef5" stroke-width=".6" d="M333.5 274.7A150.6 148.2 0 0 1 342.4 284.2L336.0 289.5A142.2 140.0 0 0 0 327.6 280.5Z"/>
<path fill="#c4e5f0" stroke="#c4e5f0" stroke-width=".6" d="M342.4 284.2A150.6 148.2 0 0 1 350.4 294.5L343.5 299.2A142.2 140.0 0 0 0 336.0 289.5Z"/>
<path fill="#6da5cd" stroke="#6da5cd" stroke-width=".6" d="M350.4 294.5A150.6 148.2 0 0 1 357.4 305.4L350.2 309.5A142.2 140.0 0 0 0 343.5 299.2Z"/>
<path fill="#6aa1cb" stroke="#6aa1cb" stroke-width=".6" d="M357.4 305.4A150.6 148.2 0 0 1 363.5 316.9L355.9 320.3A142.2 140.0 0 0 0 350.2 309.5Z"/>
<path fill="#73abd0" stroke="#73abd0" stroke-width=".6" d="M363.5 316.9A150.6 148.2 0 0 1 368.5 328.8L360.7 331.6A142.2 140.0 0 0 0 355.9 320.3Z"/>
<path fill="#72aacf" stroke="#72aacf" stroke-width=".6" d="M368.5 328.8A150.6 148.2 0 0 1 372.5 341.1L364.4 343.3A142.2 140.0 0 0 0 360.7 331.6Z"/>
<path fill="#72aad0" stroke="#72aad0" stroke-width=".6" d="M372.5 341.1A150.6 148.2 0 0 1 375.3 353.8L367.1 355.2A142.2 140.0 0 0 0 364.4 343.3Z"/>
<path fill="#79b1d3" stroke="#79b1d3" stroke-width=".6" d="M375.3 353.8A150.6 148.2 0 0 1 377.0 366.6L368.7 367.3A142.2 140.0 0 0 0 367.1 355.2Z"/>
<path fill="#97c9e0" stroke="#97c9e0" stroke-width=".6" d="M377.0 366.6A150.6 148.2 0 0 1 377.6 379.5L369.2 379.5A142.2 140.0 0 0 0 368.7 367.3Z"/>
<path fill="#a4d3e6" stroke="#a4d3e6" stroke-width=".6" d="M377.6 379.5A150.6 148.2 0 0 1 377.0 392.4L368.7 391.7A142.2 140.0 0 0 0 369.2 379.5Z"/>
<path fill="#89beda" stroke="#89beda" stroke-width=".6" d="M377.0 392.4A150.6 148.2 0 0 1 375.3 405.2L367.1 403.8A142.2 140.0 0 0 0 368.7 391.7Z"/>
<path fill="#5e93c3" stroke="#5e93c3" stroke-width=".6" d="M375.3 405.2A150.6 148.2 0 0 1 372.5 417.9L364.4 415.7A142.2 140.0 0 0 0 367.1 403.8Z"/>
<path fill="#598dc0" stroke="#598dc0" stroke-width=".6" d="M372.5 417.9A150.6 148.2 0 0 1 368.5 430.2L360.7 427.4A142.2 140.0 0 0 0 364.4 415.7Z"/>
<path fill="#3f62ab" stroke="#3f62ab" stroke-width=".6" d="M368.5 430.2A150.6 148.2 0 0 1 363.5 442.1L355.9 438.7A142.2 140.0 0 0 0 360.7 427.4Z"/>
<path fill="#3e5fa9" stroke="#3e5fa9" stroke-width=".6" d="M363.5 442.1A150.6 148.2 0 0 1 357.4 453.6L350.2 449.5A142.2 140.0 0 0 0 355.9 438.7Z"/>
<path fill="#6ca3cc" stroke="#6ca3cc" stroke-width=".6" d="M357.4 453.6A150.6 148.2 0 0 1 350.4 464.5L343.5 459.8A142.2 140.0 0 0 0 350.2 449.5Z"/>
<path fill="#9acbe1" stroke="#9acbe1" stroke-width=".6" d="M350.4 464.5A150.6 148.2 0 0 1 342.4 474.8L336.0 469.5A142.2 140.0 0 0 0 343.5 459.8Z"/>
<path fill="#addae9" stroke="#addae9" stroke-width=".6" d="M342.4 474.8A150.6 148.2 0 0 1 333.5 484.3L327.6 478.5A142.2 140.0 0 0 0 336.0 469.5Z"/>
<path fill="#97c9e0" stroke="#97c9e0" stroke-width=".6" d="M333.5 484.3A150.6 148.2 0 0 1 323.8 493.0L318.4 486.7A142.2 140.0 0 0 0 327.6 478.5Z"/>
<path fill="#6da5cd" stroke="#6da5cd" stroke-width=".6" d="M323.8 493.0A150.6 148.2 0 0 1 313.4 500.9L308.6 494.2A142.2 140.0 0 0 0 318.4 486.7Z"/>
<path fill="#3c5aa7" stroke="#3c5aa7" stroke-width=".6" d="M313.4 500.9A150.6 148.2 0 0 1 302.3 507.8L298.1 500.7A142.2 140.0 0 0 0 308.6 494.2Z"/>
<path fill="#4067ad" stroke="#4067ad" stroke-width=".6" d="M302.3 507.8A150.6 148.2 0 0 1 290.6 513.8L287.1 506.4A142.2 140.0 0 0 0 298.1 500.7Z"/>
<path fill="#edeed5" stroke="#edeed5" stroke-width=".6" d="M290.6 513.8A150.6 148.2 0 0 1 278.5 518.8L275.6 511.0A142.2 140.0 0 0 0 287.1 506.4Z"/>
<path fill="#c6e6f1" stroke="#c6e6f1" stroke-width=".6" d="M278.5 518.8A150.6 148.2 0 0 1 266.0 522.7L263.8 514.7A142.2 140.0 0 0 0 275.6 511.0Z"/>
<path fill="#6ca3cc" stroke="#6ca3cc" stroke-width=".6" d="M266.0 522.7A150.6 148.2 0 0 1 253.2 525.4L251.7 517.3A142.2 140.0 0 0 0 263.8 514.7Z"/>
<path fill="#77b0d2" stroke="#77b0d2" stroke-width=".6" d="M253.2 525.4A150.6 148.2 0 0 1 240.1 527.1L239.4 518.9A142.2 140.0 0 0 0 251.7 517.3Z"/>
<path fill="#3951a2" stroke="#3951a2" stroke-width=".6" d="M240.1 527.1A150.6 148.2 0 0 1 227.0 527.7L227.0 519.5A142.2 140.0 0 0 0 239.4 518.9Z"/>
<path fill="#cbe9f2" stroke="#cbe9f2" stroke-width=".6" d="M227.0 527.7A150.6 148.2 0 0 1 213.9 527.1L214.6 518.9A142.2 140.0 0 0 0 227.0 519.5Z"/>
<path fill="#e9efdf" stroke="#e9efdf" stroke-width=".6" d="M213.9 527.1A150.6 148.2 0 0 1 200.8 525.4L202.3 517.3A142.2 140.0 0 0 0 214.6 518.9Z"/>
<path fill="#e3f2f1" stroke="#e3f2f1" stroke-width=".6" d="M200.8 525.4A150.6 148.2 0 0 1 188.0 522.7L190.2 514.7A142.2 140.0 0 0 0 202.3 517.3Z"/>
<path fill="#82b8d7" stroke="#82b8d7" stroke-width=".6" d="M188.0 522.7A150.6 148.2 0 0 1 175.5 518.8L178.4 511.0A142.2 140.0 0 0 0 190.2 514.7Z"/>
<path fill="#3a53a3" stroke="#3a53a3" stroke-width=".6" d="M175.5 518.8A150.6 148.2 0 0 1 163.4 513.8L166.9 506.4A142.2 140.0 0 0 0 178.4 511.0Z"/>
<path fill="#598dc0" stroke="#598dc0" stroke-width=".6" d="M163.4 513.8A150.6 148.2 0 0 1 151.7 507.8L155.9 500.7A142.2 140.0 0 0 0 166.9 506.4Z"/>
<path fill="#a8d6e8" stroke="#a8d6e8" stroke-width=".6" d="M151.7 507.8A150.6 148.2 0 0 1 140.6 500.9L145.4 494.2A142.2 140.0 0 0 0 155.9 500.7Z"/>
<path fill="#aedaea" stroke="#aedaea" stroke-width=".6" d="M140.6 500.9A150.6 148.2 0 0 1 130.2 493.0L135.6 486.7A142.2 140.0 0 0 0 145.4 494.2Z"/>
<path fill="#a1d1e5" stroke="#a1d1e5" stroke-width=".6" d="M130.2 493.0A150.6 148.2 0 0 1 120.5 484.3L126.4 478.5A142.2 140.0 0 0 0 135.6 486.7Z"/>
<path fill="#6ea6cd" stroke="#6ea6cd" stroke-width=".6" d="M120.5 484.3A150.6 148.2 0 0 1 111.6 474.8L118.0 469.5A142.2 140.0 0 0 0 126.4 478.5Z"/>
<path fill="#4167ad" stroke="#4167ad" stroke-width=".6" d="M111.6 474.8A150.6 148.2 0 0 1 103.6 464.5L110.5 459.8A142.2 140.0 0 0 0 118.0 469.5Z"/>
<path fill="#426cb0" stroke="#426cb0" stroke-width=".6" d="M103.6 464.5A150.6 148.2 0 0 1 96.6 453.6L103.8 449.5A142.2 140.0 0 0 0 110.5 459.8Z"/>
<path fill="#4065ac" stroke="#4065ac" stroke-width=".6" d="M96.6 453.6A150.6 148.2 0 0 1 90.5 442.1L98.1 438.7A142.2 140.0 0 0 0 103.8 449.5Z"/>
<path fill="#6aa1cb" stroke="#6aa1cb" stroke-width=".6" d="M90.5 442.1A150.6 148.2 0 0 1 85.5 430.2L93.3 427.4A142.2 140.0 0 0 0 98.1 438.7Z"/>
<path fill="#bce1ee" stroke="#bce1ee" stroke-width=".6" d="M85.5 430.2A150.6 148.2 0 0 1 81.5 417.9L89.6 415.7A142.2 140.0 0 0 0 93.3 427.4Z"/>
<path fill="#afdbea" stroke="#afdbea" stroke-width=".6" d="M81.5 417.9A150.6 148.2 0 0 1 78.7 405.2L86.9 403.8A142.2 140.0 0 0 0 89.6 415.7Z"/>
<path fill="#3d5ca8" stroke="#3d5ca8" stroke-width=".6" d="M78.7 405.2A150.6 148.2 0 0 1 77.0 392.4L85.3 391.7A142.2 140.0 0 0 0 86.9 403.8Z"/>
<path fill="#6da4cd" stroke="#6da4cd" stroke-width=".6" d="M77.0 392.4A150.6 148.2 0 0 1 76.4 379.5L84.8 379.5A142.2 140.0 0 0 0 85.3 391.7Z"/>
<path fill="#679ec9" stroke="#679ec9" stroke-width=".6" d="M76.4 379.5A150.6 148.2 0 0 1 77.0 366.6L85.3 367.3A142.2 140.0 0 0 0 84.8 379.5Z"/>
<path fill="#3c57a5" stroke="#3c57a5" stroke-width=".6" d="M77.0 366.6A150.6 148.2 0 0 1 78.7 353.8L86.9 355.2A142.2 140.0 0 0 0 85.3 367.3Z"/>
<path fill="#b0dcea" stroke="#b0dcea" stroke-width=".6" d="M78.7 353.8A150.6 148.2 0 0 1 81.5 341.1L89.6 343.3A142.2 140.0 0 0 0 86.9 355.2Z"/>
<path fill="#f2ecc9" stroke="#f2ecc9" stroke-width=".6" d="M81.5 341.1A150.6 148.2 0 0 1 85.5 328.8L93.3 331.6A142.2 140.0 0 0 0 89.6 343.3Z"/>
<path fill="#e6f1e9" stroke="#e6f1e9" stroke-width=".6" d="M85.5 328.8A150.6 148.2 0 0 1 90.5 316.9L98.1 320.3A142.2 140.0 0 0 0 93.3 331.6Z"/>
<path fill="#6aa1cb" stroke="#6aa1cb" stroke-width=".6" d="M90.5 316.9A150.6 148.2 0 0 1 96.6 305.4L103.8 309.5A142.2 140.0 0 0 0 98.1 320.3Z"/>
<path fill="#3f64ab" stroke="#3f64ab" stroke-width=".6" d="M96.6 305.4A150.6 148.2 0 0 1 103.6 294.5L110.5 299.2A142.2 140.0 0 0 0 103.8 309.5Z"/>
<path fill="#3e60aa" stroke="#3e60aa" stroke-width=".6" d="M103.6 294.5A150.6 148.2 0 0 1 111.6 284.2L118.0 289.5A142.2 140.0 0 0 0 110.5 299.2Z"/>
<path fill="#e7f0e4" stroke="#e7f0e4" stroke-width=".6" d="M111.6 284.2A150.6 148.2 0 0 1 120.5 274.7L126.4 280.5A142.2 140.0 0 0 0 118.0 289.5Z"/>
<path fill="#e7f0e5" stroke="#e7f0e5" stroke-width=".6" d="M120.5 274.7A150.6 148.2 0 0 1 130.2 266.0L135.6 272.3A142.2 140.0 0 0 0 126.4 280.5Z"/>
<path fill="#6aa1cb" stroke="#6aa1cb" stroke-width=".6" d="M130.2 266.0A150.6 148.2 0 0 1 140.6 258.1L145.4 264.8A142.2 140.0 0 0 0 135.6 272.3Z"/>
<path fill="#71a9cf" stroke="#71a9cf" stroke-width=".6" d="M140.6 258.1A150.6 148.2 0 0 1 151.7 251.2L155.9 258.3A142.2 140.0 0 0 0 145.4 264.8Z"/>
<path fill="#b5deec" stroke="#b5deec" stroke-width=".6" d="M151.7 251.2A150.6 148.2 0 0 1 163.4 245.2L166.9 252.6A142.2 140.0 0 0 0 155.9 258.3Z"/>
<path fill="#4c7db8" stroke="#4c7db8" stroke-width=".6" d="M163.4 245.2A150.6 148.2 0 0 1 175.5 240.2L178.4 248.0A142.2 140.0 0 0 0 166.9 252.6Z"/>
<path fill="#6ea6cd" stroke="#6ea6cd" stroke-width=".6" d="M175.5 240.2A150.6 148.2 0 0 1 188.0 236.3L190.2 244.3A142.2 140.0 0 0 0 178.4 248.0Z"/>
<path fill="#8fc3dd" stroke="#8fc3dd" stroke-width=".6" d="M188.0 236.3A150.6 148.2 0 0 1 200.8 233.6L202.3 241.7A142.2 140.0 0 0 0 190.2 244.3Z"/>
<path fill="#4e80b9" stroke="#4e80b9" stroke-width=".6" d="M200.8 233.6A150.6 148.2 0 0 1 213.9 231.9L214.6 240.1A142.2 140.0 0 0 0 202.3 241.7Z"/>
<path fill="#73acd0" stroke="#73acd0" stroke-width=".6" d="M213.9 231.9A150.6 148.2 0 0 1 227.0 231.3L227.0 239.5A142.2 140.0 0 0 0 214.6 240.1Z"/>
</g>
<g fill="none" stroke="#f4f0a6" stroke-width="1">
<ellipse cx="227" cy="379.5" rx="151.5" ry="149"/>
<ellipse cx="227" cy="379.5" rx="101" ry="99.3"/>
<ellipse cx="227" cy="379.5" rx="50.5" ry="49.7"/>
<path shape-rendering="crispEdges" d="M75.5 379.5H378.5M227.5 230.5V528.5"/>
<path d="M119.9 274.1L334.1 484.9M119.9 484.9L334.1 274.1"/>
</g>
<path d="M227.5 379.5L127 409.3" stroke="#ffa500" stroke-width="1.1" fill="none"/>
<g fill="#ffa500" shape-rendering="crispEdges">
<circle cx="118.5" cy="397.6" r="3.1"/>
<circle cx="119.8" cy="400.0" r="3.1"/>
<circle cx="121.1" cy="402.0" r="3.1"/>
<circle cx="122.6" cy="403.3" r="3.1"/>
<circle cx="124.0" cy="404.6" r="3.1"/>
<circle cx="125.0" cy="406.0" r="3.1"/>
<circle cx="125.8" cy="407.5" r="3.1"/>
<circle cx="126.6" cy="409.0" r="3.1"/>
<circle cx="127.2" cy="410.5" r="3.1"/>
<circle cx="127.4" cy="412.2" r="3.1"/>
<circle cx="127.5" cy="413.9" r="3.1"/>
<circle cx="127.5" cy="415.6" r="3.1"/>
</g>
</g>

<!-- WATERFALL -->
<g id="wf">
<text class="m" x="722" y="187">Waterfall Plot</text>
<g stroke="#f4f4b0" stroke-width="1" fill="none">
<path shape-rendering="crispEdges" d="M507.5 298V469"/>
<path shape-rendering="crispEdges" d="M507 298.5h7.5M507 326.5h7.5M507 355.5h7.5M507 383.5h7.5M507 411.5h7.5M507 440.5h7.5M507 468.5h7.5"/>
<path d="M508.0 468.3L781.3 517.4L936.7 433.1L663.4 384.0Z"/>
<path d="M508.0 468.3l6.2 -3.3M663.4 384.0l-6.2 3.3M553.5 476.5l3.1 -1.7M709.0 392.2l-3.1 1.7M599.1 484.7l6.2 -3.3M754.5 400.4l-6.2 3.3M644.6 492.9l3.1 -1.7M800.1 408.6l-3.1 1.7M690.2 501.0l6.2 -3.3M845.6 416.7l-6.2 3.3M735.8 509.2l3.1 -1.7M891.2 424.9l-3.1 1.7M781.3 517.4l6.2 -3.3M936.7 433.1l-6.2 3.3M781.3 517.4l-6.9 -1.2M508.0 468.3l6.9 1.2M803.5 505.4l-6.9 -1.2M530.2 456.3l6.9 1.2M825.7 493.3l-6.9 -1.2M552.4 444.2l6.9 1.2M847.9 481.3l-6.9 -1.2M574.6 432.2l6.9 1.2M870.1 469.2l-6.9 -1.2M596.8 420.1l6.9 1.2M892.3 457.2l-6.9 -1.2M619.0 408.1l6.9 1.2M914.5 445.1l-6.9 -1.2M641.2 396.0l6.9 1.2M936.7 433.1l-6.9 -1.2M663.4 384.0l6.9 1.2"/>
</g>
<text class="e" x="494" y="302.6">0</text>
<text class="e" x="494" y="330.8">-20</text>
<text class="e" x="494" y="359.1">-40</text>
<text class="e" x="494" y="387.3">-60</text>
<text class="e" x="494" y="415.6">-80</text>
<text class="e" x="494" y="443.8">-100</text>
<text class="e" x="494" y="472.0">-120</text>
<text class="m" transform="translate(448,382) rotate(-90)">PSD (dBm)</text>
<text class="m" x="502.0" y="477.0">15:26:40</text>
<text class="m" x="593.1" y="493.4">15:27:00</text>
<text class="m" x="684.2" y="509.7">15:27:20</text>
<text class="m" x="772.8" y="526.1">15:27:40</text>
<text class="m" x="812.5" y="523.4">1210</text>
<text class="m" x="834.7" y="511.4">1215</text>
<text class="m" x="856.9" y="499.3">1220</text>
<text class="m" x="879.1" y="487.3">1225</text>
<text class="m" x="901.3" y="475.2">1230</text>
<text class="m" x="923.5" y="463.2">1235</text>
<text class="m" x="945.7" y="451.1">1240</text>
<text class="m" x="967.9" y="439.1">1245</text>
<text class="m" transform="translate(600.4,514.5) rotate(10.2)" y="5.7">Time (UTC)</text>
<text class="m" transform="translate(932.9,487.9) rotate(-28.3)" y="5.7">Frequency (MHz)</text>
<defs>
<clipPath id="wfc"><polygon points="587.5,440.5 588.8,439.3 590.1,438.1 591.4,436.5 592.7,434.1 594.0,434.7 595.0,432.8 595.9,431.5 596.9,431.5 597.9,429.1 598.8,428.3 599.8,427.6 600.7,426.5 601.7,425.6 602.7,425.0 603.6,423.3 604.6,421.8 604.8,416.2 604.9,418.2 605.1,417.6 605.3,414.5 605.5,414.2 605.6,411.9 605.8,410.0 606.0,407.6 606.3,405.0 606.5,400.7 606.7,402.9 607.0,401.3 607.2,397.8 607.4,398.1 607.6,397.5 607.9,394.8 608.1,393.7 608.5,388.2 608.9,390.1 609.3,388.7 609.7,386.7 610.0,386.0 610.4,385.1 610.8,383.4 611.2,381.9 611.6,379.6 612.0,377.5 612.4,376.0 612.8,375.1 613.2,372.6 613.6,372.2 614.0,370.3 615.4,369.4 616.8,366.5 618.2,367.3 619.6,365.7 621.0,365.1 622.6,363.6 624.1,363.1 625.7,360.9 627.3,363.3 628.8,362.4 630.4,361.4 631.8,356.0 633.1,360.5 634.5,359.7 635.9,358.5 637.3,358.2 638.6,357.9 640.0,357.6 641.4,356.2 642.8,356.1 644.1,355.1 645.5,354.0 646.8,349.9 648.2,353.0 649.6,351.1 650.9,350.4 652.3,347.0 653.6,348.8 655.0,348.0 656.4,347.4 657.8,344.0 659.2,346.4 660.6,346.2 662.0,345.6 663.4,343.7 664.8,344.3 666.2,343.1 667.6,342.3 669.0,341.7 670.4,341.4 671.8,339.8 673.2,339.2 674.6,339.0 676.0,339.3 677.4,336.9 678.8,337.5 680.2,335.1 681.6,331.9 683.0,335.1 684.2,331.8 685.4,333.0 686.6,331.9 687.8,330.8 689.0,329.3 690.6,325.7 692.2,329.1 693.8,328.2 695.4,328.4 697.0,328.4 698.6,328.4 700.2,327.2 701.8,327.0 703.2,325.9 704.6,325.8 706.0,324.7 707.4,324.1 708.8,322.7 710.5,322.0 712.1,323.2 713.8,321.9 715.5,319.1 717.2,321.9 718.8,320.8 720.5,321.5 722.1,322.1 723.7,320.3 725.2,321.7 726.8,322.1 728.4,320.5 730.0,321.9 731.7,322.2 733.3,322.7 735.0,322.8 736.7,323.6 738.3,323.9 740.0,323.5 741.5,323.0 743.0,322.3 744.5,322.5 746.0,321.6 747.5,317.8 748.9,319.7 750.4,318.8 751.9,318.5 753.4,318.0 754.9,317.4 756.4,317.2 758.0,315.1 759.5,315.8 761.1,315.6 762.6,313.1 764.2,314.7 765.8,314.7 767.3,314.4 768.8,312.7 770.4,315.1 772.0,315.8 773.5,315.4 774.2,316.6 775.0,319.4 775.7,321.1 776.5,320.5 777.2,323.6 778.9,323.8 780.5,323.8 782.2,322.3 783.9,321.9 785.5,323.3 787.2,322.4 788.9,322.5 790.5,322.9 792.2,319.0 793.8,322.8 795.5,322.2 797.1,322.9 798.1,325.2 799.1,324.9 800.1,327.5 801.1,328.4 802.1,329.8 802.5,330.4 802.9,332.1 803.3,334.0 803.7,331.7 804.1,337.6 804.5,338.7 805.0,340.0 805.4,341.0 805.8,343.4 806.2,345.0 806.6,346.2 807.0,347.2 808.5,345.4 810.0,345.2 811.5,348.2 813.0,349.0 814.5,348.5 816.2,348.0 817.8,346.6 819.5,346.0 820.3,348.0 821.2,348.5 822.0,351.0 823.4,349.8 824.8,348.9 826.1,348.3 827.5,348.0 828.9,348.1 830.3,345.7 831.6,344.9 833.0,344.9 834.4,344.2 835.9,340.0 837.4,343.4 838.9,343.0 840.4,343.0 841.8,340.1 843.3,337.9 844.8,341.8 846.3,340.8 847.8,340.6 849.3,341.0 850.7,341.5 852.1,342.1 853.5,342.5 855.0,340.1 856.4,343.6 857.8,341.5 859.2,344.7 860.2,346.3 861.3,347.3 862.3,348.5 863.3,350.1 864.4,351.7 865.4,352.2 865.9,353.4 866.4,355.2 866.9,357.0 867.4,358.8 867.9,356.3 868.4,360.7 868.9,360.6 869.4,364.0 869.9,364.9 870.4,366.6 872.1,366.0 873.9,361.5 875.6,365.9 877.4,365.3 879.1,365.1 879.7,366.4 880.4,367.8 881.0,370.3 881.6,370.3 882.2,371.8 882.9,374.4 883.5,374.7 884.1,377.0 885.3,377.5 886.5,379.8 887.8,380.5 889.0,382.0 889.2,382.8 889.5,385.7 889.8,386.4 890.0,387.6 890.2,390.2 890.5,390.7 890.8,392.2 891.0,394.5 891.2,395.5 891.5,396.9 891.2,399.2 891.0,400.2 890.8,402.6 890.5,402.6 890.2,400.8 890.0,404.1 889.8,407.6 889.5,409.4 889.2,411.5 889.0,413.1 887.8,406.9 886.6,407.0 885.3,408.8 884.1,410.9 882.8,412.5 881.6,411.8 880.0,413.1 878.5,413.6 877.0,412.0 875.4,410.6 874.9,405.1 874.3,410.0 873.8,404.3 873.3,404.3 872.8,400.6 872.2,396.6 871.7,399.4 871.1,398.4 870.5,392.5 869.8,393.8 869.2,390.1 868.6,390.7 868.0,391.3 867.3,388.4 866.7,388.2 865.9,388.8 865.0,389.4 864.2,394.9 863.4,394.1 862.5,398.0 861.7,396.9 860.3,395.2 858.9,400.2 857.5,395.4 856.0,399.2 854.6,402.0 853.2,398.8 851.8,403.1 850.2,400.0 848.7,401.6 847.1,400.0 845.5,401.1 844.0,402.6 842.4,399.9 840.9,398.6 839.3,399.4 837.9,395.3 836.5,397.4 835.1,396.8 833.6,396.6 832.2,396.2 830.8,397.9 829.4,395.7 827.9,395.6 826.4,397.0 825.0,399.8 823.5,398.3 822.0,398.2 820.5,398.6 819.0,398.1 817.5,397.4 816.0,401.5 814.5,399.4 812.8,397.7 811.2,392.5 809.5,396.9 808.3,396.4 807.0,400.7 805.8,396.7 804.6,396.6 803.3,401.7 802.1,403.1 800.4,404.9 798.8,403.1 797.1,403.8 795.4,406.3 793.8,402.7 792.1,405.6 790.6,404.7 789.2,407.3 787.8,405.1 786.3,411.0 784.9,406.3 783.4,410.6 782.5,413.6 781.5,414.7 780.6,415.6 779.7,416.8 779.2,417.8 778.6,419.8 778.1,422.0 777.6,422.8 777.1,425.8 776.5,428.7 776.0,429.2 775.8,431.3 775.6,432.1 775.5,434.8 775.3,434.9 775.1,437.1 774.9,440.3 774.8,442.4 774.6,442.3 774.4,445.1 774.2,447.2 774.0,448.1 773.9,447.7 773.7,451.3 773.5,454.1 772.9,455.7 772.3,458.1 771.6,459.3 771.0,462.1 770.4,463.0 769.8,464.6 769.2,462.3 768.5,469.2 767.9,470.5 767.3,471.5 766.0,471.6 764.8,474.3 763.5,476.3 762.3,476.5 761.0,477.2 759.8,480.4 758.5,482.2 757.3,482.7 756.7,481.0 756.1,479.8 755.5,476.3 754.8,474.6 754.2,474.6 753.6,471.5 753.1,469.4 752.7,466.7 752.2,466.4 751.8,464.6 751.3,464.2 750.8,462.2 750.4,458.5 749.9,457.8 748.0,456.6 746.1,456.6 744.3,457.6 742.4,456.6 741.2,459.2 739.9,460.1 738.7,459.7 737.5,463.0 736.2,463.1 735.0,465.3 733.0,465.3 731.1,466.4 729.1,467.8 727.2,463.2 725.2,467.4 723.6,468.0 722.1,467.6 720.5,469.0 718.9,469.9 717.4,470.7 715.8,472.1 714.8,471.7 713.8,468.8 712.7,468.6 711.7,465.9 710.7,464.6 709.6,462.5 708.6,461.0 707.6,459.3 705.9,460.3 704.1,458.9 702.4,460.7 700.6,460.0 698.9,457.1 697.1,460.4 696.3,459.5 695.4,456.4 694.6,455.9 693.7,453.7 692.9,454.1 692.0,452.3 691.2,449.9 690.8,445.3 690.4,446.8 689.9,441.3 689.5,442.1 689.1,441.9 688.7,438.3 688.3,437.1 687.9,436.2 687.4,433.5 687.0,431.4 686.6,431.1 684.8,429.5 683.0,430.0 681.7,429.4 680.3,433.8 679.0,432.7 677.7,433.9 676.4,435.4 675.0,434.8 673.7,438.2 672.3,437.4 671.0,441.1 669.6,442.9 668.2,443.9 666.9,443.2 665.5,445.2 665.1,443.6 664.6,440.9 664.2,439.9 663.8,439.5 663.4,435.4 662.9,432.3 662.5,432.6 662.1,432.2 661.7,428.9 661.2,429.0 660.8,426.5 658.9,425.8 656.9,426.8 655.0,428.8 653.2,429.3 651.5,427.9 649.7,426.9 647.9,427.6 646.3,428.0 644.8,428.5 643.2,431.2 641.6,430.6 640.1,432.2 638.5,433.5 636.8,433.3 635.2,432.4 633.5,435.9 631.8,437.6 630.1,438.1 628.5,438.0 626.8,438.2 624.9,436.7 623.1,436.6 621.2,435.8 619.4,434.7 617.5,434.7 616.0,435.8 614.5,433.8 613.0,438.0 611.5,440.0 610.0,439.1 608.5,440.4 607.0,442.9 605.3,443.3 603.7,443.3 602.0,443.8 600.4,444.0 598.7,445.2 597.3,443.7 595.9,442.0 594.5,441.8 593.1,439.3 591.7,438.2"/></clipPath>
<linearGradient id="wfg" gradientUnits="userSpaceOnUse" x1="700.0" y1="310.0" x2="668.6" y2="484.4">
<stop offset="0.000" stop-color="#e4f4f8"/>
<stop offset="0.367" stop-color="#dcf0f6"/>
<stop offset="0.450" stop-color="#c6e5f0"/>
<stop offset="0.533" stop-color="#aed8ea"/>
<stop offset="0.617" stop-color="#98c8e2"/>
<stop offset="0.700" stop-color="#82b6d8"/>
<stop offset="0.783" stop-color="#6ea4d0"/>
<stop offset="0.867" stop-color="#5e94c8"/>
<stop offset="1.000" stop-color="#4f84be"/>
</linearGradient>
<filter id="b3" x="-20%" y="-20%" width="140%" height="140%"><feGaussianBlur stdDeviation="3"/></filter>
<filter id="b5" x="-20%" y="-20%" width="140%" height="140%"><feGaussianBlur stdDeviation="5"/></filter>
<filter id="b1" x="-20%" y="-20%" width="140%" height="140%"><feGaussianBlur stdDeviation="0.7"/></filter>
<filter id="b2" x="-20%" y="-20%" width="140%" height="140%"><feGaussianBlur stdDeviation="1.6"/></filter>
</defs>
<g clip-path="url(#wfc)">
<rect x="580" y="305" width="320" height="185" fill="url(#wfg)"/>
<!-- left top: light blue rather than white -->
<polygon filter="url(#b3)" fill="#bfe1ef" fill-opacity=".8" points="604,400 610,372 622,362 640,356 644,372 640,396 620,404"/>
<polygon filter="url(#b5)" fill="#74a9d5" fill-opacity=".35" points="588,448 606,420 610,398 640,398 652,430 618,442"/>
<!-- cream ridge band -->
<polygon filter="url(#b5)" fill="#f3edd2" fill-opacity=".8" points="642,366 652,356 676,344 695,335 713,325 741,323 760,318 776,318 780,326 800,326 802,338 790,346 776,346 741,356 713,368 690,368 670,366"/>
<polygon filter="url(#b3)" fill="#f6ebc6" fill-opacity=".42" points="690,350 712,334 740,330 762,328 760,338 738,348 712,358 696,360"/>
<!-- light-blue valley between main hump right face and second ridge -->
<polygon filter="url(#b3)" fill="#c2e2f0" fill-opacity=".9" points="796,324 803,330 808,348 822,352 830,348 812,360 796,366 780,372 778,356 792,346"/>
<!-- second ridge (later, lower) -->
<polygon filter="url(#b3)" fill="#f0f2e2" fill-opacity=".8" points="752,394 775,380 800,368 830,355 852,348 862,352 850,360 820,370 795,380 770,394 756,402"/>
<!-- lighter diagonal area lower right of body -->
<polygon filter="url(#b5)" fill="#b4daec" fill-opacity=".6" points="740,418 775,402 778,426 766,438 748,440"/>
<!-- darker lower-right lobe -->
<polygon filter="url(#b3)" fill="#6399cc" fill-opacity=".6" points="730,452 752,444 776,436 776,462 760,486 750,470 740,462 730,470"/>
<polygon filter="url(#b3)" fill="#6399cc" fill-opacity=".4" points="690,452 715,448 730,456 728,470 712,474 700,464"/>
<!-- right section lower blue lobes -->
<polygon filter="url(#b1)" fill="#b9deed" points="806,402 815,392 826,384 838,378 850,372 862,364 868,366 868,380 850,384 830,392 815,400"/>
<polygon filter="url(#b1)" fill="#78afd6" points="816,399 817,393 820,386 824,389 828,383 833,386 836,380 841,383 846,377 850,380 854,373 858,375 862,370 866,374 869,384 867,392 858,398 852,405 837,403 829,398 822,400"/>
<polygon filter="url(#b1)" fill="#5f96c9" points="828,393 836,388 842,392 848,388 853,394 852,405 840,403 832,399"/>
<polygon filter="url(#b1)" fill="#a4d2e8" points="852,375 858,370 864,366 868,372 867,379 860,375 855,379"/>
<!-- far right end blue -->
<polygon filter="url(#b1)" fill="#79afd7" points="866.5,358 878,362 882,374 887,377 894,398 891,418 873,416 869.5,397 867.5,380"/>
<polygon filter="url(#b2)" fill="#6399cc" points="874,392 886,384 894,398 891,418 876,416"/>

<g fill-opacity=".42"><path d="M764 503L768 502L766 471" fill="#5f95c8"/><path d="M592 440L596 441L593 457" fill="#6399ca"/><path d="M693 445L698 443L695 470" fill="#5d93c7"/><path d="M672 390L675 390L673 404" fill="#a5d2e7"/><path d="M747 448L750 450L751 432" fill="#79aed4"/><path d="M761 502L765 502L763 472" fill="#5489c1"/><path d="M672 472L678 470L675 456" fill="#578cc3"/><path d="M708 412L714 414L709 387" fill="#cae7f1"/><path d="M730 398L733 397L731 408" fill="#c6e5f0"/><path d="M732 388L735 388L734 422" fill="#c3e3ef"/><path d="M780 480L786 482L782 466" fill="#6da3cf"/><path d="M719 478L726 476L720 458" fill="#699fcd"/><path d="M786 400L791 401L787 413" fill="#b2daeb"/><path d="M656 381L660 383L656 404" fill="#c0e2ee"/><path d="M659 388L665 390L660 422" fill="#98c8e2"/><path d="M705 463L710 463L709 446" fill="#5e94c8"/><path d="M625 375L629 375L626 388" fill="#cae7f1"/><path d="M665 475L669 477L670 459" fill="#5489c1"/><path d="M609 506L614 503L610 479" fill="#4f84be"/><path d="M742 429L745 432L741 463" fill="#74a9d2"/><path d="M659 456L662 453L659 484" fill="#5085bf"/><path d="M695 418L698 415L697 440" fill="#92c3df"/><path d="M656 425L663 425L663 447" fill="#86b9da"/><path d="M753 431L755 432L754 459" fill="#72a7d1"/><path d="M739 452L746 452L743 420" fill="#9dcce4"/><path d="M670 398L675 397L669 422" fill="#add7e9"/><path d="M657 433L661 433L660 449" fill="#699fcd"/><path d="M748 488L751 488L748 473" fill="#6399ca"/><path d="M772 452L776 452L776 482" fill="#6399ca"/><path d="M639 384L643 381L644 412" fill="#b1daea"/><path d="M602 478L608 481L605 493" fill="#4f84be"/><path d="M627 441L633 439L632 416" fill="#73a8d2"/><path d="M742 415L748 417L747 394" fill="#cee9f2"/><path d="M632 396L638 394L635 410" fill="#99c8e2"/><path d="M653 388L656 386L653 373" fill="#b6dcec"/><path d="M667 441L671 442L669 454" fill="#7bafd5"/><path d="M648 471L652 469L649 501" fill="#4f84be"/><path d="M724 438L728 439L725 413" fill="#8cbedc"/><path d="M616 493L620 495L618 473" fill="#4f84be"/><path d="M684 406L690 405L690 396" fill="#c2e3ef"/><path d="M593 444L598 444L593 462" fill="#5489c1"/><path d="M592 461L597 461L595 477" fill="#588dc4"/><path d="M634 484L638 486L637 503" fill="#4f84be"/><path d="M736 461L742 461L738 487" fill="#568bc2"/><path d="M788 473L791 476L788 492" fill="#699fcd"/><path d="M638 447L643 446L638 464" fill="#568cc3"/><path d="M684 465L688 463L685 435" fill="#7aafd4"/><path d="M719 494L725 491L722 481" fill="#578cc3"/><path d="M650 442L655 440L653 464" fill="#6ba1ce"/><path d="M677 507L680 509L678 473" fill="#5287c0"/><path d="M745 421L749 420L745 401" fill="#a6d2e7"/><path d="M701 408L705 405L704 390" fill="#c9e6f0"/><path d="M698 450L704 453L701 432" fill="#81b5d7"/><path d="M666 406L671 408L670 430" fill="#89bcdb"/><path d="M633 439L639 440L637 471" fill="#588dc4"/><path d="M764 409L768 411L766 439" fill="#95c6e1"/><path d="M705 477L710 478L708 487" fill="#5a90c5"/><path d="M797 476L799 477L799 504" fill="#5388c0"/><path d="M682 503L688 501L683 473" fill="#4f84be"/><path d="M790 435L797 438L791 450" fill="#84b8d9"/><path d="M674 488L681 487L677 473" fill="#4f84be"/><path d="M745 406L751 405L750 391" fill="#b4dbeb"/><path d="M684 467L689 466L686 439" fill="#73a9d2"/><path d="M643 455L648 453L647 471" fill="#6298ca"/><path d="M602 392L606 394L602 415" fill="#8abcdb"/><path d="M736 454L741 453L737 436" fill="#8abddb"/><path d="M621 511L627 512L628 483" fill="#4f84be"/><path d="M734 440L741 443L735 413" fill="#8abcdb"/><path d="M625 472L630 470L630 489" fill="#5085bf"/><path d="M620 439L626 441L624 416" fill="#87bada"/><path d="M783 471L787 471L785 460" fill="#6399ca"/><path d="M634 472L638 472L638 444" fill="#5f95c8"/><path d="M652 372L659 375L654 405" fill="#cfe9f2"/><path d="M602 409L607 406L606 375" fill="#b5dceb"/><path d="M784 471L787 472L787 485" fill="#679dcc"/><path d="M617 433L621 435L621 406" fill="#97c7e1"/><path d="M592 427L597 427L594 454" fill="#598fc5"/><path d="M612 470L618 471L618 481" fill="#5287c0"/><path d="M667 480L670 479L669 500" fill="#5085be"/><path d="M644 438L648 440L644 456" fill="#5e94c8"/><path d="M642 444L648 445L645 426" fill="#83b6d8"/><path d="M593 429L596 430L594 407" fill="#8ec0dd"/><path d="M640 397L644 394L645 430" fill="#83b7d8"/><path d="M677 448L680 448L679 482" fill="#6399ca"/><path d="M694 415L697 415L694 447" fill="#8fc1de"/><path d="M617 387L623 388L623 405" fill="#b0d9ea"/><path d="M789 436L793 439L793 423" fill="#99c9e2"/><path d="M614 425L619 428L614 408" fill="#78add4"/><path d="M604 407L610 407L608 439" fill="#84b8d9"/><path d="M794 424L799 424L797 454" fill="#8ec0dd"/><path d="M712 433L716 431L714 444" fill="#72a7d1"/><path d="M694 460L698 459L697 446" fill="#72a7d1"/><path d="M734 414L740 414L737 400" fill="#c8e6f0"/><path d="M658 508L662 510L663 475" fill="#4f84be"/><path d="M654 435L659 436L656 462" fill="#6096c9"/><path d="M693 476L698 476L697 495" fill="#578cc3"/><path d="M600 408L605 408L602 420" fill="#9acae3"/><path d="M638 482L644 484L641 466" fill="#578cc3"/><path d="M650 485L654 485L652 467" fill="#588dc4"/><path d="M615 400L621 402L616 416" fill="#83b7d8"/><path d="M697 435L703 433L699 411" fill="#81b5d7"/><path d="M796 485L800 483L797 470" fill="#598fc4"/><path d="M772 490L778 490L774 459" fill="#598ec4"/><path d="M593 406L599 405L594 390" fill="#add7e9"/><path d="M725 450L732 452L731 467" fill="#7aafd4"/><path d="M752 410L756 411L754 432" fill="#9dcce4"/><path d="M700 405L706 402L702 423" fill="#97c7e1"/><path d="M789 464L794 462L791 444" fill="#8fc1de"/><path d="M676 443L682 440L676 475" fill="#598fc5"/><path d="M797 475L801 472L796 442" fill="#72a7d1"/><path d="M795 480L798 479L798 496" fill="#6399ca"/><path d="M799 444L805 441L801 428" fill="#abd5e8"/><path d="M600 437L602 436L601 426" fill="#649acb"/><path d="M797 471L804 473L800 496" fill="#598fc4"/><path d="M673 472L676 472L674 501" fill="#4f84be"/><path d="M720 447L724 447L723 418" fill="#7cb1d5"/><path d="M695 462L702 464L701 494" fill="#5c92c7"/><path d="M730 437L735 436L731 421" fill="#a1cfe5"/><path d="M676 459L680 461L678 483" fill="#6096c9"/><path d="M634 479L636 478L636 446" fill="#5187bf"/><path d="M703 512L707 509L705 484" fill="#4f84be"/><path d="M790 409L797 411L792 438" fill="#9dcbe3"/><path d="M716 424L721 426L717 458" fill="#91c2df"/><path d="M735 469L741 469L738 450" fill="#649acb"/><path d="M674 461L679 464L675 491" fill="#588ec4"/><path d="M629 374L631 376L630 398" fill="#a6d2e7"/><path d="M774 414L779 413L776 397" fill="#b0d9ea"/><path d="M704 466L708 464L706 440" fill="#6096c9"/><path d="M750 425L755 425L753 444" fill="#7fb4d7"/><path d="M598 451L601 450L601 481" fill="#568bc2"/><path d="M610 374L615 375L612 389" fill="#b2daeb"/><path d="M635 374L638 374L635 384" fill="#badeed"/><path d="M625 417L628 418L627 390" fill="#a8d4e8"/><path d="M735 448L739 448L739 429" fill="#7bb0d5"/><path d="M635 375L639 373L640 385" fill="#d3ebf3"/><path d="M733 450L739 451L738 471" fill="#6096c9"/><path d="M629 384L634 387L634 402" fill="#a0cee5"/><path d="M604 498L607 497L608 484" fill="#4f84be"/><path d="M713 461L716 462L714 434" fill="#81b5d7"/><path d="M703 435L708 438L705 410" fill="#9dcce4"/><path d="M654 415L660 416L656 392" fill="#b0d9ea"/><path d="M595 477L598 478L599 462" fill="#568cc3"/><path d="M779 456L783 456L782 469" fill="#82b6d8"/><path d="M641 453L645 455L642 475" fill="#5d93c7"/><path d="M628 429L631 430L630 399" fill="#a2cfe5"/><path d="M692 427L697 427L696 415" fill="#a1cee5"/><path d="M724 441L728 438L728 451" fill="#86b9da"/><path d="M616 436L619 437L618 415" fill="#6da3cf"/><path d="M619 401L622 399L622 390" fill="#9ecce4"/><path d="M758 439L762 440L758 453" fill="#7aafd5"/><path d="M702 414L705 412L702 438" fill="#9ccbe3"/><path d="M659 373L666 374L662 397" fill="#b7ddec"/><path d="M775 476L778 478L778 502" fill="#5388c0"/><path d="M671 481L677 480L677 468" fill="#5c92c6"/><path d="M778 471L785 469L781 437" fill="#6ea4d0"/><path d="M616 485L619 485L618 460" fill="#4f84be"/><path d="M628 452L633 451L627 429" fill="#649acb"/><path d="M588 443L592 441L591 409" fill="#7bb0d5"/><path d="M770 495L774 497L772 478" fill="#548ac1"/><path d="M782 446L789 448L784 459" fill="#8ec0dd"/><path d="M731 431L736 430L732 413" fill="#a7d3e7"/><path d="M765 478L768 476L766 504" fill="#5186bf"/><path d="M615 458L621 458L619 440" fill="#689ecd"/><path d="M639 396L644 396L640 378" fill="#a9d4e8"/><path d="M644 440L649 439L647 462" fill="#6da3cf"/><path d="M717 453L721 455L716 419" fill="#75aad3"/><path d="M737 432L744 433L741 465" fill="#71a7d1"/><path d="M651 414L657 411L651 429" fill="#92c3df"/><path d="M774 469L779 466L777 455" fill="#679dcc"/><path d="M619 471L622 473L618 460" fill="#4f84be"/><path d="M716 457L720 457L717 425" fill="#8fc0dd"/><path d="M626 379L631 381L629 411" fill="#bce0ed"/><path d="M648 391L653 391L652 422" fill="#8ec0dd"/><path d="M686 399L689 399L686 385" fill="#b1d9ea"/><path d="M795 467L798 467L795 440" fill="#75abd3"/><path d="M725 412L729 413L726 442" fill="#a7d2e7"/><path d="M609 479L616 482L613 462" fill="#4f84be"/><path d="M701 460L706 458L703 472" fill="#669ccc"/><path d="M647 454L650 454L649 480" fill="#5186bf"/><path d="M705 399L710 398L709 421" fill="#a1cee5"/><path d="M784 483L789 483L786 470" fill="#699fcd"/><path d="M651 425L655 425L655 408" fill="#a2cfe5"/><path d="M621 432L626 429L625 454" fill="#6197c9"/><path d="M654 445L658 443L655 422" fill="#6da3cf"/><path d="M692 430L699 430L696 415" fill="#89bcdb"/><path d="M698 395L703 393L701 411" fill="#a9d4e8"/><path d="M589 503L595 502L594 484" fill="#4f84be"/><path d="M693 457L698 459L694 438" fill="#689ecd"/><path d="M663 399L668 399L665 427" fill="#8dbfdd"/><path d="M733 476L737 476L736 452" fill="#6ca2cf"/><path d="M778 448L781 446L779 466" fill="#83b6d8"/><path d="M766 428L769 426L770 415" fill="#b6dcec"/><path d="M630 415L635 412L633 427" fill="#7eb2d6"/><path d="M651 423L656 421L653 411" fill="#87bada"/><path d="M766 449L769 448L769 480" fill="#72a8d1"/><path d="M714 465L717 466L714 481" fill="#568bc2"/><path d="M650 477L655 476L651 495" fill="#4f84be"/><path d="M599 418L603 420L598 406" fill="#9bcae3"/><path d="M702 390L706 389L705 410" fill="#aed8ea"/><path d="M736 478L739 478L739 461" fill="#6da3cf"/><path d="M715 411L718 411L716 387" fill="#b3dbeb"/><path d="M636 455L642 455L641 484" fill="#4f84be"/><path d="M682 400L685 400L684 424" fill="#8dbfdd"/><path d="M611 410L616 407L615 431" fill="#79aed4"/><path d="M700 452L704 455L700 484" fill="#568cc3"/><path d="M607 396L613 393L610 426" fill="#9dcce4"/><path d="M704 422L708 425L708 454" fill="#78add4"/><path d="M716 451L722 450L722 464" fill="#5c92c7"/><path d="M784 497L790 498L785 467" fill="#6aa0ce"/><path d="M697 457L699 456L696 481" fill="#5489c1"/><path d="M797 458L801 458L800 485" fill="#6197c9"/><path d="M611 388L615 390L612 372" fill="#c7e5f0"/><path d="M759 448L764 447L761 462" fill="#6aa0ce"/><path d="M599 475L606 477L605 449" fill="#4f84be"/><path d="M591 441L596 443L596 472" fill="#5287c0"/><path d="M714 502L720 503L719 468" fill="#4f84be"/><path d="M601 448L605 449L602 436" fill="#6ea4d0"/><path d="M664 377L669 376L667 404" fill="#b1d9ea"/><path d="M692 454L695 457L695 431" fill="#82b6d8"/><path d="M654 431L658 432L655 415" fill="#9ac9e2"/><path d="M720 440L723 442L720 474" fill="#659bcb"/><path d="M608 412L613 410L610 391" fill="#aed8ea"/><path d="M609 479L612 481L612 506" fill="#4f84be"/><path d="M770 444L774 442L773 428" fill="#a6d2e7"/><path d="M658 479L663 478L659 459" fill="#4f84be"/><path d="M631 476L634 473L634 488" fill="#4f84be"/><path d="M791 405L794 406L792 421" fill="#cee9f2"/><path d="M775 427L778 429L776 407" fill="#aad5e8"/><path d="M637 477L644 477L638 450" fill="#5d93c7"/><path d="M692 465L699 467L693 480" fill="#5d93c7"/><path d="M664 420L668 417L667 395" fill="#aad5e8"/><path d="M644 484L647 485L648 465" fill="#4f84be"/><path d="M735 419L739 419L738 397" fill="#aad5e8"/><path d="M722 458L728 460L722 424" fill="#89bcdb"/><path d="M615 406L621 403L615 381" fill="#9dcbe3"/><path d="M642 474L649 474L645 499" fill="#4f84be"/><path d="M776 461L783 460L777 447" fill="#6ca2cf"/><path d="M750 442L757 441L753 425" fill="#81b5d7"/><path d="M775 440L780 439L780 406" fill="#b7ddec"/><path d="M690 415L693 412L693 396" fill="#9bcae3"/><path d="M732 453L735 451L733 476" fill="#5f95c8"/><path d="M732 465L739 462L735 490" fill="#5d93c7"/><path d="M602 390L606 389L604 408" fill="#abd5e8"/><path d="M673 463L677 465L675 445" fill="#70a6d0"/><path d="M649 458L653 461L650 489" fill="#5b91c6"/><path d="M725 407L728 409L727 418" fill="#b5dceb"/><path d="M646 443L653 444L649 413" fill="#8dbfdd"/><path d="M668 436L672 434L670 462" fill="#77acd3"/><path d="M767 458L772 459L768 434" fill="#94c4e0"/><path d="M681 472L688 470L684 489" fill="#4f84be"/><path d="M636 418L640 419L640 403" fill="#9fcde4"/><path d="M754 425L757 428L755 447" fill="#9ac9e2"/><path d="M748 424L752 422L753 396" fill="#a5d1e6"/><path d="M693 484L698 486L696 504" fill="#4f84be"/><path d="M750 514L755 512L754 484" fill="#4f84be"/><path d="M679 482L683 480L681 496" fill="#4f84be"/><path d="M708 423L712 425L710 397" fill="#a3d0e6"/><path d="M685 411L690 413L687 391" fill="#c1e2ee"/><path d="M678 420L685 417L682 393" fill="#99c9e2"/><path d="M649 411L653 410L652 390" fill="#9dcce4"/><path d="M719 449L725 450L723 468" fill="#5e94c8"/><path d="M644 490L649 490L648 470" fill="#5489c1"/><path d="M608 495L610 497L608 484" fill="#4f84be"/><path d="M792 428L798 429L796 409" fill="#a6d2e7"/><path d="M781 448L785 448L781 467" fill="#6ba1ce"/><path d="M748 427L751 426L747 438" fill="#9bcae3"/><path d="M785 402L792 402L786 413" fill="#d7edf4"/><path d="M595 396L600 395L599 382" fill="#9acae3"/><path d="M706 398L711 400L706 413" fill="#9fcde4"/><path d="M696 410L701 412L699 393" fill="#a7d3e7"/><path d="M692 417L695 417L693 443" fill="#7aaed4"/><path d="M690 430L693 429L693 457" fill="#679dcc"/><path d="M703 431L707 430L706 458" fill="#6ca2cf"/><path d="M745 402L750 400L747 390" fill="#dbeff5"/><path d="M742 458L747 460L744 473" fill="#6096c9"/><path d="M696 485L701 484L699 462" fill="#5c92c7"/><path d="M676 465L682 468L682 444" fill="#5b90c6"/><path d="M752 450L757 451L753 466" fill="#78add4"/><path d="M663 474L666 473L664 505" fill="#5287c0"/><path d="M722 457L728 458L726 487" fill="#578cc3"/><path d="M677 454L681 454L678 435" fill="#80b4d7"/><path d="M732 476L738 476L737 462" fill="#5b90c6"/><path d="M779 474L785 475L780 489" fill="#558bc2"/><path d="M600 438L606 435L605 465" fill="#568cc3"/><path d="M699 457L701 459L699 487" fill="#5388c1"/><path d="M750 443L756 440L753 466" fill="#699fcd"/><path d="M747 394L751 396L750 419" fill="#a9d5e8"/><path d="M649 474L653 473L648 504" fill="#4f84be"/><path d="M652 414L655 411L654 431" fill="#92c3df"/><path d="M739 451L746 454L742 420" fill="#7bb0d5"/><path d="M603 413L607 415L604 438" fill="#8abcdb"/><path d="M599 399L606 398L601 381" fill="#b7ddec"/><path d="M791 434L795 436L794 411" fill="#bfe1ee"/><path d="M767 442L773 440L768 461" fill="#86b9d9"/><path d="M749 418L752 415L750 390" fill="#cde8f2"/><path d="M734 433L738 431L736 407" fill="#aed8ea"/><path d="M621 413L627 414L623 380" fill="#99c8e2"/><path d="M724 433L730 432L725 422" fill="#86b9da"/><path d="M655 457L659 460L658 478" fill="#5489c1"/><path d="M787 445L793 443L791 433" fill="#83b7d8"/><path d="M731 481L736 481L737 465" fill="#679dcc"/><path d="M751 432L756 431L753 409" fill="#9ac9e2"/><path d="M779 463L782 466L781 451" fill="#71a6d1"/><path d="M696 419L700 419L699 433" fill="#82b6d8"/><path d="M626 480L630 480L628 502" fill="#4f84be"/><path d="M633 487L638 487L637 455" fill="#5b91c6"/><path d="M653 408L659 406L658 380" fill="#bde0ed"/></g>
<path d="M776 335v8M801 338v5M719 390v11M671 336v13M829 379v7M806 331v7M621 341v12M809 349v6M832 398v13M758 336v12M780 388v12M742 398v9M727 375v12M764 396v7M843 391v8M619 372v11M860 369v12M808 342v11M725 345v7M706 381v10M695 334v12M806 389v12M628 350v9M689 388v7M616 362v5M619 372v10M752 335v10M747 351v7M652 364v8M763 377v7M769 348v12M665 372v12M818 367v13M866 385v8M681 374v6M658 337v11M820 367v8M695 334v6M837 351v5M865 357v12M633 363v11M699 377v6M632 336v12M855 394v10M743 385v11M758 342v6M633 360v8M858 333v12M643 337v13M669 372v10M715 354v6M791 356v10M823 335v9M772 344v9M616 366v6M648 366v10M667 371v8M793 334v13M728 342v8M774 337v13M669 359v6M730 397v7M658 368v11M649 345v10M674 332v11M836 386v13M667 352v10M771 374v10M672 347v6M627 371v6M838 397v6M861 374v5M711 355v8M629 347v5M728 364v7M850 392v9M819 355v12M813 355v12M703 342v9M641 380v7M740 387v10M846 381v11M803 378v13M765 376v10M750 396v8M661 365v8M796 375v5M666 373v9M787 363v6M790 398v6M771 373v11M742 365v14M837 360v12M784 386v14M630 345v7M823 395v7M737 392v12M763 393v13M687 373v12M688 351v13M816 398v6M774 382v14M799 350v6M657 348v10M695 340v6M789 387v6M745 399v8M750 387v5M837 384v12M700 364v13M628 336v11M858 340v7M731 385v10" stroke="#ffffff" stroke-opacity=".16" stroke-width="1" fill="none"/>
</g>
<path shape-rendering="crispEdges" d="M641.5 311.5L778.5 236.5V407.5L641.5 481.5Z" fill="none" stroke="#ff0000" stroke-width="1"/>
</g>

<!-- BOTTOM -->
<g id="bot">
<text class="m" x="533" y="602">Max Rx Power</text>
<rect class="ax" x="73.5" y="620.5" width="923" height="98"/>
<path class="dot" d="M75 655.5H996M381.5 630V718M689.5 630V718"/>
<path class="ax" d="M227.5 620.5v4M227.5 718.5v-4M535.5 620.5v4M535.5 718.5v-4M842.5 620.5v4M842.5 718.5v-4M73.5 655.5h8M996.5 655.5h-8M381.5 620.5v7.5M381.5 718.5v-7.5M689.5 620.5v7.5M689.5 718.5v-7.5"/>
<path d="M473.5 621V718" stroke="#ff0000" stroke-width="1" shape-rendering="crispEdges"/>
<polyline fill="none" stroke="#f2f200" stroke-width="1" shape-rendering="crispEdges" points="349.9,674.3 365.3,681.0 380.7,686.9 396.0,693.3 411.4,674.3 426.8,664.9 442.2,654.6 457.6,652.6 473.0,652.3 488.3,659.0 503.7,674.6 519.1,683.1 534.5,670.8 549.9,662.6 565.3,657.6 580.6,665.8 596.0,668.7 611.4,684.0 626.8,696.3"/>
<polyline fill="none" stroke="#f2f200" stroke-width="1" shape-rendering="crispEdges" points="780.6,684.5 796,683.5 811.4,683.7 819,684.6 826.8,686.5 828,686.6"/>
<text class="e" x="64" y="659.7">-100</text>
<text class="e" x="64" y="722.6">-120</text>
<text class="m" x="73" y="738">15:26:40</text>
<text class="m" x="381" y="738">15:27:00</text>
<text class="m" x="688" y="738">15:27:20</text>
<text class="m" x="996" y="738">15:27:40</text>
<text class="m" x="533" y="760">Time (UTC)</text>
<text class="m" transform="translate(17,669) rotate(-90)">Power (dBm)</text>
</g>
</svg>
</body>
</html>
